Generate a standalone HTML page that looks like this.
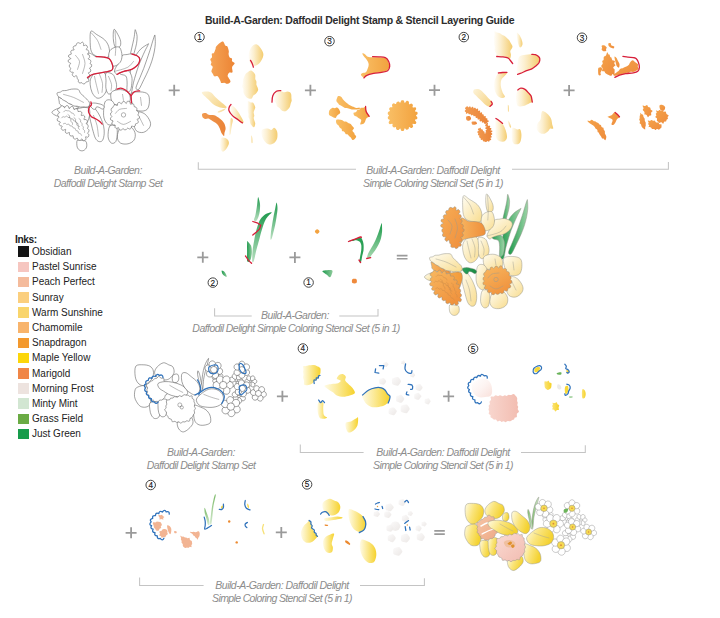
<!DOCTYPE html>
<html><head><meta charset="utf-8">
<style>
html,body{margin:0;padding:0;background:#fff;}
body{width:720px;height:618px;position:relative;overflow:hidden;font-family:"Liberation Sans",sans-serif;}
.t{position:absolute;white-space:nowrap;line-height:1;}
.ttl{font-weight:bold;color:#2d2d2d;font-size:10.5px;letter-spacing:-0.23px;}
.cap{font-style:italic;color:#8c8c8c;font-size:10.5px;letter-spacing:-0.5px;text-align:center;width:300px;}
.ink{font-size:10px;color:#222;}
.sw{position:absolute;width:10.5px;height:10.5px;left:18px;}
svg{position:absolute;left:0;top:0;}
</style></head><body>
<svg width="720" height="618" viewBox="0 0 720 618">
<defs>
<linearGradient id="gYl" x1="0" y1="0" x2="1" y2="0"><stop offset="0" stop-color="#fffdf8"/><stop offset="0.35" stop-color="#fcefcf"/><stop offset="1" stop-color="#f4cc6e"/></linearGradient>
<linearGradient id="gYlL" x1="0" y1="0" x2="1" y2="0.6"><stop offset="0" stop-color="#fdf3d8"/><stop offset="1" stop-color="#f6d68c"/></linearGradient>
<linearGradient id="gOr" x1="0" y1="0" x2="1" y2="0"><stop offset="0" stop-color="#f5a456"/><stop offset="1" stop-color="#ec8434"/></linearGradient>
<linearGradient id="gOr2" x1="0" y1="0" x2="1" y2="0"><stop offset="0" stop-color="#f19a50"/><stop offset="1" stop-color="#ea8338"/></linearGradient>
<linearGradient id="gPale" x1="0" y1="0" x2="1" y2="1"><stop offset="0" stop-color="#fffdf3"/><stop offset="1" stop-color="#f8dc8e"/></linearGradient>
<linearGradient id="gLeaf" x1="0" y1="0" x2="1" y2="0"><stop offset="0" stop-color="#1d9a4c"/><stop offset="1" stop-color="#9fd4a8"/></linearGradient>
<linearGradient id="gTube" x1="0" y1="0" x2="1" y2="0"><stop offset="0" stop-color="#f7b560"/><stop offset="1" stop-color="#ef8f3a"/></linearGradient>
<linearGradient id="gFront" x1="0" y1="0" x2="1" y2="1"><stop offset="0" stop-color="#f7ad55"/><stop offset="1" stop-color="#ef8e3c"/></linearGradient>
<linearGradient id="gTr3" x1="0" y1="0" x2="1" y2="0"><stop offset="0" stop-color="#f9bf66"/><stop offset="1" stop-color="#f2a23e"/></linearGradient>
<linearGradient id="gOr4" x1="0" y1="0" x2="1" y2="1"><stop offset="0" stop-color="#f4a24a"/><stop offset="1" stop-color="#ee8c3c"/></linearGradient>
<linearGradient id="gMY" x1="0" y1="0" x2="1" y2="0.35"><stop offset="0" stop-color="#fffbe4"/><stop offset="0.5" stop-color="#fae47a"/><stop offset="1" stop-color="#f4d230"/></linearGradient>
<linearGradient id="gLeaf2" x1="0" y1="0" x2="1" y2="0"><stop offset="0" stop-color="#7cbf6a"/><stop offset="1" stop-color="#d6ecd0"/></linearGradient>
<linearGradient id="gPeach" x1="0" y1="0" x2="1" y2="1"><stop offset="0" stop-color="#f6c6a8"/><stop offset="1" stop-color="#eeaa86"/></linearGradient>
<linearGradient id="gPink" x1="0" y1="0" x2="1" y2="1"><stop offset="0" stop-color="#fadbd4"/><stop offset="1" stop-color="#f2bcb0"/></linearGradient>
<linearGradient id="gLeafV" x1="0" y1="0" x2="0" y2="1"><stop offset="0" stop-color="#1f9a4e"/><stop offset="1" stop-color="#b9dfc0"/></linearGradient>
<linearGradient id="gLeafV2" x1="0" y1="0" x2="0" y2="1"><stop offset="0" stop-color="#1a9a4a"/><stop offset="1" stop-color="#a8d8b0"/></linearGradient>
<linearGradient id="gLeaf3" x1="0" y1="0" x2="0" y2="1"><stop offset="0" stop-color="#79b866"/><stop offset="1" stop-color="#d5ebcf"/></linearGradient>
<linearGradient id="gMY2" x1="0" y1="0" x2="1" y2="0"><stop offset="0" stop-color="#fffbe6"/><stop offset="1" stop-color="#f6d22c"/></linearGradient>
<linearGradient id="gMY3" x1="0" y1="0" x2="1" y2="0"><stop offset="0" stop-color="#fbe478"/><stop offset="1" stop-color="#f6d126"/></linearGradient>
<linearGradient id="gFrost" x1="0" y1="0" x2="1" y2="1"><stop offset="0" stop-color="#fbfafa"/><stop offset="1" stop-color="#ece8e6"/></linearGradient>
<linearGradient id="gPinkF" x1="0" y1="0" x2="1" y2="1"><stop offset="0" stop-color="#ffffff"/><stop offset="0.5" stop-color="#fdf3f1"/><stop offset="1" stop-color="#f9e0da"/></linearGradient>
<linearGradient id="gPink2" x1="0" y1="0" x2="1" y2="0"><stop offset="0" stop-color="#f8d6ce"/><stop offset="1" stop-color="#f2bcb0"/></linearGradient>
<linearGradient id="gTube2" x1="0" y1="0" x2="1" y2="0"><stop offset="0" stop-color="#f6a848"/><stop offset="1" stop-color="#f39a3a"/></linearGradient>
<linearGradient id="gStem" x1="0" y1="0" x2="1" y2="0"><stop offset="0" stop-color="#2aa05a"/><stop offset="1" stop-color="#1a8a44"/></linearGradient>
<linearGradient id="gLeafV3" x1="0" y1="0" x2="1" y2="0"><stop offset="0" stop-color="#1f9a4e"/><stop offset="1" stop-color="#8fcb9c"/></linearGradient>
<linearGradient id="gCen" x1="0" y1="0" x2="0.6" y2="1"><stop offset="0" stop-color="#f8b860"/><stop offset="1" stop-color="#f0933e"/></linearGradient>
</defs>
<path d="M135 30.4C134.8 31.4 134.6 34.2 134.3 36.3C134 38.4 133.4 40.8 132.9 43.1C132.4 45.3 131.8 47.6 131.3 50C130.7 52.3 130.2 55.2 129.8 57.1C129.5 58.9 129 60.4 129.3 61.2C129.6 61.9 131.1 62.2 131.7 61.6C132.2 61.1 132.3 59.5 132.8 57.7C133.3 55.9 134.1 53.2 134.7 50.8C135.4 48.5 136.1 46.1 136.5 43.7C136.9 41.3 137.2 38.7 137.1 36.5C137 34.2 135.9 31.4 135.6 30.4C135.2 29.4 135.2 29.4 135 30.4Z" fill="#fff" stroke="#555" stroke-width="0.55"/>
<path d="M147.8 44.2C146.6 44.9 143.2 46.8 141.2 48.6C139.3 50.4 137.6 52.5 136.2 54.9C134.7 57.4 133.3 60.3 132.3 63.3C131.3 66.2 130.7 69.6 130.1 72.7C129.5 75.8 129 78.6 128.6 82C128.3 85.4 127.5 91.2 127.9 93.2C128.3 95.1 130.2 95.3 131.1 93.6C132 91.9 132.6 86.1 133.4 82.8C134.2 79.6 135 77 135.9 74.1C136.8 71.2 137.7 68.2 138.7 65.5C139.7 62.8 140.8 60.3 141.8 57.9C142.9 55.5 143.7 53.4 144.8 51.2C145.8 49 147.7 45.8 148.2 44.6C148.7 43.4 148.9 43.5 147.8 44.2Z" fill="#fff" stroke="#555" stroke-width="0.55"/>
<path d="M154.4 35.9C153.9 37.1 152.9 40.6 152.1 43.1C151.4 45.6 150.7 48.1 149.8 50.8C148.9 53.6 147.8 56.6 146.8 59.6C145.8 62.5 144.8 65.5 143.7 68.5C142.5 71.4 141.3 74.3 140 77.5C138.7 80.7 136.2 85.8 136 87.7C135.9 89.7 137.6 90.5 139 89.1C140.3 87.6 142.4 82.4 144 79.3C145.6 76.2 147 73.4 148.3 70.3C149.6 67.3 150.8 64.3 151.8 61.2C152.8 58.2 153.6 54.9 154.2 52C154.8 49.1 155.1 46.3 155.3 43.7C155.4 41 155.1 37.2 155 35.9C154.9 34.6 154.9 34.7 154.4 35.9Z" fill="#fff" stroke="#555" stroke-width="0.55"/>
<path d="M119.2 71.6C119.8 70.9 122.9 69.9 124.5 69.8C126.1 69.7 127.8 70 129 71.2C130.2 72.4 131.3 74.9 131.8 76.9C132.3 79 132 81.3 131.8 83.5C131.6 85.7 131.3 88.7 130.5 90.1C129.7 91.5 127.7 93.2 127.1 91.9C126.5 90.6 127.3 84.8 127.1 82.1C126.9 79.4 126.9 77.3 125.8 76C124.7 74.7 121.7 74.9 120.6 74.2C119.5 73.5 118.5 72.3 119.2 71.6Z" fill="#fff" stroke="#555" stroke-width="0.55"/>
<path d="M114 29.4C114.8 28.7 116.8 32.6 117.9 34.6C119 36.6 120.3 39.2 120.6 41.2C120.9 43.2 120.8 45.5 119.9 46.5C119 47.5 116.4 48.5 115.3 47.2C114.2 45.9 113.5 41.6 113.3 38.6C113.1 35.6 113.2 30.1 114 29.4Z" fill="#fff" stroke="#555" stroke-width="0.55"/>
<path d="M90.9 31.3C92 30 94.5 33.2 96.8 34.6C99.1 36 102.7 37.9 104.7 39.9C106.7 41.9 107.9 44.1 108.7 46.5C109.5 48.9 109.8 52.5 109.3 54.4C108.9 56.3 108.1 57.4 106 57.7C103.9 58 99.2 57.4 96.8 56.4C94.4 55.4 92.6 54.1 91.5 51.8C90.4 49.5 90.3 46 90.2 42.6C90.1 39.2 89.8 32.6 90.9 31.3Z" fill="#fff" stroke="#555" stroke-width="0.55"/>
<path d="M122.3 55.5C123.5 54.4 125.5 54.8 127.1 54.5C128.7 54.2 130.2 53.7 131.8 53.9C133.4 54.1 135.3 54.9 136.5 55.5C137.7 56.1 138.7 56.7 139.2 57.6C139.7 58.5 140 59.6 139.7 60.8C139.4 62 138.6 63.8 137.6 65C136.6 66.2 135.3 67.2 133.9 68.1C132.5 69 130.9 69.7 129.2 70.2C127.5 70.7 125.5 70.9 123.9 71.3C122.3 71.8 120.8 72.4 119.7 72.9C118.6 73.4 118 74.7 117.1 74.4C116.2 74.1 114.6 72.7 114.5 71.3C114.4 69.9 115.7 67.7 116.6 66C117.5 64.3 119 62.8 120 61C121 59.2 121.1 56.6 122.3 55.5Z" fill="#fff" stroke="#555" stroke-width="0.55"/>
<path d="M95.5 72.9C97.4 71.8 100.4 71.2 102.1 71.6C103.9 72 105.1 73.5 106 75.5C106.9 77.5 107.4 80.8 107.4 83.5C107.4 86.2 106.9 89.2 106 91.4C105.1 93.6 103.6 95.6 102.1 96.7C100.6 97.8 98.5 98.7 96.8 98C95.2 97.3 93.3 94.9 92.2 92.7C91.1 90.5 90.4 87.2 90.2 84.8C90 82.4 90 80.2 90.9 78.2C91.8 76.2 93.6 74 95.5 72.9Z" fill="#fff" stroke="#555" stroke-width="0.55"/>
<path d="M106 72.9C107.1 71.8 111.1 73.1 112.6 74.2C114.2 75.3 114.6 77.5 115.3 79.5C116 81.5 116.7 84.1 116.6 86.1C116.5 88.1 115.9 90.1 114.6 91.4C113.3 92.7 110.1 94.5 108.7 94C107.3 93.6 106.5 90.9 106 88.7C105.5 86.5 106 83.4 106 80.8C106 78.2 104.9 74 106 72.9Z" fill="#fff" stroke="#555" stroke-width="0.55"/>
<path d="M110 50.5C111.1 48.9 113.7 47.7 115.3 47.2C117 46.8 118.8 46.4 119.9 47.8C121 49.2 122 53.3 122 55.7C122 58.1 121.4 60.6 120.2 62.3C119 64 116.6 65.6 115 66C113.4 66.4 111.7 66.2 110.7 64.7C109.6 63.2 108.8 59.5 108.7 57.1C108.6 54.7 108.9 52.1 110 50.5Z" fill="#fff" stroke="#555" stroke-width="0.55"/>
<path d="M88 54.4C89.4 50.9 93.4 56.1 96 56.6C98.6 57 101.7 56.7 103.9 57.1C106.1 57.4 107.9 57.7 109.2 58.7C110.5 59.7 111.2 61.5 111.8 62.9C112.4 64.3 112.9 65.9 112.9 67.1C112.9 68.3 113 69.4 111.8 70.2C110.7 71 108.4 71.3 106 71.8C103.6 72.3 100.1 72.9 97.6 73.4C95.2 73.9 93 74.3 91.3 75C89.6 75.7 88.2 81 87.6 77.6C87.1 74.2 86.6 57.9 88 54.4Z" fill="#fff" stroke="#555" stroke-width="0.55"/>
<path d="M75.9 45.7C76.4 45.3 76.2 44.1 76.6 43.6C77 43.1 77.7 42.8 78.4 42.7C79 42.7 79.8 43.6 80.4 43.5C81 43.4 81.6 42.1 82.1 42.1C82.7 42 83.4 42.7 83.6 43.4C83.9 44 83.2 45.5 83.6 45.7C84 46 85.5 44.8 86.1 45C86.8 45.3 87.5 46.6 87.5 47.3C87.5 48 86 48.9 86.1 49.4C86.2 49.9 87.7 49.7 88.1 50.2C88.6 50.7 88.9 51.7 88.8 52.3C88.6 53 87.3 53.6 87.4 54C87.5 54.5 88.9 54.7 89.3 55.2C89.6 55.8 89.8 56.6 89.6 57.2C89.4 57.8 88.1 58.5 88.2 58.9C88.3 59.4 89.7 59.4 90.2 59.9C90.6 60.3 90.9 61.1 90.9 61.7C90.9 62.3 89.8 63.2 90 63.7C90.1 64.1 91.4 64.1 91.6 64.6C91.8 65.2 91.6 66.4 91.2 67C90.9 67.6 89.6 67.6 89.5 68.1C89.5 68.6 90.6 69.3 90.8 70C90.9 70.6 90.7 71.4 90.3 71.9C89.9 72.4 88.4 72.4 88.3 72.9C88.2 73.4 89.5 74.1 89.7 74.8C89.8 75.4 89.6 76.2 89.2 76.7C88.8 77.2 87.1 77.2 87 77.7C87 78.2 88.5 78.9 88.7 79.5C88.9 80.2 88.8 81.1 88.4 81.5C87.9 81.9 86.7 81.6 86.2 81.9C85.7 82.3 85.6 83.1 85.1 83.4C84.6 83.8 83.7 84.1 83.2 84C82.7 83.9 82.5 82.9 81.9 82.7C81.4 82.5 80.5 83.1 79.9 83C79.3 82.9 78.5 82.4 78.3 81.9C78.1 81.4 78.7 80.4 78.5 79.9C78.3 79.3 77.5 79 77.2 78.6C77 78.2 77.2 77.9 77.1 77.4C76.9 76.9 76.7 75.6 76.2 75.5C75.7 75.4 74.7 77 74.1 76.8C73.4 76.7 72.5 75.4 72.3 74.7C72.2 74 73.5 72.8 73.3 72.4C73 72 71.5 72.4 70.9 72.1C70.3 71.8 69.9 71 69.9 70.4C69.8 69.8 70.8 69 70.7 68.4C70.6 67.8 69.8 67.6 69.5 67C69.3 66.5 69.2 65.6 69.4 65C69.5 64.5 70.8 64 70.7 63.4C70.5 62.9 68.7 62.5 68.3 61.9C68 61.3 68.1 60.5 68.5 59.9C68.9 59.4 70.8 59.1 70.8 58.6C70.9 58.1 69 57.6 68.7 57C68.4 56.4 68.4 55.5 68.9 55C69.3 54.5 71 54.6 71.3 54.1C71.6 53.6 70.6 52.5 70.7 51.9C70.8 51.2 71.2 50.6 71.8 50.2C72.4 49.9 73.8 50.3 74.1 49.9C74.3 49.5 73.1 48.4 73.1 47.8C73.1 47.1 73.5 46.4 74 46C74.5 45.7 75.5 46.1 75.9 45.7Z" fill="#fff" stroke="#555" stroke-width="0.55"/>
<path d="M111.2 92.6C112.5 90.3 117.5 89.6 120.3 89.6C123.1 89.6 126.3 91.1 128 92.6C129.7 94.1 130.3 96.9 130.3 98.7C130.3 100.5 129.7 102.3 128 103.3C126.3 104.3 122.9 104.8 120.3 104.8C117.8 104.8 114.2 105.3 112.7 103.3C111.2 101.3 109.9 94.9 111.2 92.6Z" fill="#fff" stroke="#555" stroke-width="0.55"/>
<path d="M131.1 94.2C132.1 91.5 137.4 91.9 140.2 91.9C143 91.9 146.4 92.6 147.9 94.2C149.4 95.9 149.5 99.3 149.4 101.8C149.3 104.3 148.6 107.9 147.1 109.4C145.6 110.9 142.4 111.3 140.2 111C138 110.8 135.6 110.7 134.1 107.9C132.6 105.1 130.1 96.9 131.1 94.2Z" fill="#fff" stroke="#555" stroke-width="0.55"/>
<path d="M137.2 112.5C139 111 142.6 112.5 144.8 114C147 115.5 149.4 119.4 150.2 121.7C151 124 150.5 126 149.4 127.8C148.2 129.6 145.5 131.9 143.3 132.4C141.1 132.9 137.9 132.3 136.4 130.8C134.9 129.3 134 126.3 134.1 123.2C134.2 120.2 135.4 114 137.2 112.5Z" fill="#fff" stroke="#555" stroke-width="0.55"/>
<path d="M120.4 127.8C122.4 126 127.1 125.4 129.5 126.2C131.9 127 134.1 130.1 134.9 132.4C135.7 134.7 135.3 138.1 134.1 140C133 141.9 130.3 143.3 128 143.8C125.7 144.3 122.2 144.2 120.4 143C118.6 141.9 117.3 139.4 117.3 136.9C117.3 134.4 118.4 129.6 120.4 127.8Z" fill="#fff" stroke="#555" stroke-width="0.55"/>
<path d="M109.7 126.2C111 124.4 114.5 125.2 115.8 126.2C117.1 127.2 117.3 129.8 117.3 132.4C117.3 135 116.8 139.7 115.8 141.5C114.8 143.3 112.5 143.8 111.2 143C109.9 142.2 108.4 139.7 108.1 136.9C107.9 134.1 108.4 128 109.7 126.2Z" fill="#fff" stroke="#555" stroke-width="0.55"/>
<path d="M105.1 101.8C106.4 99.3 109.5 99.5 111.2 100.3C112.8 101.1 114.5 103.6 115 106.4C115.5 109.2 114.9 114 114.3 117.1C113.7 120.1 112.5 123.7 111.2 124.7C109.9 125.7 107.9 124.7 106.6 123.2C105.3 121.7 103.9 119.1 103.6 115.5C103.4 111.9 103.8 104.3 105.1 101.8Z" fill="#fff" stroke="#555" stroke-width="0.55"/>
<path d="M112.9 107.5C113.2 107.1 113.2 106.1 113.6 105.7C114 105.2 114.7 104.9 115.3 104.8C115.9 104.8 116.9 105.8 117.3 105.5C117.7 105.3 117.4 103.8 117.7 103.2C118.1 102.7 118.8 102.3 119.4 102.4C120.1 102.5 120.9 103.9 121.4 103.8C122 103.7 122.2 102.2 122.7 101.8C123.2 101.5 124 101.4 124.6 101.7C125.2 101.9 125.7 103.5 126.2 103.5C126.7 103.4 126.8 101.5 127.4 101.3C128.1 101 129.4 101.5 129.9 102C130.4 102.5 130.1 104 130.4 104.2C130.8 104.5 131.7 103.7 132.3 103.8C132.9 103.9 133.7 104.2 134 104.6C134.3 105.1 133.8 106.2 134.2 106.6C134.5 107 135.5 106.8 136 107.2C136.5 107.6 136.9 108.3 137 108.9C137.1 109.5 136.4 110.3 136.6 110.7C136.8 111.2 137.8 111.2 138.2 111.7C138.5 112.2 138.7 113 138.6 113.5C138.6 114.1 137.7 114.8 137.8 115.2C137.9 115.7 139.2 115.7 139.4 116.3C139.6 116.9 139.4 118.1 139 118.6C138.6 119.1 137.2 118.9 137.1 119.4C137 119.9 138.2 120.8 138.3 121.5C138.4 122.1 138.1 122.8 137.6 123.2C137.1 123.6 135.9 123.5 135.5 123.9C135.1 124.3 135.6 125.3 135.3 125.7C134.9 126.2 134.1 126.5 133.6 126.6C133 126.6 132.1 125.8 131.7 126C131.3 126.3 131.5 127.7 131.1 128.2C130.8 128.7 130 129 129.4 129C128.8 129 128.1 128 127.6 128.1C127 128.2 126.8 129.3 126.3 129.5C125.7 129.8 124.9 129.9 124.4 129.7C123.8 129.6 123.3 128.5 122.8 128.6C122.3 128.7 122.1 129.9 121.5 130.1C120.9 130.3 119.7 130 119.2 129.6C118.7 129.2 119.1 127.9 118.6 127.7C118.2 127.5 117.2 128.4 116.6 128.3C116 128.3 115.2 127.9 115 127.4C114.7 126.8 115.6 125.6 115.2 125.1C114.9 124.7 113.3 125.1 112.7 124.7C112.2 124.4 111.9 123.7 111.9 123C112 122.4 113.2 121.4 113 120.9C112.8 120.4 111.2 120.4 110.8 120C110.4 119.5 110.4 118.6 110.5 118.1C110.7 117.5 111.8 116.9 111.9 116.4C111.9 116 110.9 115.7 110.7 115.1C110.5 114.6 110.5 113.6 110.7 113C111 112.5 112.1 112.3 112.1 111.9C112.2 111.4 111.2 110.8 111.1 110.2C111 109.6 111.2 108.8 111.5 108.3C111.8 107.9 112.5 107.9 112.9 107.5Z" fill="#fff" stroke="#555" stroke-width="0.55"/>
<circle cx="123.5" cy="114.9" r="2.2" fill="none" stroke="#666" stroke-width="0.5"/>
<path d="M51.9 112.4C51.9 111.3 54.7 109.8 56.3 109.1C58 108.4 60.7 107.4 61.8 108C62.9 108.6 63.1 111.5 62.9 112.9C62.7 114.3 61.8 115.7 60.7 116.2C59.6 116.7 57.8 116.3 56.3 115.7C54.8 115.1 51.9 113.5 51.9 112.4Z" fill="#fff" stroke="#555" stroke-width="0.55"/>
<path d="M77.2 140.4C77.9 139.3 80.1 140.2 81.6 140.4C83.1 140.6 85.2 140.4 86 141.5C86.8 142.6 87 145.6 86.6 147.1C86.2 148.6 84.9 149.8 83.8 150.4C82.7 151 81.1 151 80 150.4C78.9 149.8 77.7 148.8 77.2 147.1C76.7 145.4 76.5 141.5 77.2 140.4Z" fill="#fff" stroke="#555" stroke-width="0.55"/>
<path d="M88.8 105.8C89.6 105.1 92.1 106.2 93.7 107.4C95.2 108.6 96.8 110.9 98.1 112.9C99.4 114.9 100.5 117.3 101.4 119.5C102.3 121.7 103.1 123.7 103.6 126.1C104.1 128.5 104.4 131.4 104.2 133.8C104 136.2 103.4 139.1 102.5 140.4C101.6 141.7 99.9 141.9 98.7 141.5C97.5 141.1 96.3 139.9 95.4 138.2C94.5 136.6 93.8 133.8 93.2 131.6C92.5 129.4 92 127.2 91.5 125C91 122.8 90.3 120.6 89.9 118.4C89.4 116.2 89 113.9 88.8 111.8C88.6 109.7 88 106.5 88.8 105.8Z" fill="#fff" stroke="#555" stroke-width="0.55"/>
<path d="M58.7 97.2C59.1 97 60.8 98.3 61.7 98.7C62.5 99.1 63 98.9 63.7 99.3C64.4 99.7 65.3 100.8 65.9 101.2C66.6 101.6 67.1 101.3 67.6 101.7C68.2 102.2 68.7 103.2 69.4 103.7C70.1 104.1 71.3 104.1 71.9 104.3C72.4 104.5 72.3 104.8 72.9 105C73.5 105.3 74.9 105.6 75.5 105.9C76.1 106.1 75.8 106.3 76.3 106.5C76.8 106.8 78.7 107.1 78.6 107.5C78.5 107.9 76.6 108.7 75.9 109C75.3 109.3 75.3 109.2 74.7 109.2C74.1 109.1 72.9 108.6 72.3 108.6C71.6 108.5 71.4 108.9 70.8 108.8C70.2 108.7 69.4 108 68.7 108C68.1 107.9 67.4 108.4 66.8 108.3C66.2 108.1 66 107.5 65.3 107.2C64.6 106.9 63.2 106.8 62.4 106.5C61.7 106.1 61.4 105.7 60.9 105.2C60.4 104.7 59.6 104 59.4 103.5C59.1 102.9 59.4 102.6 59.3 102C59.2 101.3 58.9 100.3 58.8 99.5C58.7 98.7 58.2 97.3 58.7 97.2Z" fill="#fff" stroke="#555" stroke-width="0.55"/>
<path d="M76.1 109.1C76.7 108.5 79 108.3 80.5 108C82 107.7 83.5 107.3 84.9 107.4C86.3 107.5 88 107.6 88.8 108.5C89.6 109.4 89.9 111.3 89.9 112.9C89.9 114.5 89.3 116.8 88.8 118.4C88.3 120 87.7 121.5 87.1 122.8C86.6 124.1 86.2 126.3 85.5 126.1C84.8 125.9 83.7 123.4 82.7 121.7C81.7 120.1 80.4 117.9 79.4 116.2C78.4 114.6 77.2 113 76.7 111.8C76.1 110.6 75.5 109.7 76.1 109.1Z" fill="#fff" stroke="#555" stroke-width="0.55"/>
<path d="M59.7 108C60.2 107.6 60.4 106.4 61 106.1C61.5 105.7 62.3 105.6 62.9 105.9C63.5 106.2 64 107.7 64.6 107.7C65.2 107.6 65.7 105.9 66.3 105.7C66.9 105.4 67.7 105.6 68.2 106.1C68.7 106.5 68.7 108.5 69.2 108.6C69.7 108.7 70.5 106.8 71.2 106.5C71.8 106.3 72.6 106.4 73.1 106.9C73.6 107.4 73.5 109.2 74 109.5C74.4 109.8 75.3 108.7 75.9 108.7C76.5 108.7 77.4 109 77.7 109.4C78.1 109.9 77.6 111.2 78 111.5C78.5 111.8 80 111.1 80.6 111.4C81.3 111.6 81.8 112.2 81.9 112.9C82 113.6 80.9 115 81.2 115.4C81.5 115.8 83.1 115 83.7 115.3C84.3 115.5 84.8 116.4 84.8 117.1C84.8 117.8 83.6 119 83.9 119.4C84.1 119.8 85.7 119.3 86.3 119.7C86.9 120 87.4 121.1 87.4 121.7C87.3 122.4 86.1 123.1 86.1 123.6C86.2 124.1 87.3 124.2 87.7 124.7C88 125.2 88.3 126 88.2 126.6C88.2 127.2 87.4 127.8 87.5 128.4C87.6 128.9 88.7 129.2 88.9 129.8C89.1 130.3 89 131.2 88.8 131.7C88.5 132.3 87.4 132.6 87.4 133.1C87.4 133.6 88.8 134 88.9 134.7C89 135.4 88.5 136.9 87.9 137.2C87.4 137.6 86 136.5 85.6 136.8C85.3 137.2 86.3 138.7 85.9 139.4C85.5 140 84 140.8 83.3 140.7C82.7 140.6 82.4 138.9 81.9 138.8C81.4 138.8 81 140 80.4 140.2C79.8 140.5 78.9 140.6 78.4 140.2C77.9 139.9 77.9 138.4 77.3 138.2C76.8 138 75.9 139.1 75.2 139.1C74.6 139.1 73.8 138.7 73.4 138.2C73.1 137.6 73.5 136.2 73.1 135.8C72.7 135.5 71.6 136.2 71 136.1C70.4 135.9 69.7 135.4 69.5 134.8C69.2 134.2 69.8 132.8 69.4 132.5C69 132.3 67.5 133.4 66.8 133.4C66.2 133.3 65.5 132.8 65.3 132.1C65.1 131.5 66 129.7 65.6 129.4C65.2 129.1 63.6 130.5 62.9 130.3C62.2 130.2 61.3 129.2 61.2 128.5C61.1 127.8 62.4 126.6 62.2 126.2C62.1 125.7 60.6 126.1 60.1 125.7C59.6 125.4 59 124.6 59.1 124C59.1 123.4 60.5 122.5 60.3 122C60 121.4 58.1 121.4 57.6 120.9C57.1 120.4 57.1 119.6 57.3 118.9C57.5 118.3 59 117.7 59 117.2C59.1 116.6 58 116.2 57.8 115.7C57.6 115.1 57.7 114.2 58 113.7C58.4 113.1 59.8 112.9 59.7 112.4C59.7 111.9 58 111.3 57.7 110.7C57.4 110 57.6 109.1 58 108.7C58.3 108.2 59.2 108.4 59.7 108Z" fill="#fff" stroke="#555" stroke-width="0.55"/>
<path d="M63.6 111.9C63.9 111.6 64.8 110.6 65.4 110.4C66 110.2 66.6 110.8 67.3 110.8C68 110.9 69.1 110.6 69.7 111C70.4 111.3 70.5 112.3 71.1 112.8C71.8 113.2 72.8 113.1 73.4 113.5C73.9 114 74.3 115.1 74.5 115.4" fill="none" stroke="#666" stroke-width="0.45" stroke-linecap="round" stroke-linejoin="round"/>
<path d="M61.6 117.9C61.8 117.7 62.5 116.7 63.1 116.6C63.6 116.5 64.3 117.3 64.9 117.2C65.5 117.1 66.2 115.9 66.7 115.9C67.2 116 67.4 117.3 68 117.5C68.5 117.8 69.5 117.1 70 117.3C70.6 117.5 70.7 118.5 71.2 118.8C71.7 119.1 72.6 118.7 73.1 119C73.5 119.3 73.3 120.5 73.7 120.8C74.1 121.1 75.2 120.7 75.6 121C76 121.3 75.7 122.3 76.1 122.7C76.5 123.1 77.6 123 77.9 123.4C78.2 123.9 77.8 124.9 78.1 125.4C78.4 125.9 79.3 126.2 79.5 126.4" fill="none" stroke="#666" stroke-width="0.45" stroke-linecap="round" stroke-linejoin="round"/>
<path d="M63.4 123.9C63.7 123.8 64.7 123.1 65.3 123.2C65.8 123.4 66.2 124.4 66.7 124.6C67.3 124.7 68.2 123.8 68.8 124C69.3 124.2 69.4 125.5 69.9 125.8C70.5 126.2 71.6 125.7 72.1 126C72.6 126.3 72.6 127.4 73.1 127.8C73.7 128.2 74.7 127.9 75.2 128.4C75.6 128.8 75.4 130 75.8 130.4C76.3 130.9 77.4 130.6 77.9 131C78.3 131.5 78 132.6 78.5 133.1C78.9 133.5 80 133.3 80.5 133.7C81 134.1 81.3 135.1 81.5 135.4" fill="none" stroke="#666" stroke-width="0.45" stroke-linecap="round" stroke-linejoin="round"/>
<path d="M68 114.6C68.3 114.8 69.4 115.3 69.6 115.9C69.9 116.4 69.1 117.4 69.4 117.9C69.6 118.5 70.7 118.7 71 119.2C71.2 119.8 70.5 120.7 70.7 121.3C70.9 121.8 72 122 72.3 122.5C72.6 123.1 72.5 124.1 72.5 124.4" fill="none" stroke="#666" stroke-width="0.45" stroke-linecap="round" stroke-linejoin="round"/>
<path d="M74 117.6C74.3 117.8 75.4 118.6 75.6 119.2C75.9 119.9 75.1 120.9 75.4 121.6C75.6 122.2 76.7 122.6 76.9 123.2C77.2 123.8 76.6 124.6 76.8 125.1C77.1 125.6 78.2 125.7 78.4 126.2C78.7 126.7 78.1 127.6 78.3 128.1C78.5 128.7 79.3 129.2 79.5 129.4" fill="none" stroke="#666" stroke-width="0.45" stroke-linecap="round" stroke-linejoin="round"/>
<path d="M79 118.6C79.3 118.8 80.5 119.4 80.7 120C81 120.5 80.3 121.5 80.5 122.1C80.8 122.7 82 122.9 82.2 123.5C82.5 124 81.8 124.9 82 125.5C82.2 126.1 83.3 126.4 83.5 127C83.6 127.6 82.9 128.5 83 129C83.2 129.6 84.2 130 84.5 130.5C84.7 131.1 84.5 132.1 84.5 132.4" fill="none" stroke="#666" stroke-width="0.45" stroke-linecap="round" stroke-linejoin="round"/>
<path d="M57.1 93C57.4 92.3 59.4 92.5 60.4 92.1C61.3 91.7 61.6 91 62.6 90.7C63.6 90.5 65.2 90.7 66.3 90.5C67.5 90.3 68.1 89.8 69.4 89.6C70.6 89.3 72.4 88.9 73.9 89C75.4 89 77.3 88.9 78.4 89.6C79.5 90.3 79.5 92 80.4 93.2C81.3 94.3 83.1 95.5 84 96.4C84.9 97.3 85.1 97.8 85.9 98.6C86.6 99.3 87.8 99.8 88.5 100.9C89.1 101.9 90 103.6 89.8 104.6C89.6 105.7 88.3 106.7 87.3 107C86.3 107.4 84.8 106.8 83.7 106.8C82.6 106.8 81.7 107.2 80.6 107.1C79.6 107 78.3 106.4 77.1 106.2C76 106 74.9 106.3 73.9 106C72.9 105.7 72.1 104.8 71.2 104.3C70.3 103.8 69.1 103.7 68.2 103.2C67.3 102.6 66.8 101.8 65.8 101.3C64.9 100.7 63.4 100.3 62.6 99.7C61.8 99.2 61.7 98.6 60.9 98C60.2 97.5 58.8 97.2 58.1 96.4C57.5 95.5 56.7 93.7 57.1 93Z" fill="#fff" stroke="#555" stroke-width="0.55"/>
<path d="M89.9 104.1C90.3 103.5 92.3 103.1 93.7 103C95.1 102.9 96.7 103.3 98.1 103.6C99.5 103.9 101 104.2 102 104.7C103 105.3 104.1 106.2 104.2 106.9C104.3 107.6 103.3 109 102.5 109.1C101.7 109.2 100.2 107.8 99.2 107.4C98.2 107 97.1 106.6 96.5 106.9C95.9 107.2 95.9 108.7 95.4 109.1C94.8 109.5 93.9 109.5 93.2 109.1C92.5 108.7 91.5 107.7 91 106.9C90.5 106.1 89.4 104.7 89.9 104.1Z" fill="#fff" stroke="#555" stroke-width="0.55"/>
<path d="M91.3 32.9C92.3 34.2 95.9 37.7 97.5 40.4C99.1 43.2 100.4 47.9 101 49.4" fill="none" stroke="#666" stroke-width="0.45" stroke-linecap="round" stroke-linejoin="round"/>
<path d="M115 30.9C115.1 33.1 115.8 39.8 115.8 43.9C115.9 48 115.4 53.5 115.3 55.4" fill="none" stroke="#666" stroke-width="0.45" stroke-linecap="round" stroke-linejoin="round"/>
<path d="M114.5 71.4C116.7 70.7 124.3 69.1 127.5 67.4C130.7 65.7 132.5 62.4 133.5 61.4" fill="none" stroke="#666" stroke-width="0.45" stroke-linecap="round" stroke-linejoin="round"/>
<path d="M94.5 76.4C94.8 77.9 95.8 82.6 96.5 85.4C97.2 88.2 98.2 92.1 98.5 93.4" fill="none" stroke="#666" stroke-width="0.45" stroke-linecap="round" stroke-linejoin="round"/>
<path d="M99.5 74.4C100 75.9 102.1 80.4 102.5 83.4C102.9 86.4 102.1 90.9 102 92.4" fill="none" stroke="#666" stroke-width="0.45" stroke-linecap="round" stroke-linejoin="round"/>
<path d="M108.5 76.4C109 77.7 111.1 82.1 111.5 84.4C111.9 86.7 111.1 89.4 111 90.4" fill="none" stroke="#666" stroke-width="0.45" stroke-linecap="round" stroke-linejoin="round"/>
<path d="M75.5 55.4C76.2 56.4 79.2 59.1 79.5 61.4C79.8 63.7 77.8 68.1 77.5 69.4" fill="none" stroke="#666" stroke-width="0.45" stroke-linecap="round" stroke-linejoin="round"/>
<path d="M82.5 54.4C82.9 55.9 85 60.2 85 63.4C85 66.6 82.9 71.7 82.5 73.4" fill="none" stroke="#666" stroke-width="0.45" stroke-linecap="round" stroke-linejoin="round"/>
<path d="M63.5 94.4C65.2 94.9 70.2 96.1 73.5 97.4C76.8 98.7 81.8 101.6 83.5 102.4" fill="none" stroke="#666" stroke-width="0.45" stroke-linecap="round" stroke-linejoin="round"/>
<path d="M93.5 115.4C94.1 117.1 96.2 121.9 97 125.4C97.8 128.9 98.2 134.6 98.5 136.4" fill="none" stroke="#666" stroke-width="0.45" stroke-linecap="round" stroke-linejoin="round"/>
<path d="M115.5 113.4C116.2 112.7 117.7 110.2 119.5 109.4C121.3 108.6 125.3 108.6 126.5 108.4" fill="none" stroke="#666" stroke-width="0.45" stroke-linecap="round" stroke-linejoin="round"/>
<path d="M117.5 121.4C118.5 121.9 121.3 124.4 123.5 124.4C125.7 124.4 129.3 121.9 130.5 121.4" fill="none" stroke="#666" stroke-width="0.45" stroke-linecap="round" stroke-linejoin="round"/>
<path d="M122.5 94.4C122.7 95.4 123.3 99.4 123.5 100.4" fill="none" stroke="#666" stroke-width="0.45" stroke-linecap="round" stroke-linejoin="round"/>
<path d="M140.5 97.4C140.7 98.7 141.3 104.1 141.5 105.4" fill="none" stroke="#666" stroke-width="0.45" stroke-linecap="round" stroke-linejoin="round"/>
<path d="M139.5 117.4C140.2 118.7 142.8 124.1 143.5 125.4" fill="none" stroke="#666" stroke-width="0.45" stroke-linecap="round" stroke-linejoin="round"/>
<path d="M96 56.6C97.3 56.7 101.7 56.8 103.9 57.1C106.1 57.5 107.9 57.7 109.2 58.7C110.5 59.7 111.2 61.5 111.8 62.9C112.4 64.3 112.9 65.9 112.9 67.1C112.9 68.3 113 69.4 111.8 70.2C110.6 71 108.4 71.3 106 71.8C103.6 72.3 100 72.9 97.6 73.4C95.1 73.9 93 74.3 91.3 75C89.6 75.7 88.2 77.2 87.6 77.6" fill="none" stroke="#d81f3a" stroke-width="1.3" stroke-linecap="round" stroke-linejoin="round"/>
<path d="M131.8 53.9C132.6 54.2 135.3 54.9 136.5 55.5C137.7 56.1 138.7 56.7 139.2 57.6C139.7 58.5 140 59.6 139.7 60.8C139.4 62 138.6 63.8 137.6 65C136.6 66.2 135.3 67.2 133.9 68.1C132.5 69 130.9 69.7 129.2 70.2C127.5 70.7 125.5 70.8 123.9 71.3C122.3 71.8 120.8 72.4 119.7 72.9C118.6 73.4 117.5 74.2 117.1 74.4" fill="none" stroke="#d81f3a" stroke-width="1.3" stroke-linecap="round" stroke-linejoin="round"/>
<path d="M117.1 89.2C117.7 89 119.5 88 120.8 88.1C122.1 88.2 123.8 89 125 89.7C126.2 90.4 127.1 91.3 128.1 92.3C129.1 93.3 130.3 94.3 130.8 95.5C131.3 96.7 131.2 98.5 131.3 99.7C131.4 100.9 131.3 102.4 131.3 102.9" fill="none" stroke="#d81f3a" stroke-width="1.3" stroke-linecap="round" stroke-linejoin="round"/>
<path d="M131.3 95.5C131.8 94.9 133 92.6 134.4 91.8C135.8 91 138.8 91 139.7 90.8" fill="none" stroke="#d81f3a" stroke-width="1.3" stroke-linecap="round" stroke-linejoin="round"/>
<path d="M90.9 102C91 102.5 91.7 103.9 91.4 104.8C91.1 105.7 89.7 106.4 89.2 107.6C88.7 108.8 88.2 110.7 88.6 112.2C89 113.7 90.2 115.6 91.4 116.7C92.6 117.8 94.7 118.2 96 119C97.3 119.8 98.4 120.4 99.4 121.2C100.4 122 101.7 123.6 102.2 124.1" fill="none" stroke="#d81f3a" stroke-width="1.3" stroke-linecap="round" stroke-linejoin="round"/>
<path d="M507.5 195C507.3 196 507.1 198.8 506.8 200.9C506.5 203 505.9 205.4 505.4 207.7C504.9 209.9 504.3 212.2 503.8 214.6C503.2 216.9 502.7 219.8 502.3 221.7C502 223.5 501.5 225 501.8 225.8C502.1 226.5 503.6 226.8 504.2 226.2C504.7 225.7 504.8 224.1 505.3 222.3C505.8 220.5 506.6 217.8 507.2 215.4C507.9 213.1 508.6 210.7 509 208.3C509.4 205.9 509.7 203.3 509.6 201.1C509.5 198.8 508.4 196 508.1 195C507.7 194 507.7 194 507.5 195Z" fill="url(#gLeaf)" stroke="#8a8a80" stroke-width="0.45"/>
<path d="M520.3 208.8C519.1 209.5 515.7 211.4 513.7 213.2C511.8 215 510.1 217.1 508.7 219.5C507.2 222 505.8 224.9 504.8 227.9C503.8 230.8 503.2 234.2 502.6 237.3C502 240.4 501.5 243.2 501.1 246.6C500.8 250 500 255.8 500.4 257.8C500.8 259.7 502.7 259.9 503.6 258.2C504.5 256.5 505.1 250.7 505.9 247.4C506.7 244.2 507.5 241.6 508.4 238.7C509.3 235.8 510.2 232.8 511.2 230.1C512.2 227.4 513.3 224.9 514.3 222.5C515.4 220.1 516.2 218 517.3 215.8C518.3 213.6 520.2 210.4 520.7 209.2C521.2 208 521.4 208.1 520.3 208.8Z" fill="url(#gLeaf)" stroke="#8a8a80" stroke-width="0.45"/>
<path d="M526.9 200.5C526.4 201.7 525.4 205.2 524.6 207.7C523.9 210.2 523.2 212.7 522.3 215.4C521.4 218.2 520.3 221.2 519.3 224.2C518.3 227.1 517.3 230.1 516.2 233.1C515 236 513.8 238.9 512.5 242.1C511.2 245.3 508.7 250.4 508.5 252.3C508.4 254.3 510.1 255.1 511.5 253.7C512.8 252.2 514.9 247 516.5 243.9C518.1 240.8 519.5 238 520.8 234.9C522.1 231.9 523.3 228.9 524.3 225.8C525.3 222.8 526.1 219.5 526.7 216.6C527.3 213.7 527.6 210.9 527.8 208.3C527.9 205.6 527.6 201.8 527.5 200.5C527.4 199.2 527.4 199.3 526.9 200.5Z" fill="url(#gLeaf)" stroke="#8a8a80" stroke-width="0.45"/>
<path d="M491.7 236.2C492.3 235.5 495.4 234.5 497 234.4C498.6 234.3 500.3 234.6 501.5 235.8C502.7 237 503.8 239.4 504.3 241.5C504.8 243.6 504.5 245.9 504.3 248.1C504.1 250.3 503.8 253.3 503 254.7C502.2 256.1 500.2 257.8 499.6 256.5C499 255.2 499.8 249.3 499.6 246.7C499.4 244 499.4 241.9 498.3 240.6C497.2 239.3 494.2 239.5 493.1 238.8C492 238.1 491.1 236.9 491.7 236.2Z" fill="url(#gLeaf)" stroke="#8a8a80" stroke-width="0.45"/>
<path d="M486.5 194C487.3 193.3 489.3 197.2 490.4 199.2C491.5 201.2 492.8 203.8 493.1 205.8C493.4 207.8 493.3 210.1 492.4 211.1C491.5 212.1 488.9 213.1 487.8 211.8C486.7 210.5 486 206.2 485.8 203.2C485.6 200.2 485.7 194.7 486.5 194Z" fill="url(#gPale)" stroke="#8a8a80" stroke-width="0.45"/>
<path d="M463.4 195.9C464.5 194.6 467 197.8 469.3 199.2C471.6 200.6 475.2 202.5 477.2 204.5C479.2 206.5 480.4 208.7 481.2 211.1C482 213.5 482.2 217.1 481.8 219C481.4 220.9 480.6 222 478.5 222.3C476.4 222.6 471.7 222 469.3 221C466.9 220 465.1 218.7 464 216.4C462.9 214.1 462.8 210.6 462.7 207.2C462.6 203.8 462.3 197.2 463.4 195.9Z" fill="url(#gPale)" stroke="#8a8a80" stroke-width="0.45"/>
<path d="M494.8 220.1C496 219 498 219.4 499.6 219.1C501.2 218.8 502.7 218.3 504.3 218.5C505.9 218.7 507.8 219.5 509 220.1C510.2 220.7 511.2 221.3 511.7 222.2C512.2 223.1 512.5 224.2 512.2 225.4C511.9 226.6 511.1 228.4 510.1 229.6C509.1 230.8 507.8 231.8 506.4 232.7C505 233.6 503.4 234.3 501.7 234.8C500 235.3 498 235.5 496.4 235.9C494.8 236.3 493.3 237 492.2 237.5C491.1 238 490.5 239.3 489.6 239C488.7 238.7 487.1 237.3 487 235.9C486.9 234.5 488.2 232.3 489.1 230.6C490 228.9 491.6 227.3 492.5 225.6C493.4 223.8 493.6 221.2 494.8 220.1Z" fill="url(#gPale)" stroke="#8a8a80" stroke-width="0.45"/>
<path d="M468 237.5C469.9 236.4 472.9 235.8 474.6 236.2C476.4 236.6 477.6 238.1 478.5 240.1C479.4 242.1 479.9 245.4 479.9 248.1C479.9 250.8 479.4 253.8 478.5 256C477.6 258.2 476.1 260.2 474.6 261.3C473.1 262.4 471 263.3 469.3 262.6C467.6 261.9 465.8 259.5 464.7 257.3C463.6 255.1 462.9 251.8 462.7 249.4C462.5 247 462.5 244.8 463.4 242.8C464.3 240.8 466.1 238.6 468 237.5Z" fill="url(#gPale)" stroke="#8a8a80" stroke-width="0.45"/>
<path d="M478.5 237.5C479.6 236.4 483.6 237.7 485.1 238.8C486.7 239.9 487.1 242.1 487.8 244.1C488.5 246.1 489.2 248.7 489.1 250.7C489 252.7 488.4 254.7 487.1 256C485.8 257.3 482.6 259.1 481.2 258.6C479.8 258.2 478.9 255.5 478.5 253.3C478.1 251.1 478.5 248 478.5 245.4C478.5 242.8 477.4 238.6 478.5 237.5Z" fill="url(#gPale)" stroke="#8a8a80" stroke-width="0.45"/>
<path d="M482.5 215.1C483.6 213.4 486.2 212.2 487.8 211.8C489.4 211.4 491.3 211 492.4 212.4C493.5 213.8 494.4 217.9 494.5 220.3C494.6 222.7 493.9 225.2 492.7 226.9C491.5 228.6 489.1 230.2 487.5 230.6C485.9 231 484.2 230.8 483.2 229.3C482.1 227.8 481.3 224.1 481.2 221.7C481.1 219.3 481.4 216.8 482.5 215.1Z" fill="url(#gPale)" stroke="#8a8a80" stroke-width="0.45"/>
<path d="M460.5 219C461.9 215.5 465.9 220.8 468.5 221.2C471.1 221.6 474.2 221.3 476.4 221.7C478.6 222 480.4 222.3 481.7 223.3C483 224.3 483.7 226.1 484.3 227.5C484.9 228.9 485.4 230.5 485.4 231.7C485.4 232.9 485.4 234 484.3 234.8C483.2 235.6 480.9 235.9 478.5 236.4C476.1 236.9 472.6 237.5 470.1 238C467.7 238.5 465.5 238.9 463.8 239.6C462.1 240.3 460.7 245.6 460.1 242.2C459.6 238.8 459.1 222.5 460.5 219Z" fill="url(#gTube)" stroke="#8a8a80" stroke-width="0.45"/>
<path d="M448.4 210.3C448.9 209.9 448.7 208.7 449.1 208.2C449.5 207.7 450.2 207.4 450.9 207.3C451.5 207.3 452.3 208.2 452.9 208.1C453.5 208 454.1 206.7 454.6 206.7C455.2 206.6 455.9 207.3 456.1 208C456.4 208.6 455.7 210.1 456.1 210.3C456.5 210.6 458 209.4 458.6 209.6C459.3 209.9 460 211.2 460 211.9C460 212.6 458.5 213.5 458.6 214C458.7 214.5 460.2 214.3 460.6 214.8C461.1 215.3 461.4 216.3 461.3 216.9C461.1 217.6 459.8 218.2 459.9 218.6C460 219.1 461.4 219.3 461.8 219.8C462.1 220.4 462.3 221.2 462.1 221.8C461.9 222.4 460.6 223.1 460.7 223.5C460.8 224 462.2 224 462.7 224.5C463.1 224.9 463.4 225.7 463.4 226.3C463.4 226.9 462.3 227.8 462.5 228.3C462.6 228.7 463.9 228.7 464.1 229.2C464.3 229.8 464.1 231 463.7 231.6C463.4 232.2 462.1 232.2 462 232.7C462 233.2 463.1 233.9 463.3 234.6C463.4 235.2 463.2 236 462.8 236.5C462.4 237 460.9 237 460.8 237.5C460.7 238 462 238.7 462.2 239.4C462.3 240 462.1 240.8 461.7 241.3C461.3 241.8 459.6 241.8 459.5 242.3C459.5 242.8 461 243.5 461.2 244.1C461.4 244.8 461.3 245.7 460.9 246.1C460.4 246.5 459.2 246.2 458.7 246.5C458.2 246.9 458.1 247.7 457.6 248C457.1 248.4 456.2 248.7 455.7 248.6C455.2 248.5 455 247.5 454.4 247.3C453.9 247.1 453 247.7 452.4 247.6C451.8 247.5 451 247 450.8 246.5C450.6 246 451.2 245 451 244.5C450.8 243.9 450 243.6 449.7 243.2C449.5 242.8 449.7 242.5 449.6 242C449.4 241.5 449.2 240.2 448.7 240.1C448.2 240 447.2 241.6 446.6 241.4C445.9 241.3 445 240 444.8 239.3C444.7 238.6 446 237.4 445.8 237C445.5 236.6 444 237 443.4 236.7C442.8 236.4 442.4 235.6 442.4 235C442.3 234.4 443.3 233.6 443.2 233C443.1 232.4 442.3 232.2 442 231.6C441.8 231.1 441.7 230.2 441.9 229.6C442 229.1 443.3 228.6 443.2 228C443 227.5 441.2 227.1 440.8 226.5C440.5 225.9 440.6 225.1 441 224.5C441.4 224 443.3 223.7 443.3 223.2C443.4 222.7 441.5 222.2 441.2 221.6C440.9 221 440.9 220.1 441.4 219.6C441.8 219.1 443.5 219.2 443.8 218.7C444.1 218.2 443.1 217.1 443.2 216.5C443.3 215.8 443.7 215.2 444.3 214.8C444.9 214.5 446.3 214.9 446.6 214.5C446.8 214.1 445.6 213 445.6 212.4C445.6 211.7 446 211 446.5 210.6C447 210.3 448 210.7 448.4 210.3Z" fill="url(#gFront)" stroke="#8a8a80" stroke-width="0.45"/>
<path d="M483.7 257.2C485 254.9 490 254.2 492.8 254.2C495.6 254.2 498.8 255.7 500.5 257.2C502.2 258.7 502.8 261.5 502.8 263.3C502.8 265.1 502.2 266.9 500.5 267.9C498.8 268.9 495.4 269.4 492.8 269.4C490.2 269.4 486.7 269.9 485.2 267.9C483.7 265.9 482.4 259.5 483.7 257.2Z" fill="url(#gPale)" stroke="#8a8a80" stroke-width="0.45"/>
<path d="M503.6 258.8C504.6 256.1 509.9 256.5 512.7 256.5C515.5 256.5 518.9 257.2 520.4 258.8C521.9 260.4 522 263.9 521.9 266.4C521.8 268.9 521.1 272.5 519.6 274C518.1 275.5 514.9 275.9 512.7 275.6C510.5 275.4 508.1 275.3 506.6 272.5C505.1 269.7 502.6 261.5 503.6 258.8Z" fill="url(#gPale)" stroke="#8a8a80" stroke-width="0.45"/>
<path d="M509.7 277.1C511.5 275.6 515.1 277.1 517.3 278.6C519.5 280.1 521.9 284 522.7 286.3C523.5 288.6 523 290.6 521.9 292.4C520.8 294.2 518 296.5 515.8 297C513.6 297.5 510.4 296.9 508.9 295.4C507.4 293.9 506.5 290.9 506.6 287.8C506.7 284.8 507.9 278.6 509.7 277.1Z" fill="url(#gPale)" stroke="#8a8a80" stroke-width="0.45"/>
<path d="M492.9 292.4C494.9 290.6 499.6 290 502 290.8C504.4 291.6 506.6 294.7 507.4 297C508.2 299.3 507.8 302.7 506.6 304.6C505.5 306.5 502.8 307.9 500.5 308.4C498.2 308.9 494.7 308.8 492.9 307.6C491.1 306.5 489.8 304 489.8 301.5C489.8 299 490.9 294.2 492.9 292.4Z" fill="url(#gPale)" stroke="#8a8a80" stroke-width="0.45"/>
<path d="M482.2 290.8C483.5 289 487 289.8 488.3 290.8C489.6 291.8 489.8 294.4 489.8 297C489.8 299.6 489.3 304.3 488.3 306.1C487.3 307.9 485 308.4 483.7 307.6C482.4 306.8 480.9 304.3 480.6 301.5C480.4 298.7 480.9 292.6 482.2 290.8Z" fill="url(#gPale)" stroke="#8a8a80" stroke-width="0.45"/>
<path d="M477.6 266.4C478.9 263.9 482.1 264.1 483.7 264.9C485.3 265.7 487 268.2 487.5 271C488 273.8 487.4 278.6 486.8 281.7C486.2 284.8 485 288.3 483.7 289.3C482.4 290.3 480.4 289.3 479.1 287.8C477.8 286.3 476.4 283.7 476.1 280.1C475.9 276.5 476.3 268.9 477.6 266.4Z" fill="url(#gPale)" stroke="#8a8a80" stroke-width="0.45"/>
<path d="M485.4 272.1C485.7 271.7 485.7 270.7 486.1 270.3C486.5 269.8 487.2 269.5 487.8 269.4C488.4 269.4 489.4 270.4 489.8 270.1C490.2 269.9 489.9 268.4 490.2 267.8C490.6 267.3 491.3 266.9 491.9 267C492.6 267.1 493.4 268.5 493.9 268.4C494.5 268.3 494.7 266.8 495.2 266.4C495.7 266.1 496.5 266 497.1 266.3C497.7 266.5 498.2 268.1 498.7 268.1C499.2 268 499.3 266.1 499.9 265.9C500.6 265.6 501.9 266.1 502.4 266.6C502.9 267.1 502.6 268.6 502.9 268.8C503.3 269.1 504.2 268.3 504.8 268.4C505.4 268.5 506.2 268.8 506.5 269.2C506.8 269.7 506.3 270.8 506.7 271.2C507 271.6 508 271.4 508.5 271.8C509 272.2 509.4 272.9 509.5 273.5C509.6 274.1 508.9 274.9 509.1 275.3C509.3 275.8 510.3 275.8 510.7 276.3C511 276.8 511.2 277.6 511.1 278.1C511.1 278.7 510.2 279.4 510.3 279.8C510.4 280.3 511.7 280.3 511.9 280.9C512.1 281.5 511.9 282.7 511.5 283.2C511.1 283.7 509.7 283.5 509.6 284C509.5 284.5 510.7 285.4 510.8 286.1C510.9 286.7 510.6 287.4 510.1 287.8C509.6 288.2 508.4 288.1 508 288.5C507.6 288.9 508.1 289.9 507.8 290.3C507.4 290.8 506.6 291.1 506.1 291.2C505.5 291.2 504.6 290.4 504.2 290.6C503.8 290.9 504 292.3 503.6 292.8C503.3 293.3 502.5 293.6 501.9 293.6C501.3 293.6 500.6 292.6 500.1 292.7C499.5 292.8 499.3 293.9 498.8 294.1C498.2 294.4 497.4 294.5 496.9 294.3C496.3 294.2 495.8 293.1 495.3 293.2C494.8 293.3 494.6 294.5 494 294.7C493.4 294.9 492.2 294.6 491.7 294.2C491.2 293.8 491.6 292.5 491.1 292.3C490.7 292.1 489.7 293 489.1 292.9C488.5 292.9 487.7 292.5 487.5 292C487.2 291.4 488.1 290.2 487.7 289.7C487.4 289.3 485.8 289.7 485.2 289.3C484.7 289 484.4 288.3 484.4 287.6C484.5 287 485.7 286 485.5 285.5C485.3 285 483.7 285 483.3 284.6C482.9 284.1 482.9 283.2 483 282.7C483.2 282.1 484.3 281.5 484.4 281C484.4 280.6 483.4 280.3 483.2 279.7C483 279.2 483 278.2 483.2 277.6C483.5 277.1 484.6 276.9 484.6 276.5C484.7 276 483.7 275.4 483.6 274.8C483.5 274.2 483.7 273.4 484 272.9C484.3 272.5 485 272.5 485.4 272.1Z" fill="url(#gCen)" stroke="#8a8a80" stroke-width="0.45"/>
<circle cx="496" cy="279.5" r="2.2" fill="none" stroke="#9a9a90" stroke-width="0.5"/>
<path d="M424.4 277C424.4 275.9 427.1 274.4 428.8 273.7C430.5 273 433.2 272 434.3 272.6C435.4 273.2 435.6 276.1 435.4 277.5C435.2 278.9 434.3 280.3 433.2 280.8C432.1 281.3 430.3 280.9 428.8 280.3C427.3 279.7 424.4 278.1 424.4 277Z" fill="url(#gPale)" stroke="#8a8a80" stroke-width="0.45"/>
<path d="M449.7 305C450.4 303.9 452.6 304.8 454.1 305C455.6 305.2 457.7 305 458.5 306.1C459.3 307.2 459.5 310.2 459.1 311.7C458.7 313.2 457.4 314.4 456.3 315C455.2 315.6 453.6 315.6 452.5 315C451.4 314.4 450.2 313.4 449.7 311.7C449.2 310 449 306.1 449.7 305Z" fill="url(#gPale)" stroke="#8a8a80" stroke-width="0.45"/>
<path d="M461.3 270.4C462.1 269.7 464.6 270.8 466.2 272C467.8 273.2 469.3 275.5 470.6 277.5C471.9 279.5 473 281.9 473.9 284.1C474.8 286.3 475.6 288.3 476.1 290.7C476.6 293.1 476.9 296 476.7 298.4C476.5 300.8 475.9 303.7 475 305C474.1 306.3 472.4 306.5 471.2 306.1C470 305.7 468.8 304.5 467.9 302.8C467 301.1 466.3 298.4 465.7 296.2C465.1 294 464.6 291.8 464 289.6C463.4 287.4 462.8 285.2 462.4 283C461.9 280.8 461.5 278.5 461.3 276.4C461.1 274.3 460.5 271.1 461.3 270.4Z" fill="url(#gPale)" stroke="#8a8a80" stroke-width="0.45"/>
<path d="M431.2 261.8C431.6 261.6 433.3 262.9 434.2 263.3C435 263.7 435.5 263.5 436.2 263.9C436.9 264.3 437.8 265.4 438.4 265.8C439.1 266.2 439.6 265.9 440.1 266.3C440.7 266.8 441.2 267.8 441.9 268.3C442.6 268.7 443.8 268.7 444.4 268.9C444.9 269.1 444.8 269.4 445.4 269.6C446 269.9 447.4 270.2 448 270.5C448.6 270.7 448.3 270.9 448.8 271.1C449.3 271.4 451.2 271.7 451.1 272.1C451 272.5 449.1 273.3 448.4 273.6C447.8 273.9 447.8 273.8 447.2 273.8C446.6 273.7 445.4 273.2 444.8 273.2C444.1 273.1 443.9 273.5 443.3 273.4C442.7 273.3 441.9 272.6 441.2 272.6C440.6 272.5 439.9 273 439.3 272.9C438.7 272.7 438.5 272.1 437.8 271.8C437.1 271.5 435.7 271.4 434.9 271.1C434.2 270.7 433.9 270.3 433.4 269.8C432.9 269.3 432.1 268.6 431.9 268.1C431.6 267.5 431.9 267.2 431.8 266.6C431.7 265.9 431.4 264.9 431.3 264.1C431.2 263.3 430.7 261.9 431.2 261.8Z" fill="url(#gTube)" stroke="#8a8a80" stroke-width="0.45"/>
<path d="M448.6 273.7C449.2 273.1 451.5 272.9 453 272.6C454.5 272.3 456 271.9 457.4 272C458.8 272.1 460.5 272.2 461.3 273.1C462.1 274 462.4 275.9 462.4 277.5C462.4 279.1 461.8 281.4 461.3 283C460.8 284.6 460.2 286.1 459.6 287.4C459.1 288.7 458.7 290.9 458 290.7C457.3 290.5 456.2 287.9 455.2 286.3C454.2 284.7 452.9 282.5 451.9 280.8C450.9 279.1 449.8 277.6 449.2 276.4C448.6 275.2 448 274.3 448.6 273.7Z" fill="url(#gTube2)" stroke="#8a8a80" stroke-width="0.45"/>
<path d="M432.2 272.6C432.7 272.2 432.9 271 433.5 270.7C434 270.3 434.8 270.2 435.4 270.5C436 270.8 436.5 272.3 437.1 272.3C437.7 272.2 438.2 270.5 438.8 270.3C439.4 270 440.2 270.2 440.7 270.7C441.2 271.1 441.2 273.1 441.7 273.2C442.2 273.3 443 271.4 443.7 271.1C444.3 270.9 445.1 271 445.6 271.5C446.1 272 446 273.8 446.5 274.1C446.9 274.4 447.8 273.3 448.4 273.3C449 273.3 449.9 273.6 450.2 274C450.6 274.5 450.1 275.8 450.5 276.1C451 276.4 452.5 275.7 453.1 276C453.8 276.2 454.3 276.8 454.4 277.5C454.5 278.2 453.4 279.6 453.7 280C454 280.4 455.6 279.6 456.2 279.9C456.8 280.1 457.3 281 457.3 281.7C457.3 282.4 456.1 283.6 456.4 284C456.6 284.4 458.2 283.9 458.8 284.3C459.4 284.6 459.9 285.7 459.9 286.3C459.8 287 458.6 287.7 458.6 288.2C458.7 288.7 459.8 288.8 460.2 289.3C460.5 289.8 460.8 290.6 460.7 291.2C460.7 291.8 459.9 292.4 460 293C460.1 293.5 461.2 293.8 461.4 294.4C461.6 294.9 461.5 295.8 461.3 296.3C461 296.9 459.9 297.2 459.9 297.7C459.9 298.2 461.3 298.6 461.4 299.3C461.5 300 461 301.5 460.4 301.8C459.9 302.2 458.5 301.1 458.1 301.4C457.8 301.8 458.8 303.3 458.4 304C458 304.6 456.5 305.4 455.8 305.3C455.2 305.2 454.9 303.5 454.4 303.4C453.9 303.4 453.5 304.6 452.9 304.8C452.3 305.1 451.4 305.2 450.9 304.8C450.4 304.5 450.4 303 449.8 302.8C449.3 302.6 448.4 303.7 447.7 303.7C447.1 303.7 446.3 303.3 445.9 302.8C445.6 302.2 446 300.8 445.6 300.4C445.2 300.1 444.1 300.8 443.5 300.7C442.9 300.5 442.2 300 442 299.4C441.7 298.8 442.3 297.4 441.9 297.1C441.5 296.9 440 298 439.3 298C438.7 297.9 438 297.4 437.8 296.7C437.6 296.1 438.5 294.3 438.1 294C437.7 293.7 436.1 295.1 435.4 294.9C434.7 294.8 433.8 293.8 433.7 293.1C433.6 292.4 434.9 291.2 434.7 290.8C434.6 290.3 433.1 290.7 432.6 290.3C432.1 290 431.5 289.2 431.6 288.6C431.6 288 433 287.1 432.8 286.6C432.5 286 430.6 286 430.1 285.5C429.6 285 429.6 284.2 429.8 283.5C430 282.9 431.5 282.3 431.5 281.8C431.6 281.2 430.5 280.8 430.3 280.3C430.1 279.7 430.2 278.8 430.5 278.3C430.9 277.7 432.3 277.5 432.2 277C432.2 276.5 430.5 275.9 430.2 275.3C429.9 274.6 430.1 273.7 430.5 273.3C430.8 272.8 431.7 273 432.2 272.6Z" fill="url(#gCen)" stroke="#8a8a80" stroke-width="0.45"/>
<path d="M436.1 276.5C436.4 276.2 437.3 275.2 437.9 275C438.5 274.8 439.1 275.4 439.8 275.4C440.5 275.5 441.6 275.2 442.2 275.6C442.9 275.9 443 276.9 443.6 277.4C444.3 277.8 445.3 277.7 445.9 278.1C446.4 278.6 446.8 279.7 447 280" fill="none" stroke="#c98a4a" stroke-width="0.45" stroke-linecap="round" stroke-linejoin="round"/>
<path d="M434.1 282.5C434.3 282.3 435 281.3 435.6 281.2C436.1 281.1 436.8 281.9 437.4 281.8C438 281.7 438.7 280.5 439.2 280.5C439.7 280.6 439.9 281.9 440.5 282.1C441 282.4 442 281.7 442.5 281.9C443.1 282.1 443.2 283.1 443.7 283.4C444.2 283.7 445.1 283.3 445.6 283.6C446 283.9 445.8 285.1 446.2 285.4C446.6 285.7 447.7 285.3 448.1 285.6C448.5 285.9 448.2 286.9 448.6 287.3C449 287.7 450.1 287.6 450.4 288C450.7 288.5 450.3 289.5 450.6 290C450.9 290.5 451.8 290.8 452 291" fill="none" stroke="#c98a4a" stroke-width="0.45" stroke-linecap="round" stroke-linejoin="round"/>
<path d="M435.9 288.5C436.2 288.4 437.2 287.7 437.8 287.8C438.3 288 438.7 289 439.2 289.2C439.8 289.3 440.7 288.4 441.3 288.6C441.8 288.8 441.9 290.1 442.4 290.4C443 290.8 444.1 290.3 444.6 290.6C445.1 290.9 445.1 292 445.6 292.4C446.2 292.8 447.2 292.5 447.7 293C448.1 293.4 447.9 294.6 448.3 295C448.8 295.5 449.9 295.2 450.4 295.6C450.8 296.1 450.5 297.2 451 297.7C451.4 298.1 452.5 297.9 453 298.3C453.5 298.7 453.8 299.7 454 300" fill="none" stroke="#c98a4a" stroke-width="0.45" stroke-linecap="round" stroke-linejoin="round"/>
<path d="M440.5 279.2C440.8 279.4 441.9 279.9 442.1 280.5C442.4 281 441.6 282 441.9 282.5C442.1 283.1 443.2 283.3 443.5 283.8C443.7 284.4 443 285.3 443.2 285.9C443.4 286.4 444.5 286.6 444.8 287.1C445.1 287.7 445 288.7 445 289" fill="none" stroke="#c98a4a" stroke-width="0.45" stroke-linecap="round" stroke-linejoin="round"/>
<path d="M446.5 282.2C446.8 282.4 447.9 283.2 448.1 283.8C448.4 284.5 447.6 285.5 447.9 286.2C448.1 286.8 449.2 287.2 449.4 287.8C449.7 288.4 449.1 289.2 449.3 289.7C449.6 290.2 450.7 290.3 450.9 290.8C451.2 291.3 450.6 292.2 450.8 292.7C451 293.3 451.8 293.8 452 294" fill="none" stroke="#c98a4a" stroke-width="0.45" stroke-linecap="round" stroke-linejoin="round"/>
<path d="M451.5 283.2C451.8 283.4 453 284 453.2 284.6C453.5 285.1 452.8 286.1 453 286.7C453.3 287.3 454.5 287.5 454.7 288.1C455 288.6 454.3 289.5 454.5 290.1C454.7 290.7 455.8 291 456 291.6C456.1 292.2 455.4 293.1 455.5 293.6C455.7 294.2 456.7 294.6 457 295.1C457.2 295.7 457 296.7 457 297" fill="none" stroke="#c98a4a" stroke-width="0.45" stroke-linecap="round" stroke-linejoin="round"/>
<path d="M429.6 257.6C429.9 256.9 431.9 257.1 432.9 256.7C433.8 256.3 434.1 255.6 435.1 255.3C436.1 255.1 437.7 255.3 438.8 255.1C440 254.9 440.6 254.4 441.9 254.2C443.1 253.9 444.9 253.5 446.4 253.6C447.9 253.6 449.8 253.5 450.9 254.2C452 254.9 452 256.6 452.9 257.8C453.8 258.9 455.6 260.1 456.5 261C457.4 261.9 457.6 262.4 458.4 263.2C459.1 263.9 460.3 264.4 461 265.5C461.6 266.5 462.5 268.2 462.3 269.2C462.1 270.3 460.8 271.3 459.8 271.6C458.8 272 457.3 271.4 456.2 271.4C455.1 271.4 454.2 271.8 453.1 271.7C452.1 271.6 450.8 271 449.6 270.8C448.5 270.6 447.4 270.9 446.4 270.6C445.4 270.3 444.6 269.4 443.7 268.9C442.8 268.4 441.6 268.3 440.7 267.8C439.8 267.2 439.3 266.4 438.3 265.9C437.4 265.3 435.9 264.9 435.1 264.3C434.3 263.8 434.2 263.2 433.4 262.6C432.7 262.1 431.3 261.8 430.6 261C430 260.1 429.2 258.3 429.6 257.6Z" fill="url(#gPale)" stroke="#8a8a80" stroke-width="0.45"/>
<path d="M462.4 268.7C462.8 268.1 464.8 267.7 466.2 267.6C467.6 267.5 469.2 267.9 470.6 268.2C472 268.5 473.5 268.8 474.5 269.3C475.5 269.9 476.6 270.8 476.7 271.5C476.8 272.2 475.8 273.6 475 273.7C474.2 273.8 472.7 272.4 471.7 272C470.7 271.6 469.6 271.2 469 271.5C468.4 271.8 468.4 273.3 467.9 273.7C467.3 274.1 466.4 274.1 465.7 273.7C465 273.3 464.1 272.3 463.5 271.5C462.9 270.7 461.9 269.3 462.4 268.7Z" fill="url(#gStem)" stroke="#8a8a80" stroke-width="0.45"/>
<path d="M463.8 197.5C464.8 198.8 468.4 202.2 470 205C471.6 207.8 472.9 212.5 473.5 214" fill="none" stroke="#9a9a90" stroke-width="0.45" stroke-linecap="round" stroke-linejoin="round"/>
<path d="M487.5 195.5C487.6 197.7 488.2 204.4 488.3 208.5C488.4 212.6 487.9 218.1 487.8 220" fill="none" stroke="#9a9a90" stroke-width="0.45" stroke-linecap="round" stroke-linejoin="round"/>
<path d="M487 236C489.2 235.3 496.8 233.7 500 232C503.2 230.3 505 227 506 226" fill="none" stroke="#9a9a90" stroke-width="0.45" stroke-linecap="round" stroke-linejoin="round"/>
<path d="M467 241C467.3 242.5 468.3 247.2 469 250C469.7 252.8 470.7 256.7 471 258" fill="none" stroke="#9a9a90" stroke-width="0.45" stroke-linecap="round" stroke-linejoin="round"/>
<path d="M472 239C472.5 240.5 474.6 245 475 248C475.4 251 474.6 255.5 474.5 257" fill="none" stroke="#9a9a90" stroke-width="0.45" stroke-linecap="round" stroke-linejoin="round"/>
<path d="M481 241C481.5 242.3 483.6 246.7 484 249C484.4 251.3 483.6 254 483.5 255" fill="none" stroke="#9a9a90" stroke-width="0.45" stroke-linecap="round" stroke-linejoin="round"/>
<path d="M448 220C448.7 221 451.7 223.7 452 226C452.3 228.3 450.3 232.7 450 234" fill="none" stroke="#9a9a90" stroke-width="0.45" stroke-linecap="round" stroke-linejoin="round"/>
<path d="M455 219C455.4 220.5 457.5 224.8 457.5 228C457.5 231.2 455.4 236.3 455 238" fill="none" stroke="#9a9a90" stroke-width="0.45" stroke-linecap="round" stroke-linejoin="round"/>
<path d="M436 259C437.7 259.5 442.7 260.7 446 262C449.3 263.3 454.3 266.2 456 267" fill="none" stroke="#9a9a90" stroke-width="0.45" stroke-linecap="round" stroke-linejoin="round"/>
<path d="M466 280C466.6 281.7 468.7 286.5 469.5 290C470.3 293.5 470.8 299.2 471 301" fill="none" stroke="#9a9a90" stroke-width="0.45" stroke-linecap="round" stroke-linejoin="round"/>
<path d="M488 278C488.7 277.3 490.2 274.8 492 274C493.8 273.2 497.8 273.2 499 273" fill="none" stroke="#9a9a90" stroke-width="0.45" stroke-linecap="round" stroke-linejoin="round"/>
<path d="M490 286C491 286.5 493.8 289 496 289C498.2 289 501.8 286.5 503 286" fill="none" stroke="#9a9a90" stroke-width="0.45" stroke-linecap="round" stroke-linejoin="round"/>
<path d="M495 259C495.2 260 495.8 264 496 265" fill="none" stroke="#9a9a90" stroke-width="0.45" stroke-linecap="round" stroke-linejoin="round"/>
<path d="M513 262C513.2 263.3 513.8 268.7 514 270" fill="none" stroke="#9a9a90" stroke-width="0.45" stroke-linecap="round" stroke-linejoin="round"/>
<path d="M512 282C512.7 283.3 515.3 288.7 516 290" fill="none" stroke="#9a9a90" stroke-width="0.45" stroke-linecap="round" stroke-linejoin="round"/>
<path d="M208.6 358.4C208.9 358.6 207.8 362.2 207.3 364.4C206.8 366.6 205.9 368.9 205.3 371.4C204.7 373.9 204 376.6 203.6 379.4C203.2 382.2 203.2 386.9 202.8 388.4C202.4 389.9 201.5 389.9 201.4 388.4C201.3 386.9 201.7 382.4 202 379.4C202.3 376.4 202.8 373.1 203.4 370.4C204 367.7 204.7 365.4 205.6 363.4C206.5 361.4 208.3 358.2 208.6 358.4Z" fill="#fff" stroke="#555" stroke-width="0.55"/>
<path d="M197.9 370.8C198.2 370.8 199.1 372.8 199.6 374.4C200.1 376 200.3 377.7 200.8 380.2C201.3 382.7 202.6 388 202.6 389.6C202.6 391.2 201.4 391 200.8 389.6C200.2 388.2 199.5 383.9 199 381.4C198.5 378.9 197.8 376.2 197.6 374.4C197.4 372.6 197.6 370.8 197.9 370.8Z" fill="#fff" stroke="#555" stroke-width="0.55"/>
<path d="M237.3 380.6C237.2 381.1 237.8 381.9 238.2 382.4C238.6 382.9 239.3 383.4 239.9 383.6C240.4 383.8 241.2 383.7 241.7 383.5C242.2 383.3 242.7 382.7 242.9 382.4C243.2 382.1 243.1 381.9 243.2 381.6C243.2 381.3 243.3 381.1 243.2 380.8C243.1 380.4 242.9 379.7 242.5 379.4C242 379 241.3 378.7 240.7 378.6C240.1 378.6 239.4 378.8 238.8 379.1C238.2 379.5 237.4 380 237.3 380.6Z" fill="#fff" stroke="#555" stroke-width="0.55"/>
<path d="M236.7 381.4C236.1 381.6 235.7 382.5 235.5 383.1C235.3 383.7 235.2 384.5 235.3 385.1C235.5 385.7 235.9 386.3 236.3 386.6C236.8 387 237.5 387.1 237.9 387.1C238.2 387.2 238.4 387.1 238.7 387C239 386.9 239.2 386.9 239.4 386.6C239.7 386.3 240.2 385.7 240.3 385.2C240.4 384.7 240.3 383.9 240.1 383.4C239.8 382.8 239.2 382.3 238.6 381.9C238.1 381.6 237.2 381.2 236.7 381.4Z" fill="#fff" stroke="#555" stroke-width="0.55"/>
<path d="M235.6 381.2C235.2 380.8 234.2 380.9 233.6 381C232.9 381.2 232.2 381.5 231.8 381.9C231.3 382.3 231 383 230.9 383.6C230.8 384.1 231.1 384.7 231.2 385.1C231.4 385.5 231.6 385.6 231.8 385.8C232 385.9 232.1 386.1 232.5 386.2C232.9 386.3 233.6 386.4 234.1 386.3C234.6 386.1 235.3 385.6 235.6 385.1C236 384.6 236.1 383.9 236.1 383.2C236.1 382.5 236.1 381.6 235.6 381.2Z" fill="#fff" stroke="#555" stroke-width="0.55"/>
<path d="M235.3 380.2C235.4 379.7 234.8 378.9 234.4 378.4C234 377.9 233.3 377.4 232.7 377.2C232.2 377 231.4 377.1 230.9 377.3C230.4 377.5 229.9 378.1 229.7 378.4C229.4 378.7 229.5 378.9 229.4 379.2C229.4 379.5 229.3 379.7 229.4 380C229.5 380.4 229.7 381.1 230.1 381.4C230.6 381.8 231.3 382.1 231.9 382.2C232.5 382.2 233.2 382 233.8 381.7C234.4 381.3 235.2 380.8 235.3 380.2Z" fill="#fff" stroke="#555" stroke-width="0.55"/>
<path d="M235.9 379.4C236.5 379.2 236.9 378.3 237.1 377.7C237.3 377.1 237.4 376.3 237.3 375.7C237.1 375.1 236.7 374.5 236.3 374.2C235.8 373.8 235.1 373.7 234.7 373.7C234.4 373.6 234.2 373.7 233.9 373.8C233.6 373.9 233.4 373.9 233.2 374.2C232.9 374.5 232.4 375.1 232.3 375.6C232.2 376.1 232.3 376.9 232.5 377.4C232.8 378 233.4 378.5 234 378.9C234.5 379.2 235.4 379.6 235.9 379.4Z" fill="#fff" stroke="#555" stroke-width="0.55"/>
<path d="M237 379.6C237.4 380 238.4 379.9 239 379.8C239.7 379.6 240.4 379.3 240.8 378.9C241.3 378.5 241.6 377.8 241.7 377.2C241.8 376.7 241.5 376.1 241.4 375.7C241.2 375.3 241 375.2 240.8 375C240.6 374.9 240.5 374.7 240.1 374.6C239.7 374.5 239 374.4 238.5 374.5C238 374.7 237.3 375.2 237 375.7C236.6 376.2 236.5 376.9 236.5 377.6C236.5 378.3 236.5 379.2 237 379.6Z" fill="#fff" stroke="#555" stroke-width="0.55"/>
<path d="M239.8 396.8C239.5 397.4 239.8 398.3 240.1 398.9C240.4 399.5 240.9 400.1 241.4 400.4C241.9 400.7 242.7 400.8 243.2 400.8C243.8 400.7 244.3 400.3 244.7 400.1C245 399.8 245 399.6 245.1 399.4C245.3 399.1 245.4 398.9 245.4 398.5C245.4 398.1 245.3 397.4 245 397C244.7 396.5 244.1 396 243.5 395.8C243 395.6 242.2 395.7 241.5 395.8C240.9 396 240 396.3 239.8 396.8Z" fill="#fff" stroke="#555" stroke-width="0.55"/>
<path d="M238.9 397.4C238.3 397.5 237.7 398.2 237.3 398.8C236.9 399.3 236.7 400.1 236.6 400.7C236.6 401.3 236.9 402 237.2 402.4C237.5 402.9 238.2 403.2 238.6 403.3C238.9 403.5 239.1 403.4 239.4 403.4C239.7 403.3 239.9 403.4 240.2 403.2C240.6 402.9 241.2 402.6 241.4 402.1C241.6 401.6 241.8 400.8 241.7 400.2C241.5 399.6 241.1 398.9 240.7 398.5C240.2 398 239.4 397.4 238.9 397.4Z" fill="#fff" stroke="#555" stroke-width="0.55"/>
<path d="M237.9 397C237.6 396.5 236.7 396.4 236 396.3C235.3 396.3 234.6 396.4 234 396.7C233.5 397 233 397.6 232.8 398.1C232.6 398.5 232.7 399.3 232.7 399.6C232.7 400 232.9 400.2 233.1 400.4C233.2 400.6 233.3 400.8 233.7 401C234 401.2 234.6 401.5 235.2 401.5C235.7 401.5 236.5 401.2 236.9 400.8C237.4 400.4 237.8 399.7 237.9 399.1C238.1 398.4 238.3 397.5 237.9 397Z" fill="#fff" stroke="#555" stroke-width="0.55"/>
<path d="M237.8 396C238.1 395.4 237.8 394.5 237.5 393.9C237.2 393.3 236.7 392.7 236.2 392.4C235.7 392.1 234.9 392 234.4 392C233.8 392.1 233.3 392.5 232.9 392.7C232.6 393 232.6 393.2 232.5 393.4C232.3 393.7 232.2 393.9 232.2 394.3C232.2 394.7 232.3 395.4 232.6 395.8C232.9 396.3 233.5 396.8 234.1 397C234.6 397.2 235.4 397.1 236.1 397C236.7 396.8 237.6 396.5 237.8 396Z" fill="#fff" stroke="#555" stroke-width="0.55"/>
<path d="M238.7 395.4C239.3 395.3 239.9 394.6 240.3 394C240.7 393.5 240.9 392.7 241 392.1C241 391.5 240.7 390.8 240.4 390.4C240.1 389.9 239.4 389.6 239 389.5C238.7 389.3 238.5 389.4 238.2 389.4C237.9 389.5 237.7 389.4 237.4 389.6C237 389.9 236.4 390.2 236.2 390.7C236 391.2 235.8 392 235.9 392.6C236.1 393.2 236.5 393.9 236.9 394.3C237.4 394.8 238.2 395.4 238.7 395.4Z" fill="#fff" stroke="#555" stroke-width="0.55"/>
<path d="M239.7 395.8C240 396.3 240.9 396.4 241.6 396.5C242.3 396.5 243 396.4 243.6 396.1C244.1 395.8 244.6 395.2 244.8 394.7C245 394.3 244.9 393.5 244.9 393.2C244.9 392.8 244.7 392.6 244.5 392.4C244.4 392.2 244.3 392 243.9 391.8C243.6 391.6 243 391.3 242.4 391.3C241.9 391.3 241.1 391.6 240.7 392C240.2 392.4 239.8 393.1 239.7 393.7C239.5 394.4 239.3 395.3 239.7 395.8Z" fill="#fff" stroke="#555" stroke-width="0.55"/>
<path d="M251.7 381.4C251.7 381.9 252.3 382.5 252.7 382.8C253.2 383.2 253.8 383.5 254.3 383.6C254.8 383.6 255.4 383.4 255.8 383.2C256.2 383 256.5 382.4 256.7 382.1C256.8 381.8 256.8 381.6 256.8 381.4C256.8 381.2 256.8 381 256.7 380.7C256.5 380.4 256.2 379.8 255.8 379.6C255.4 379.4 254.8 379.2 254.3 379.2C253.8 379.3 253.2 379.6 252.7 380C252.3 380.3 251.7 380.9 251.7 381.4Z" fill="#fff" stroke="#555" stroke-width="0.55"/>
<path d="M251.2 382.2C250.8 382.4 250.6 383.2 250.5 383.8C250.4 384.3 250.5 385 250.7 385.5C250.9 386 251.4 386.4 251.8 386.7C252.2 386.9 252.8 386.9 253.1 386.9C253.5 386.8 253.6 386.7 253.8 386.6C254 386.5 254.2 386.4 254.4 386.1C254.5 385.8 254.9 385.3 254.9 384.9C254.9 384.4 254.7 383.8 254.4 383.3C254.1 382.9 253.5 382.5 253 382.3C252.5 382.2 251.7 381.9 251.2 382.2Z" fill="#fff" stroke="#555" stroke-width="0.55"/>
<path d="M250.4 382.2C249.9 381.9 249.1 382.2 248.6 382.3C248.1 382.5 247.5 382.9 247.2 383.3C246.9 383.8 246.7 384.4 246.7 384.9C246.7 385.3 247.1 385.8 247.2 386.1C247.4 386.4 247.6 386.5 247.8 386.6C248 386.7 248.1 386.8 248.5 386.9C248.8 386.9 249.4 386.9 249.8 386.7C250.2 386.4 250.7 386 250.9 385.5C251.1 385 251.2 384.3 251.1 383.8C251 383.2 250.8 382.4 250.4 382.2Z" fill="#fff" stroke="#555" stroke-width="0.55"/>
<path d="M249.9 381.4C249.9 380.9 249.3 380.3 248.9 380C248.5 379.6 247.8 379.3 247.3 379.2C246.8 379.2 246.2 379.4 245.8 379.6C245.4 379.8 245.1 380.4 244.9 380.7C244.8 381 244.8 381.2 244.8 381.4C244.8 381.6 244.8 381.8 244.9 382.1C245.1 382.4 245.4 383 245.8 383.2C246.2 383.4 246.8 383.6 247.3 383.6C247.8 383.5 248.5 383.2 248.9 382.8C249.3 382.5 249.9 381.9 249.9 381.4Z" fill="#fff" stroke="#555" stroke-width="0.55"/>
<path d="M250.4 380.6C250.8 380.4 251 379.6 251.1 379C251.2 378.5 251.1 377.8 250.9 377.3C250.7 376.8 250.2 376.4 249.8 376.1C249.4 375.9 248.8 375.9 248.5 375.9C248.1 376 248 376.1 247.8 376.2C247.6 376.3 247.4 376.4 247.2 376.7C247.1 377 246.7 377.5 246.7 377.9C246.7 378.4 246.9 379 247.2 379.5C247.5 379.9 248.1 380.3 248.6 380.5C249.1 380.6 249.9 380.9 250.4 380.6Z" fill="#fff" stroke="#555" stroke-width="0.55"/>
<path d="M251.2 380.6C251.7 380.9 252.5 380.6 253 380.5C253.5 380.3 254.1 379.9 254.4 379.5C254.7 379 254.9 378.4 254.9 377.9C254.9 377.5 254.5 377 254.4 376.7C254.2 376.4 254 376.3 253.8 376.2C253.6 376.1 253.5 376 253.1 375.9C252.8 375.9 252.2 375.9 251.8 376.1C251.4 376.4 250.9 376.8 250.7 377.3C250.5 377.8 250.4 378.5 250.5 379C250.6 379.6 250.8 380.4 251.2 380.6Z" fill="#fff" stroke="#555" stroke-width="0.55"/>
<path d="M218.6 378.7C218.5 379.2 218.8 379.9 219.1 380.4C219.4 380.9 219.9 381.4 220.3 381.6C220.8 381.9 221.5 381.9 221.9 381.8C222.4 381.7 222.8 381.3 223.1 381.1C223.3 380.9 223.4 380.7 223.4 380.5C223.5 380.2 223.6 380.1 223.6 379.7C223.5 379.4 223.4 378.8 223.2 378.4C222.9 378.1 222.3 377.7 221.8 377.6C221.3 377.4 220.6 377.5 220.1 377.7C219.6 377.9 218.8 378.3 218.6 378.7Z" fill="#fff" stroke="#555" stroke-width="0.55"/>
<path d="M218 379.3C217.5 379.4 217 380.1 216.7 380.5C216.4 381 216.2 381.7 216.3 382.2C216.3 382.7 216.6 383.3 216.9 383.7C217.2 384 217.8 384.2 218.1 384.3C218.4 384.4 218.6 384.4 218.8 384.3C219.1 384.3 219.3 384.3 219.5 384.1C219.8 383.9 220.3 383.5 220.4 383.1C220.6 382.6 220.7 382 220.5 381.5C220.4 381 220 380.4 219.6 380C219.1 379.7 218.4 379.2 218 379.3Z" fill="#fff" stroke="#555" stroke-width="0.55"/>
<path d="M217.1 379C216.8 378.6 216 378.5 215.4 378.5C214.8 378.5 214.2 378.7 213.7 379C213.3 379.3 212.9 379.8 212.8 380.3C212.6 380.7 212.8 381.3 212.8 381.6C212.9 382 213 382.1 213.2 382.3C213.4 382.4 213.4 382.6 213.8 382.7C214.1 382.9 214.6 383.1 215.1 383C215.6 382.9 216.2 382.7 216.5 382.3C216.9 381.9 217.2 381.3 217.3 380.7C217.4 380.2 217.4 379.3 217.1 379Z" fill="#fff" stroke="#555" stroke-width="0.55"/>
<path d="M217 378.1C217.1 377.6 216.8 376.9 216.5 376.4C216.2 375.9 215.7 375.4 215.3 375.2C214.8 374.9 214.1 374.9 213.7 375C213.2 375.1 212.8 375.5 212.5 375.7C212.3 375.9 212.2 376.1 212.2 376.3C212.1 376.6 212 376.7 212 377.1C212.1 377.4 212.2 378 212.4 378.4C212.7 378.7 213.3 379.1 213.8 379.2C214.3 379.4 215 379.3 215.5 379.1C216 378.9 216.8 378.5 217 378.1Z" fill="#fff" stroke="#555" stroke-width="0.55"/>
<path d="M217.6 377.5C218.1 377.4 218.6 376.7 218.9 376.3C219.2 375.8 219.4 375.1 219.3 374.6C219.3 374.1 219 373.5 218.7 373.1C218.4 372.8 217.8 372.6 217.5 372.5C217.2 372.4 217 372.4 216.8 372.5C216.5 372.5 216.3 372.5 216.1 372.7C215.8 372.9 215.3 373.3 215.2 373.7C215 374.2 214.9 374.8 215.1 375.3C215.2 375.8 215.6 376.4 216 376.8C216.5 377.1 217.2 377.6 217.6 377.5Z" fill="#fff" stroke="#555" stroke-width="0.55"/>
<path d="M218.5 377.8C218.8 378.2 219.6 378.3 220.2 378.3C220.8 378.3 221.4 378.1 221.9 377.8C222.3 377.5 222.7 377 222.8 376.5C223 376.1 222.8 375.5 222.8 375.2C222.7 374.8 222.6 374.7 222.4 374.5C222.2 374.4 222.2 374.2 221.8 374.1C221.5 373.9 221 373.7 220.5 373.8C220 373.9 219.4 374.1 219.1 374.5C218.7 374.9 218.4 375.5 218.3 376.1C218.2 376.6 218.2 377.5 218.5 377.8Z" fill="#fff" stroke="#555" stroke-width="0.55"/>
<path d="M215.1 370C214.9 370.7 215.5 371.8 216 372.5C216.5 373.2 217.3 373.9 218 374.2C218.7 374.5 219.7 374.5 220.4 374.3C221.1 374.1 221.7 373.4 222 373C222.4 372.7 222.4 372.4 222.5 372C222.6 371.7 222.7 371.4 222.6 370.9C222.5 370.4 222.3 369.6 221.8 369C221.3 368.5 220.5 368 219.7 367.9C218.9 367.8 217.9 368 217.1 368.4C216.4 368.7 215.3 369.4 215.1 370Z" fill="#fff" stroke="#555" stroke-width="0.55"/>
<path d="M214.1 371C213.5 371.2 212.8 372.3 212.5 373C212.1 373.8 211.9 374.8 212 375.6C212.1 376.4 212.6 377.2 213.1 377.7C213.7 378.2 214.5 378.4 215 378.5C215.5 378.6 215.8 378.5 216.1 378.4C216.5 378.3 216.8 378.3 217.1 377.9C217.5 377.6 218.2 377 218.4 376.3C218.6 375.6 218.6 374.6 218.3 373.9C218 373.2 217.3 372.4 216.6 371.9C215.9 371.4 214.8 370.8 214.1 371Z" fill="#fff" stroke="#555" stroke-width="0.55"/>
<path d="M212.8 370.7C212.3 370.1 211.1 370.1 210.2 370.2C209.4 370.3 208.4 370.6 207.8 371.1C207.2 371.6 206.7 372.5 206.5 373.1C206.4 373.8 206.7 374.7 206.8 375.2C206.9 375.7 207.2 375.8 207.4 376.1C207.7 376.3 207.8 376.6 208.3 376.7C208.8 376.8 209.7 377.1 210.4 377C211 376.8 211.9 376.3 212.4 375.7C212.9 375.1 213.2 374.1 213.3 373.3C213.4 372.4 213.4 371.2 212.8 370.7Z" fill="#fff" stroke="#555" stroke-width="0.55"/>
<path d="M212.5 369.4C212.7 368.7 212.1 367.6 211.6 366.9C211.1 366.2 210.3 365.5 209.6 365.2C208.9 364.9 207.9 364.9 207.2 365.1C206.5 365.3 205.9 366 205.6 366.4C205.2 366.7 205.2 367 205.1 367.4C205 367.7 204.9 368 205 368.5C205.1 369 205.3 369.8 205.8 370.4C206.3 370.9 207.1 371.4 207.9 371.5C208.7 371.6 209.7 371.4 210.5 371C211.2 370.7 212.3 370 212.5 369.4Z" fill="#fff" stroke="#555" stroke-width="0.55"/>
<path d="M213.5 368.4C214.1 368.2 214.8 367.1 215.1 366.4C215.5 365.6 215.7 364.6 215.6 363.8C215.5 363 215 362.2 214.5 361.7C213.9 361.2 213.1 361 212.6 360.9C212.1 360.8 211.8 360.9 211.5 361C211.1 361.1 210.8 361.1 210.5 361.5C210.1 361.8 209.4 362.4 209.2 363.1C209 363.8 209 364.8 209.3 365.5C209.6 366.2 210.3 367 211 367.5C211.7 368 212.8 368.6 213.5 368.4Z" fill="#fff" stroke="#555" stroke-width="0.55"/>
<path d="M214.8 368.7C215.3 369.3 216.5 369.3 217.4 369.2C218.2 369.1 219.2 368.8 219.8 368.3C220.4 367.8 220.9 366.9 221.1 366.3C221.2 365.6 220.9 364.7 220.8 364.2C220.7 363.7 220.4 363.6 220.2 363.3C219.9 363.1 219.8 362.8 219.3 362.7C218.8 362.6 217.9 362.3 217.2 362.4C216.6 362.6 215.7 363.1 215.2 363.7C214.7 364.3 214.4 365.3 214.3 366.1C214.2 367 214.2 368.2 214.8 368.7Z" fill="#fff" stroke="#555" stroke-width="0.55"/>
<circle cx="213.8" cy="369.7" r="3.3" fill="#fff" stroke="#555" stroke-width="0.55"/>
<path d="M242.9 370.3C242.6 370.9 242.9 372.1 243.1 372.8C243.4 373.6 243.9 374.4 244.5 374.8C245.1 375.3 246 375.5 246.7 375.5C247.4 375.5 248.1 375 248.5 374.7C248.9 374.5 249 374.2 249.2 374C249.3 373.7 249.5 373.5 249.5 373C249.5 372.5 249.6 371.6 249.3 371.1C248.9 370.5 248.3 369.8 247.6 369.5C246.9 369.2 246 369.2 245.2 369.3C244.4 369.4 243.2 369.7 242.9 370.3Z" fill="#fff" stroke="#555" stroke-width="0.55"/>
<path d="M241.8 371C241.1 371 240.3 371.8 239.8 372.4C239.3 373 238.8 373.9 238.7 374.6C238.7 375.4 238.9 376.3 239.2 376.8C239.6 377.4 240.4 377.8 240.8 378C241.2 378.3 241.5 378.2 241.8 378.2C242.1 378.2 242.4 378.3 242.8 378C243.2 377.8 244 377.4 244.4 376.8C244.7 376.3 244.9 375.4 244.9 374.6C244.8 373.9 244.3 373 243.8 372.4C243.3 371.8 242.5 371 241.8 371Z" fill="#fff" stroke="#555" stroke-width="0.55"/>
<path d="M240.7 370.3C240.4 369.7 239.2 369.4 238.4 369.3C237.6 369.2 236.7 369.2 236 369.5C235.3 369.8 234.7 370.5 234.3 371.1C234 371.6 234.1 372.5 234.1 373C234.1 373.5 234.3 373.7 234.4 374C234.6 374.2 234.7 374.5 235.1 374.7C235.5 375 236.2 375.5 236.9 375.5C237.6 375.5 238.5 375.3 239.1 374.8C239.7 374.4 240.2 373.6 240.5 372.8C240.7 372.1 241 370.9 240.7 370.3Z" fill="#fff" stroke="#555" stroke-width="0.55"/>
<path d="M240.7 369.1C241 368.5 240.7 367.3 240.5 366.6C240.2 365.8 239.7 365 239.1 364.6C238.5 364.1 237.6 363.9 236.9 363.9C236.2 363.9 235.5 364.4 235.1 364.7C234.7 364.9 234.6 365.2 234.4 365.5C234.3 365.7 234.1 365.9 234.1 366.4C234.1 366.9 234 367.8 234.3 368.3C234.7 368.9 235.3 369.6 236 369.9C236.7 370.2 237.6 370.2 238.4 370.1C239.2 370 240.4 369.7 240.7 369.1Z" fill="#fff" stroke="#555" stroke-width="0.55"/>
<path d="M241.8 368.4C242.5 368.4 243.3 367.6 243.8 367C244.3 366.4 244.8 365.5 244.9 364.8C244.9 364 244.7 363.1 244.4 362.6C244 362 243.2 361.6 242.8 361.4C242.4 361.1 242.1 361.2 241.8 361.2C241.5 361.2 241.2 361.1 240.8 361.4C240.4 361.6 239.6 362 239.2 362.6C238.9 363.1 238.7 364 238.7 364.8C238.8 365.5 239.3 366.4 239.8 367C240.3 367.6 241.1 368.4 241.8 368.4Z" fill="#fff" stroke="#555" stroke-width="0.55"/>
<path d="M242.9 369.1C243.2 369.7 244.4 370 245.2 370.1C246 370.2 246.9 370.2 247.6 369.9C248.3 369.6 248.9 368.9 249.3 368.3C249.6 367.8 249.5 366.9 249.5 366.4C249.5 365.9 249.3 365.7 249.2 365.5C249 365.2 248.9 364.9 248.5 364.7C248.1 364.4 247.4 363.9 246.7 363.9C246 363.9 245.1 364.1 244.5 364.6C243.9 365 243.4 365.8 243.1 366.6C242.9 367.3 242.6 368.5 242.9 369.1Z" fill="#fff" stroke="#555" stroke-width="0.55"/>
<circle cx="241.8" cy="369.7" r="3.1" fill="#fff" stroke="#555" stroke-width="0.55"/>
<path d="M224.7 385.1C224.7 385.9 225.7 386.9 226.4 387.5C227.1 388.1 228.1 388.6 229 388.7C229.9 388.8 230.9 388.5 231.6 388.1C232.3 387.7 232.7 386.8 233 386.3C233.3 385.8 233.2 385.5 233.2 385.1C233.2 384.7 233.3 384.4 233 383.9C232.7 383.4 232.3 382.5 231.6 382.1C230.9 381.7 229.9 381.4 229 381.5C228.1 381.6 227.1 382.1 226.4 382.7C225.7 383.3 224.7 384.3 224.7 385.1Z" fill="#fff" stroke="#555" stroke-width="0.55"/>
<path d="M223.9 386.4C223.3 386.8 222.9 388.2 222.7 389.1C222.6 390 222.6 391.1 223 391.9C223.3 392.7 224.1 393.5 224.8 393.9C225.5 394.3 226.5 394.2 227.1 394.2C227.6 394.2 227.9 394 228.2 393.8C228.5 393.6 228.8 393.5 229.1 393C229.4 392.5 230 391.7 230 390.9C230 390.1 229.7 389 229.2 388.3C228.7 387.6 227.8 387 226.9 386.7C226 386.4 224.6 386 223.9 386.4Z" fill="#fff" stroke="#555" stroke-width="0.55"/>
<path d="M222.4 386.4C221.8 386 220.4 386.4 219.5 386.7C218.6 387 217.7 387.6 217.2 388.3C216.7 389 216.4 390.1 216.4 390.9C216.4 391.7 217 392.5 217.3 393C217.6 393.5 217.9 393.6 218.2 393.8C218.5 394 218.8 394.2 219.3 394.2C219.9 394.2 220.9 394.3 221.6 393.9C222.3 393.5 223.1 392.7 223.4 391.9C223.8 391.1 223.8 390 223.7 389.1C223.5 388.2 223.1 386.8 222.4 386.4Z" fill="#fff" stroke="#555" stroke-width="0.55"/>
<path d="M221.7 385.1C221.7 384.3 220.7 383.3 220 382.7C219.3 382.1 218.3 381.6 217.4 381.5C216.5 381.4 215.5 381.7 214.8 382.1C214.1 382.5 213.7 383.4 213.4 383.9C213.1 384.4 213.2 384.7 213.2 385.1C213.2 385.5 213.1 385.8 213.4 386.3C213.7 386.8 214.1 387.7 214.8 388.1C215.5 388.5 216.5 388.8 217.4 388.7C218.3 388.6 219.3 388.1 220 387.5C220.7 386.9 221.7 385.9 221.7 385.1Z" fill="#fff" stroke="#555" stroke-width="0.55"/>
<path d="M222.4 383.8C223.1 383.4 223.5 382 223.7 381.1C223.8 380.2 223.8 379.1 223.4 378.3C223.1 377.5 222.3 376.7 221.6 376.3C220.9 375.9 219.9 376 219.3 376C218.8 376 218.5 376.2 218.2 376.4C217.9 376.6 217.6 376.7 217.3 377.2C217 377.7 216.4 378.5 216.4 379.3C216.4 380.1 216.7 381.2 217.2 381.9C217.7 382.6 218.6 383.2 219.5 383.5C220.4 383.8 221.8 384.2 222.4 383.8Z" fill="#fff" stroke="#555" stroke-width="0.55"/>
<path d="M223.9 383.8C224.6 384.2 226 383.8 226.9 383.5C227.8 383.2 228.7 382.6 229.2 381.9C229.7 381.2 230 380.1 230 379.3C230 378.5 229.4 377.7 229.1 377.2C228.8 376.7 228.5 376.6 228.2 376.4C227.9 376.2 227.6 376 227.1 376C226.5 376 225.5 375.9 224.8 376.3C224.1 376.7 223.3 377.5 223 378.3C222.6 379.1 222.6 380.2 222.7 381.1C222.9 382 223.3 383.4 223.9 383.8Z" fill="#fff" stroke="#555" stroke-width="0.55"/>
<circle cx="223.2" cy="385.1" r="3.7" fill="#fff" stroke="#555" stroke-width="0.55"/>
<path d="M243.6 388.8C243.4 389.5 243.9 390.6 244.3 391.2C244.7 391.9 245.3 392.6 246 393C246.6 393.3 247.6 393.4 248.2 393.2C248.9 393.1 249.5 392.5 249.9 392.2C250.2 391.9 250.3 391.6 250.4 391.3C250.5 391 250.6 390.8 250.6 390.3C250.5 389.8 250.4 389 250 388.4C249.6 387.9 248.8 387.4 248.1 387.2C247.4 387 246.4 387.1 245.7 387.4C244.9 387.7 243.8 388.2 243.6 388.8Z" fill="#fff" stroke="#555" stroke-width="0.55"/>
<path d="M242.6 389.7C242 389.8 241.3 390.7 240.9 391.4C240.5 392.1 240.2 393 240.2 393.8C240.3 394.5 240.7 395.4 241.1 395.9C241.6 396.4 242.4 396.6 242.8 396.8C243.3 396.9 243.5 396.8 243.9 396.8C244.2 396.7 244.5 396.7 244.9 396.4C245.2 396.1 245.9 395.6 246.2 395C246.4 394.4 246.5 393.4 246.3 392.7C246.1 392 245.5 391.2 244.9 390.7C244.3 390.2 243.3 389.5 242.6 389.7Z" fill="#fff" stroke="#555" stroke-width="0.55"/>
<path d="M241.4 389.2C241 388.7 239.8 388.6 239 388.6C238.2 388.6 237.3 388.8 236.7 389.2C236 389.6 235.5 390.4 235.3 391C235.1 391.7 235.3 392.5 235.4 393C235.5 393.4 235.7 393.6 235.9 393.9C236.1 394.1 236.2 394.4 236.7 394.5C237.1 394.7 237.9 395 238.6 394.9C239.2 394.8 240.1 394.5 240.6 393.9C241.1 393.4 241.5 392.5 241.6 391.7C241.8 390.9 241.9 389.7 241.4 389.2Z" fill="#fff" stroke="#555" stroke-width="0.55"/>
<path d="M241.2 388C241.4 387.3 240.9 386.2 240.5 385.6C240.1 384.9 239.5 384.2 238.8 383.8C238.2 383.5 237.2 383.4 236.6 383.6C235.9 383.7 235.3 384.3 234.9 384.6C234.6 384.9 234.5 385.2 234.4 385.5C234.3 385.8 234.2 386 234.2 386.5C234.3 387 234.4 387.8 234.8 388.4C235.2 388.9 236 389.4 236.7 389.6C237.4 389.8 238.4 389.7 239.1 389.4C239.9 389.1 241 388.6 241.2 388Z" fill="#fff" stroke="#555" stroke-width="0.55"/>
<path d="M242.2 387.1C242.8 387 243.5 386.1 243.9 385.4C244.3 384.7 244.6 383.8 244.6 383C244.5 382.3 244.1 381.4 243.7 380.9C243.2 380.4 242.4 380.2 242 380C241.5 379.9 241.3 380 240.9 380C240.6 380.1 240.3 380.1 239.9 380.4C239.6 380.7 238.9 381.2 238.6 381.8C238.4 382.4 238.3 383.4 238.5 384.1C238.7 384.8 239.3 385.6 239.9 386.1C240.5 386.6 241.5 387.3 242.2 387.1Z" fill="#fff" stroke="#555" stroke-width="0.55"/>
<path d="M243.4 387.6C243.8 388.1 245 388.2 245.8 388.2C246.6 388.2 247.5 388 248.1 387.6C248.8 387.2 249.3 386.4 249.5 385.8C249.7 385.1 249.5 384.3 249.4 383.8C249.3 383.4 249.1 383.2 248.9 382.9C248.7 382.7 248.6 382.4 248.1 382.3C247.7 382.1 246.9 381.8 246.2 381.9C245.6 382 244.7 382.3 244.2 382.9C243.7 383.4 243.3 384.3 243.2 385.1C243 385.9 242.9 387.1 243.4 387.6Z" fill="#fff" stroke="#555" stroke-width="0.55"/>
<circle cx="242.4" cy="388.4" r="3.1" fill="#fff" stroke="#555" stroke-width="0.55"/>
<path d="M259.6 393.6C259.5 394.2 260.1 395.2 260.6 395.7C261.1 396.3 261.8 396.8 262.5 397C263.1 397.2 264 397.2 264.6 396.9C265.2 396.7 265.7 396.1 266 395.7C266.2 395.3 266.2 395.1 266.3 394.8C266.3 394.5 266.4 394.2 266.3 393.8C266.1 393.4 265.9 392.6 265.4 392.2C265 391.8 264.2 391.4 263.5 391.4C262.8 391.3 261.9 391.6 261.3 392C260.6 392.3 259.7 393 259.6 393.6Z" fill="#fff" stroke="#555" stroke-width="0.55"/>
<path d="M258.8 394.5C258.2 394.7 257.7 395.8 257.5 396.5C257.2 397.2 257.1 398.1 257.3 398.7C257.4 399.4 258 400.1 258.4 400.5C258.9 400.9 259.7 401 260.2 401.1C260.6 401.2 260.8 401 261.1 400.9C261.4 400.8 261.7 400.8 262 400.4C262.3 400.1 262.8 399.5 263 398.9C263.1 398.3 263 397.4 262.7 396.8C262.4 396.2 261.7 395.5 261.1 395.1C260.4 394.8 259.4 394.3 258.8 394.5Z" fill="#fff" stroke="#555" stroke-width="0.55"/>
<path d="M257.6 394.3C257.1 393.9 256 394 255.3 394.1C254.5 394.3 253.7 394.6 253.2 395.1C252.7 395.6 252.3 396.4 252.2 397C252.1 397.6 252.5 398.4 252.6 398.8C252.8 399.2 253 399.3 253.3 399.5C253.5 399.7 253.7 399.9 254.1 400C254.5 400.1 255.3 400.3 255.9 400.1C256.5 399.9 257.2 399.4 257.6 398.8C258 398.2 258.2 397.3 258.2 396.6C258.2 395.8 258.1 394.7 257.6 394.3Z" fill="#fff" stroke="#555" stroke-width="0.55"/>
<path d="M257.2 393.2C257.3 392.6 256.7 391.6 256.2 391.1C255.7 390.5 255 390 254.3 389.8C253.7 389.6 252.8 389.6 252.2 389.9C251.6 390.1 251.1 390.7 250.8 391.1C250.6 391.5 250.6 391.7 250.5 392C250.5 392.3 250.4 392.6 250.5 393C250.7 393.4 250.9 394.2 251.4 394.6C251.8 395 252.6 395.4 253.3 395.4C254 395.5 254.9 395.2 255.5 394.8C256.2 394.5 257.1 393.8 257.2 393.2Z" fill="#fff" stroke="#555" stroke-width="0.55"/>
<path d="M258 392.3C258.6 392.1 259.1 391 259.3 390.3C259.6 389.6 259.7 388.7 259.5 388.1C259.4 387.4 258.8 386.7 258.4 386.3C257.9 385.9 257.1 385.8 256.6 385.7C256.2 385.6 256 385.8 255.7 385.9C255.4 386 255.1 386 254.8 386.4C254.5 386.7 254 387.3 253.8 387.9C253.7 388.5 253.8 389.4 254.1 390C254.4 390.6 255.1 391.3 255.7 391.7C256.4 392 257.4 392.5 258 392.3Z" fill="#fff" stroke="#555" stroke-width="0.55"/>
<path d="M259.2 392.5C259.7 392.9 260.8 392.8 261.5 392.7C262.3 392.5 263.1 392.2 263.6 391.7C264.1 391.2 264.5 390.4 264.6 389.8C264.7 389.2 264.3 388.4 264.2 388C264 387.6 263.8 387.5 263.5 387.3C263.3 387.1 263.1 386.9 262.7 386.8C262.3 386.7 261.5 386.5 260.9 386.7C260.3 386.9 259.6 387.4 259.2 388C258.8 388.6 258.6 389.5 258.6 390.2C258.6 391 258.7 392.1 259.2 392.5Z" fill="#fff" stroke="#555" stroke-width="0.55"/>
<circle cx="258.4" cy="393.4" r="3" fill="#fff" stroke="#555" stroke-width="0.55"/>
<path d="M232.2 407.2C231.8 408 232.3 409.3 232.7 410.1C233.1 411 233.8 411.9 234.5 412.3C235.3 412.8 236.4 412.9 237.1 412.9C237.9 412.8 238.7 412.2 239.2 411.8C239.6 411.5 239.7 411.2 239.9 410.8C240 410.5 240.2 410.2 240.2 409.7C240.2 409.1 240.1 408.1 239.7 407.4C239.2 406.8 238.4 406.1 237.6 405.8C236.8 405.5 235.6 405.5 234.7 405.8C233.8 406 232.5 406.5 232.2 407.2Z" fill="#fff" stroke="#555" stroke-width="0.55"/>
<path d="M230.9 408.1C230.1 408.2 229.2 409.2 228.7 410C228.2 410.8 227.7 411.8 227.7 412.7C227.7 413.6 228.1 414.6 228.5 415.2C229 415.9 229.9 416.2 230.5 416.5C231 416.7 231.3 416.6 231.7 416.6C232.1 416.5 232.4 416.6 232.8 416.3C233.3 415.9 234.2 415.4 234.5 414.7C234.9 414 235.1 412.9 234.9 412.1C234.7 411.2 234.1 410.2 233.5 409.6C232.8 408.9 231.7 408 230.9 408.1Z" fill="#fff" stroke="#555" stroke-width="0.55"/>
<path d="M229.6 407.5C229.1 406.8 227.7 406.5 226.8 406.5C225.9 406.4 224.8 406.6 224 407C223.2 407.4 222.5 408.3 222.2 409C221.9 409.7 222 410.7 222.1 411.2C222.2 411.8 222.4 412 222.6 412.3C222.8 412.7 223 412.9 223.5 413.2C224 413.5 224.9 413.9 225.6 413.9C226.4 413.8 227.5 413.5 228.1 412.9C228.8 412.3 229.3 411.3 229.6 410.4C229.8 409.5 230 408.1 229.6 407.5Z" fill="#fff" stroke="#555" stroke-width="0.55"/>
<path d="M229.4 406C229.8 405.2 229.3 403.9 228.9 403.1C228.5 402.2 227.8 401.3 227.1 400.9C226.3 400.4 225.2 400.3 224.5 400.3C223.7 400.4 222.9 401 222.4 401.4C222 401.7 221.9 402 221.7 402.4C221.6 402.7 221.4 403 221.4 403.5C221.4 404.1 221.5 405.1 221.9 405.8C222.4 406.4 223.2 407.1 224 407.4C224.8 407.7 226 407.7 226.9 407.4C227.8 407.2 229.1 406.7 229.4 406Z" fill="#fff" stroke="#555" stroke-width="0.55"/>
<path d="M230.7 405.1C231.5 405 232.4 404 232.9 403.2C233.4 402.4 233.9 401.4 233.9 400.5C233.9 399.6 233.5 398.6 233.1 398C232.6 397.3 231.7 397 231.1 396.7C230.6 396.5 230.3 396.6 229.9 396.6C229.5 396.7 229.2 396.6 228.8 396.9C228.3 397.3 227.4 397.8 227.1 398.5C226.7 399.2 226.5 400.3 226.7 401.1C226.9 402 227.5 403 228.1 403.6C228.8 404.3 229.9 405.2 230.7 405.1Z" fill="#fff" stroke="#555" stroke-width="0.55"/>
<path d="M232 405.7C232.5 406.4 233.9 406.7 234.8 406.7C235.7 406.8 236.8 406.6 237.6 406.2C238.4 405.8 239.1 404.9 239.4 404.2C239.7 403.5 239.6 402.5 239.5 402C239.4 401.4 239.2 401.2 239 400.9C238.8 400.5 238.6 400.3 238.1 400C237.6 399.7 236.7 399.3 236 399.3C235.2 399.4 234.1 399.7 233.5 400.3C232.8 400.9 232.3 401.9 232 402.8C231.8 403.7 231.6 405.1 232 405.7Z" fill="#fff" stroke="#555" stroke-width="0.55"/>
<circle cx="230.8" cy="406.6" r="3.7" fill="#fff" stroke="#555" stroke-width="0.55"/>
<path d="M135.8 366.2C137.1 364.3 140.8 364.8 143.2 364.8C145.5 364.8 148.2 365.2 149.9 366.2C151.6 367.2 152.9 368.9 153.3 370.8C153.8 372.7 153.4 375.7 152.6 377.6C151.8 379.5 150.2 381 148.6 382.3C147 383.6 145 385.5 143.2 385.6C141.4 385.7 139.2 384.5 137.9 382.9C136.6 381.3 135.5 379 135.2 376.2C134.8 373.4 134.5 368.1 135.8 366.2Z" fill="#fff" stroke="#555" stroke-width="0.55"/>
<path d="M157.3 366.8C158.8 365.2 161.5 363.1 163.4 362.8C165.3 362.5 167.1 364.1 168.7 364.8C170.3 365.5 171.9 365.6 172.8 366.8C173.7 368 174.3 370.5 174.1 372.2C173.9 373.9 172.5 375.7 171.4 376.9C170.3 378.1 169 379.2 167.4 379.6C165.8 380.1 163.8 380.1 162 379.6C160.2 379.2 157.8 378.1 156.6 376.9C155.4 375.7 154.5 373.9 154.6 372.2C154.7 370.5 155.8 368.4 157.3 366.8Z" fill="#fff" stroke="#555" stroke-width="0.55"/>
<path d="M172.8 375.5C173.6 374.3 176.5 373.6 177.5 374.2C178.5 374.8 178.9 377.5 178.8 378.9C178.7 380.2 177.8 381.8 176.8 382.3C175.8 382.7 173.5 382.7 172.8 381.6C172.1 380.5 172 376.7 172.8 375.5Z" fill="#fff" stroke="#555" stroke-width="0.55"/>
<path d="M137.9 387C139.5 386.3 142.8 385.2 144.6 385.6C146.4 386 147.6 387.6 148.6 389.6C149.6 391.6 150.4 395.2 150.6 397.7C150.8 400.2 150.7 402.8 149.9 404.4C149.1 406 147.5 406.8 145.9 407.1C144.3 407.4 142.1 407.3 140.5 406.4C138.9 405.5 137.5 403.4 136.5 401.7C135.5 400 134.7 398.4 134.5 396.4C134.3 394.4 134.6 391.2 135.2 389.6C135.8 388 136.3 387.7 137.9 387Z" fill="#fff" stroke="#555" stroke-width="0.55"/>
<path d="M149.9 403.1C150.8 401.8 153.7 401.5 155.3 401.7C156.9 401.9 158.4 402.8 159.3 404.4C160.2 406 160.8 409 160.7 411.1C160.6 413.2 159.7 416 158.7 417.2C157.7 418.4 155.8 418.8 154.6 418.5C153.4 418.2 152.1 416.6 151.3 415.1C150.5 413.7 150.1 411.8 149.9 409.8C149.7 407.8 149 404.5 149.9 403.1Z" fill="#fff" stroke="#555" stroke-width="0.55"/>
<path d="M158.7 400.4C159.8 399.3 163.1 398.8 164.7 399C166.3 399.2 167.7 399.9 168.1 401.7C168.6 403.5 167.9 407.4 167.4 409.8C167 412.1 166.4 414.7 165.4 415.8C164.4 416.9 162.4 417.1 161.3 416.5C160.2 415.9 159.2 414.3 158.7 412.5C158.1 410.7 158 407.7 158 405.7C158 403.7 157.6 401.5 158.7 400.4Z" fill="#fff" stroke="#555" stroke-width="0.55"/>
<path d="M146.8 384.1C147.3 383.6 148.6 383.6 149.2 383.1C149.9 382.6 150 381.7 150.6 381.3C151.2 380.9 152.1 381 152.8 380.5C153.4 380.1 153.9 379.1 154.5 378.7C155.2 378.4 156 378.7 156.7 378.3C157.4 377.9 158.1 376.3 158.8 376.2C159.5 376.2 160.1 377.8 161 378.2C161.8 378.5 163.2 377.8 163.7 378.3C164.3 378.8 163.7 380.3 164 381C164.3 381.6 165.2 381.6 165.5 382.2C165.8 382.7 165.5 383.8 165.7 384.5C165.9 385.1 166.6 385.4 166.6 386C166.7 386.6 165.9 387.4 166 388.1C166.1 388.8 167.1 389.4 167.1 390C167.2 390.6 166.3 391.1 166.3 391.7C166.3 392.4 167.5 393.4 167.3 394C167.2 394.6 165.7 394.7 165.3 395.2C164.9 395.8 165 396.9 164.7 397.5C164.4 398.1 163.7 398.4 163.3 398.8C162.8 399.2 162.5 399.9 161.9 400.1C161.3 400.3 160.5 399.8 159.9 400C159.3 400.2 158.9 401.2 158.3 401.4C157.8 401.6 157.2 401.4 156.6 401.4C156 401.4 155.3 401.7 154.7 401.5C154.2 401.2 153.8 400.2 153.2 400C152.6 399.8 151.4 400.6 151 400.3C150.5 399.9 150.8 398.5 150.5 397.9C150.2 397.4 149.3 397.4 149 397C148.6 396.5 148.9 395.5 148.5 395C148.2 394.5 146.9 394.4 146.8 393.9C146.6 393.3 147.6 392.4 147.6 391.7C147.6 391.1 146.7 390.6 146.7 390C146.7 389.4 147.6 388.8 147.6 388.1C147.6 387.4 146.7 386.6 146.5 386C146.4 385.3 146.4 384.6 146.8 384.1Z" fill="#fff" stroke="#555" stroke-width="0.55"/>
<path d="M158 383.6C158.9 382.5 162.2 381.8 164.7 381.6C167.2 381.4 170.1 381.7 172.8 382.3C175.5 382.8 178.6 383.8 180.8 384.9C183 386 185.1 387.5 186.2 389C187.3 390.5 188 392.5 187.5 393.7C187.1 394.9 185.5 395.9 183.5 396.4C181.5 396.8 177.9 396.8 175.4 396.4C172.9 396 170.7 395.2 168.7 394.3C166.7 393.4 165 392 163.4 391C161.8 390 160.2 389.5 159.3 388.3C158.4 387.1 157.1 384.7 158 383.6Z" fill="#fff" stroke="#555" stroke-width="0.55"/>
<path d="M182.1 373.5C182.9 372.5 184.6 372.3 186.2 372.9C187.8 373.5 189.7 375.4 191.5 376.9C193.3 378.3 195.6 379.9 196.9 381.6C198.3 383.3 199.3 385.2 199.6 387C199.9 388.8 199.6 391 198.9 392.3C198.2 393.6 196.8 394.8 195.6 395C194.4 395.2 193.1 394.6 191.5 393.7C189.9 392.8 187.7 391.2 186.2 389.6C184.7 388 183.6 386.1 182.8 384.3C182 382.5 181.6 380.7 181.5 378.9C181.4 377.1 181.3 374.5 182.1 373.5Z" fill="#fff" stroke="#555" stroke-width="0.55"/>
<path d="M196.5 399C197.2 396.9 201 394 203.2 392.3C205.4 390.6 207.7 389.4 209.9 389C212.1 388.6 214.6 388.8 216.6 389.6C218.6 390.4 220.9 392.1 222 393.7C223.1 395.3 223.6 397.2 223.4 399C223.2 400.8 222.3 403 220.7 404.4C219.1 405.8 216.5 406.7 214 407.1C211.5 407.6 208.4 407.4 205.9 407.1C203.4 406.8 200.8 406.5 199.2 405.1C197.6 403.8 195.8 401.1 196.5 399Z" fill="#fff" stroke="#555" stroke-width="0.55"/>
<path d="M193.8 405.7C194.9 404.1 198.5 406.4 200.5 407.1C202.5 407.8 204.3 408.5 205.9 409.8C207.5 411.1 209.1 413.1 209.9 415.1C210.7 417.1 211 420.3 210.6 421.9C210.1 423.5 208.9 423.9 207.2 424.5C205.5 425.1 202.4 425.5 200.5 425.2C198.6 424.9 196.9 423.9 195.8 422.5C194.7 421.1 194.1 419.3 193.8 416.5C193.5 413.7 192.7 407.3 193.8 405.7Z" fill="#fff" stroke="#555" stroke-width="0.55"/>
<path d="M178.1 421.9C179.6 421 184 421.2 186.2 420.5C188.4 419.8 190.4 417.3 191.5 417.8C192.6 418.2 193.3 421.4 192.9 423.2C192.5 425 190.5 427.2 188.9 428.6C187.3 430.1 185.1 431.7 183.5 431.9C181.9 432.1 180.5 430.9 179.5 429.9C178.5 428.9 177.7 427.2 177.5 425.9C177.3 424.6 176.7 422.8 178.1 421.9Z" fill="#fff" stroke="#555" stroke-width="0.55"/>
<path d="M166.8 400.1C167.4 399.7 169 400.1 169.6 399.8C170.2 399.5 170 398.5 170.6 398.2C171.2 397.9 172.4 398.3 173.1 398C173.7 397.7 173.9 396.7 174.6 396.6C175.3 396.4 176.6 397.3 177.4 397.2C178.2 397 178.7 395.8 179.4 395.7C180.1 395.6 180.9 396.5 181.7 396.4C182.5 396.2 183.4 394.9 184.1 394.7C184.9 394.5 185.4 395.1 186.1 395.2C186.8 395.3 187.6 394.9 188.2 395.1C188.7 395.3 188.8 396.2 189.4 396.3C190.1 396.5 191.5 395.5 192 395.9C192.4 396.2 191.9 397.7 192.2 398.4C192.5 399 193.6 399 193.9 399.5C194.2 400.1 193.8 401.1 194 401.8C194.1 402.5 194.9 403.1 194.9 403.8C195 404.5 194.3 405.4 194.3 406.2C194.4 407 195.4 407.7 195.4 408.4C195.4 409.1 194.3 409.8 194.2 410.6C194.1 411.4 194.8 412.4 194.6 413.1C194.4 413.8 193.6 414.2 193.3 414.9C192.9 415.6 192.9 416.6 192.4 417.2C191.9 417.8 190.7 417.7 190.2 418.4C189.7 419.1 189.9 420.8 189.3 421.2C188.8 421.6 187.5 420.7 186.8 420.8C186.1 420.9 185.6 421.8 185 422C184.3 422.1 183.5 421.6 182.8 421.8C182.1 422 181.4 423.2 180.8 423.2C180.1 423.2 179.5 422 178.9 421.8C178.2 421.7 177.3 422.5 176.6 422.4C176 422.3 175.6 421.4 174.9 421.3C174.2 421.2 173 422.1 172.4 421.8C171.8 421.5 171.9 419.9 171.3 419.3C170.7 418.7 169.3 418.9 168.8 418.4C168.2 417.9 168.2 416.9 167.8 416.3C167.4 415.6 166.5 415.2 166.3 414.5C166.1 413.7 166.7 412.7 166.4 411.9C166.1 411.2 164.6 410.6 164.6 409.9C164.5 409.2 165.9 408.6 166.1 407.9C166.3 407.3 165.7 406.6 165.8 406C165.9 405.4 166.7 404.9 166.8 404.2C166.9 403.6 166.4 402.7 166.4 402C166.4 401.3 166.3 400.5 166.8 400.1Z" fill="#fff" stroke="#555" stroke-width="0.55"/>
<circle cx="179.8" cy="404.9" r="2" fill="none" stroke="#666" stroke-width="0.5"/>
<circle cx="181.8" cy="407.4" r="1.6" fill="none" stroke="#666" stroke-width="0.5"/>
<path d="M169.8 385.4C171 386.1 174.6 388.2 176.8 389.4C179 390.6 181.8 391.9 182.8 392.4" fill="none" stroke="#666" stroke-width="0.45" stroke-linecap="round" stroke-linejoin="round"/>
<path d="M203.8 394.4C205.1 394.9 209.3 396.6 211.8 397.4C214.3 398.2 217.6 399.1 218.8 399.4" fill="none" stroke="#666" stroke-width="0.45" stroke-linecap="round" stroke-linejoin="round"/>
<path d="M163 377.5Q162.7 374 159.4 375.4Q156.8 373.1 155.4 376.5Q152.2 375.2 151.8 378.5Q148.9 376.5 148.2 380.3Q144.7 380.6 146.1 383.9Q142.8 384.8 145.5 387.9Q143.4 390.6 146.8 391.8Q145.2 395 148.7 395.5Q147.9 398.9 151.4 398.7Q150.8 402.3 154.3 401.8Q156.4 405 158.2 402" fill="none" stroke="#2f72bb" stroke-width="1.3" stroke-linecap="round" stroke-linejoin="round"/>
<path d="M195 394.9C195.8 394.5 198.1 393.4 200 392.4C201.9 391.3 204.1 389.4 206.2 388.6C208.3 387.8 210.3 387.3 212.4 387.4C214.5 387.5 217 388.5 218.7 389.3C220.4 390.1 221.5 391.3 222.4 392.4C223.3 393.5 224.1 394.9 224.3 396.1C224.5 397.3 224.1 398.6 223.7 399.8C223.3 401.1 222.1 403 221.8 403.6" fill="none" stroke="#2f72bb" stroke-width="1.2" stroke-linecap="round" stroke-linejoin="round"/>
<path d="M197.5 379.9C197.9 380.7 199.5 383.2 200 384.9C200.5 386.6 200.8 388.2 200.6 389.9C200.4 391.6 199 394.1 198.7 394.9" fill="none" stroke="#2f72bb" stroke-width="1.2" stroke-linecap="round" stroke-linejoin="round"/>
<path d="M209.3 366.8C210.1 366.2 212.3 365.2 213.7 365C215 364.8 216.7 364.8 217.4 365.6C218.1 366.4 218.2 368.8 218 370C217.8 371.2 217.1 372.5 216.2 373.1C215.3 373.7 213.6 373.9 212.4 373.7C211.2 373.5 209.9 372.6 209.3 371.8C208.7 371 208.7 369.5 208.7 368.7C208.7 367.9 208.5 367.4 209.3 366.8Z" fill="none" stroke="#2f72bb" stroke-width="1.2"/>
<path d="M239.8 363.7C240.4 363.2 242.2 364.2 243 365C243.8 365.8 244.3 367.5 244.8 368.7C245.3 369.9 246.2 371.6 246.1 372.4C246 373.2 245 373.8 244.2 373.7C243.4 373.6 241.9 372.7 241.1 371.8C240.3 370.9 239.4 369.5 239.2 368.1C239 366.8 239.2 364.2 239.8 363.7Z" fill="none" stroke="#2f72bb" stroke-width="1.2"/>
<path d="M239.2 386.8C239.7 386 241.8 385 243 384.9C244.2 384.8 245.5 385.3 246.1 386.1C246.7 386.9 247 388.8 246.7 389.9C246.4 390.9 245.1 391.6 244.2 392.4C243.3 393.2 241.9 394.9 241.1 394.9C240.3 394.9 239.4 393.2 239.2 392.4C239 391.6 239.8 390.8 239.8 389.9C239.8 389 238.7 387.6 239.2 386.8Z" fill="none" stroke="#2f72bb" stroke-width="1.2"/>
<path d="M538.8 497C539.1 497.2 538 500.8 537.5 503C537 505.2 536.1 507.5 535.5 510C534.9 512.5 534.2 515.2 533.8 518C533.4 520.8 533.4 525.5 533 527C532.6 528.5 531.7 528.5 531.6 527C531.5 525.5 531.9 521 532.2 518C532.5 515 533 511.7 533.6 509C534.2 506.3 534.9 504 535.8 502C536.7 500 538.5 496.8 538.8 497Z" fill="url(#gLeaf2)" stroke="#8f8f86" stroke-width="0.45"/>
<path d="M528.1 509.4C528.4 509.4 529.3 511.4 529.8 513C530.3 514.6 530.5 516.3 531 518.8C531.5 521.3 532.8 526.6 532.8 528.2C532.8 529.8 531.6 529.6 531 528.2C530.4 526.8 529.7 522.5 529.2 520C528.7 517.5 528 514.8 527.8 513C527.6 511.2 527.8 509.4 528.1 509.4Z" fill="url(#gLeaf2)" stroke="#8f8f86" stroke-width="0.45"/>
<path d="M567.5 519.2C567.4 519.7 568 520.5 568.4 521C568.8 521.5 569.5 522 570.1 522.2C570.6 522.4 571.4 522.3 571.9 522.1C572.4 521.9 572.9 521.3 573.1 521C573.4 520.7 573.3 520.5 573.4 520.2C573.4 519.9 573.5 519.7 573.4 519.4C573.3 519 573.1 518.3 572.7 518C572.2 517.6 571.5 517.3 570.9 517.2C570.3 517.2 569.6 517.4 569 517.7C568.4 518.1 567.6 518.6 567.5 519.2Z" fill="#fff" stroke="#8a8a8a" stroke-width="0.45"/>
<path d="M566.9 520C566.3 520.2 565.9 521.1 565.7 521.7C565.5 522.3 565.4 523.1 565.5 523.7C565.7 524.3 566.1 524.9 566.5 525.2C567 525.6 567.7 525.7 568.1 525.7C568.4 525.8 568.6 525.7 568.9 525.6C569.2 525.5 569.4 525.5 569.6 525.2C569.9 524.9 570.4 524.3 570.5 523.8C570.6 523.3 570.5 522.5 570.3 522C570 521.4 569.4 520.9 568.8 520.5C568.3 520.2 567.4 519.8 566.9 520Z" fill="#fff" stroke="#8a8a8a" stroke-width="0.45"/>
<path d="M565.8 519.8C565.4 519.4 564.4 519.5 563.8 519.6C563.1 519.8 562.4 520.1 562 520.5C561.5 520.9 561.2 521.6 561.1 522.2C561 522.7 561.3 523.3 561.4 523.7C561.6 524.1 561.8 524.2 562 524.4C562.2 524.5 562.3 524.7 562.7 524.8C563.1 524.9 563.8 525 564.3 524.9C564.8 524.7 565.5 524.2 565.8 523.7C566.2 523.2 566.3 522.5 566.3 521.8C566.3 521.1 566.3 520.2 565.8 519.8Z" fill="#fff" stroke="#8a8a8a" stroke-width="0.45"/>
<path d="M565.5 518.8C565.6 518.3 565 517.5 564.6 517C564.2 516.5 563.5 516 562.9 515.8C562.4 515.6 561.6 515.7 561.1 515.9C560.6 516.1 560.1 516.7 559.9 517C559.6 517.3 559.7 517.5 559.6 517.8C559.6 518.1 559.5 518.3 559.6 518.6C559.7 519 559.9 519.7 560.3 520C560.8 520.4 561.5 520.7 562.1 520.8C562.7 520.8 563.4 520.6 564 520.3C564.6 519.9 565.4 519.4 565.5 518.8Z" fill="#fff" stroke="#8a8a8a" stroke-width="0.45"/>
<path d="M566.1 518C566.7 517.8 567.1 516.9 567.3 516.3C567.5 515.7 567.6 514.9 567.5 514.3C567.3 513.7 566.9 513.1 566.5 512.8C566 512.4 565.3 512.3 564.9 512.3C564.6 512.2 564.4 512.3 564.1 512.4C563.8 512.5 563.6 512.5 563.4 512.8C563.1 513.1 562.6 513.7 562.5 514.2C562.4 514.7 562.5 515.5 562.7 516C563 516.6 563.6 517.1 564.2 517.5C564.7 517.8 565.6 518.2 566.1 518Z" fill="#fff" stroke="#8a8a8a" stroke-width="0.45"/>
<path d="M567.2 518.2C567.6 518.6 568.6 518.5 569.2 518.4C569.9 518.2 570.6 517.9 571 517.5C571.5 517.1 571.8 516.4 571.9 515.8C572 515.3 571.7 514.7 571.6 514.3C571.4 513.9 571.2 513.8 571 513.6C570.8 513.5 570.7 513.3 570.3 513.2C569.9 513.1 569.2 513 568.7 513.1C568.2 513.3 567.5 513.8 567.2 514.3C566.8 514.8 566.7 515.5 566.7 516.2C566.7 516.9 566.7 517.8 567.2 518.2Z" fill="#fff" stroke="#8a8a8a" stroke-width="0.45"/>
<path d="M570 535.4C569.7 536 570 536.9 570.3 537.5C570.6 538.1 571.1 538.7 571.6 539C572.1 539.3 572.9 539.4 573.4 539.4C574 539.3 574.5 538.9 574.9 538.7C575.2 538.4 575.2 538.2 575.3 538C575.5 537.7 575.6 537.5 575.6 537.1C575.6 536.7 575.5 536 575.2 535.6C574.9 535.1 574.3 534.6 573.7 534.4C573.2 534.2 572.4 534.3 571.7 534.4C571.1 534.6 570.2 534.9 570 535.4Z" fill="#fff" stroke="#8a8a8a" stroke-width="0.45"/>
<path d="M569.1 536C568.5 536.1 567.9 536.8 567.5 537.4C567.1 537.9 566.9 538.7 566.8 539.3C566.8 539.9 567.1 540.6 567.4 541C567.7 541.5 568.4 541.8 568.8 541.9C569.1 542.1 569.3 542 569.6 542C569.9 541.9 570.1 542 570.4 541.8C570.8 541.5 571.4 541.2 571.6 540.7C571.8 540.2 572 539.4 571.9 538.8C571.7 538.2 571.3 537.5 570.9 537.1C570.4 536.6 569.6 536 569.1 536Z" fill="#fff" stroke="#8a8a8a" stroke-width="0.45"/>
<path d="M568.1 535.6C567.8 535.1 566.9 535 566.2 534.9C565.5 534.9 564.8 535 564.2 535.3C563.7 535.6 563.2 536.2 563 536.7C562.8 537.1 562.9 537.9 562.9 538.2C562.9 538.6 563.1 538.8 563.3 539C563.4 539.2 563.5 539.4 563.9 539.6C564.2 539.8 564.8 540.1 565.4 540.1C565.9 540.1 566.7 539.8 567.1 539.4C567.6 539 568 538.3 568.1 537.7C568.3 537 568.5 536.1 568.1 535.6Z" fill="#fff" stroke="#8a8a8a" stroke-width="0.45"/>
<path d="M568 534.6C568.3 534 568 533.1 567.7 532.5C567.4 531.9 566.9 531.3 566.4 531C565.9 530.7 565.1 530.6 564.6 530.6C564 530.7 563.5 531.1 563.1 531.3C562.8 531.6 562.8 531.8 562.7 532C562.5 532.3 562.4 532.5 562.4 532.9C562.4 533.3 562.5 534 562.8 534.4C563.1 534.9 563.7 535.4 564.3 535.6C564.8 535.8 565.6 535.7 566.3 535.6C566.9 535.4 567.8 535.1 568 534.6Z" fill="#fff" stroke="#8a8a8a" stroke-width="0.45"/>
<path d="M568.9 534C569.5 533.9 570.1 533.2 570.5 532.6C570.9 532.1 571.1 531.3 571.2 530.7C571.2 530.1 570.9 529.4 570.6 529C570.3 528.5 569.6 528.2 569.2 528.1C568.9 527.9 568.7 528 568.4 528C568.1 528.1 567.9 528 567.6 528.2C567.2 528.5 566.6 528.8 566.4 529.3C566.2 529.8 566 530.6 566.1 531.2C566.3 531.8 566.7 532.5 567.1 532.9C567.6 533.4 568.4 534 568.9 534Z" fill="#fff" stroke="#8a8a8a" stroke-width="0.45"/>
<path d="M569.9 534.4C570.2 534.9 571.1 535 571.8 535.1C572.5 535.1 573.2 535 573.8 534.7C574.3 534.4 574.8 533.8 575 533.3C575.2 532.9 575.1 532.1 575.1 531.8C575.1 531.4 574.9 531.2 574.7 531C574.6 530.8 574.5 530.6 574.1 530.4C573.8 530.2 573.2 529.9 572.6 529.9C572.1 529.9 571.3 530.2 570.9 530.6C570.4 531 570 531.7 569.9 532.3C569.7 533 569.5 533.9 569.9 534.4Z" fill="#fff" stroke="#8a8a8a" stroke-width="0.45"/>
<path d="M581.9 520C581.9 520.5 582.5 521.1 582.9 521.4C583.3 521.8 584 522.1 584.5 522.2C585 522.2 585.6 522 586 521.8C586.4 521.6 586.7 521 586.9 520.7C587 520.4 587 520.2 587 520C587 519.8 587 519.6 586.9 519.3C586.7 519 586.4 518.4 586 518.2C585.6 518 585 517.8 584.5 517.8C584 517.9 583.3 518.2 582.9 518.6C582.5 518.9 581.9 519.5 581.9 520Z" fill="#fff" stroke="#8a8a8a" stroke-width="0.45"/>
<path d="M581.5 520.8C581 521 580.8 521.8 580.7 522.4C580.6 522.9 580.7 523.6 580.9 524.1C581.1 524.6 581.6 525 582 525.3C582.4 525.5 583 525.5 583.3 525.5C583.7 525.4 583.8 525.3 584 525.2C584.2 525.1 584.4 525 584.6 524.7C584.7 524.4 585.1 523.9 585.1 523.5C585.1 523 584.9 522.4 584.6 521.9C584.3 521.5 583.7 521.1 583.2 520.9C582.7 520.8 581.9 520.5 581.5 520.8Z" fill="#fff" stroke="#8a8a8a" stroke-width="0.45"/>
<path d="M580.5 520.8C580.1 520.5 579.3 520.8 578.8 520.9C578.3 521.1 577.7 521.5 577.4 521.9C577.1 522.4 576.9 523 576.9 523.5C576.9 523.9 577.3 524.4 577.4 524.7C577.6 525 577.8 525.1 578 525.2C578.2 525.3 578.3 525.4 578.7 525.5C579 525.5 579.6 525.5 580 525.3C580.4 525 580.9 524.6 581.1 524.1C581.3 523.6 581.4 522.9 581.3 522.4C581.2 521.8 581 521 580.5 520.8Z" fill="#fff" stroke="#8a8a8a" stroke-width="0.45"/>
<path d="M580.1 520C580.1 519.5 579.5 518.9 579.1 518.6C578.7 518.2 578 517.9 577.5 517.8C577 517.8 576.4 518 576 518.2C575.6 518.4 575.3 519 575.1 519.3C575 519.6 575 519.8 575 520C575 520.2 575 520.4 575.1 520.7C575.3 521 575.6 521.6 576 521.8C576.4 522 577 522.2 577.5 522.2C578 522.1 578.7 521.8 579.1 521.4C579.5 521.1 580.1 520.5 580.1 520Z" fill="#fff" stroke="#8a8a8a" stroke-width="0.45"/>
<path d="M580.5 519.2C581 519 581.2 518.2 581.3 517.6C581.4 517.1 581.3 516.4 581.1 515.9C580.9 515.4 580.4 515 580 514.7C579.6 514.5 579 514.5 578.7 514.5C578.3 514.6 578.2 514.7 578 514.8C577.8 514.9 577.6 515 577.4 515.3C577.3 515.6 576.9 516.1 576.9 516.5C576.9 517 577.1 517.6 577.4 518.1C577.7 518.5 578.3 518.9 578.8 519.1C579.3 519.2 580.1 519.5 580.5 519.2Z" fill="#fff" stroke="#8a8a8a" stroke-width="0.45"/>
<path d="M581.5 519.2C581.9 519.5 582.7 519.2 583.2 519.1C583.7 518.9 584.3 518.5 584.6 518.1C584.9 517.6 585.1 517 585.1 516.5C585.1 516.1 584.7 515.6 584.6 515.3C584.4 515 584.2 514.9 584 514.8C583.8 514.7 583.7 514.6 583.3 514.5C583 514.5 582.4 514.5 582 514.7C581.6 515 581.1 515.4 580.9 515.9C580.7 516.4 580.6 517.1 580.7 517.6C580.8 518.2 581 519 581.5 519.2Z" fill="#fff" stroke="#8a8a8a" stroke-width="0.45"/>
<path d="M548.8 517.3C548.7 517.8 549 518.5 549.3 519C549.6 519.5 550.1 520 550.5 520.2C551 520.5 551.7 520.5 552.1 520.4C552.6 520.3 553 519.9 553.3 519.7C553.5 519.5 553.6 519.3 553.6 519.1C553.7 518.8 553.8 518.7 553.8 518.3C553.7 518 553.6 517.4 553.4 517C553.1 516.7 552.5 516.3 552 516.2C551.5 516 550.8 516.1 550.3 516.3C549.8 516.5 549 516.9 548.8 517.3Z" fill="#fff" stroke="#8a8a8a" stroke-width="0.45"/>
<path d="M548.2 517.9C547.7 518 547.2 518.7 546.9 519.1C546.6 519.6 546.4 520.3 546.5 520.8C546.5 521.3 546.8 521.9 547.1 522.3C547.4 522.6 548 522.8 548.3 522.9C548.6 523 548.8 523 549 522.9C549.3 522.9 549.5 522.9 549.7 522.7C550 522.5 550.5 522.1 550.6 521.7C550.8 521.2 550.9 520.6 550.7 520.1C550.6 519.6 550.2 519 549.8 518.6C549.3 518.3 548.6 517.8 548.2 517.9Z" fill="#fff" stroke="#8a8a8a" stroke-width="0.45"/>
<path d="M547.3 517.6C547 517.2 546.2 517.1 545.6 517.1C545 517.1 544.4 517.3 543.9 517.6C543.5 517.9 543.1 518.4 543 518.9C542.8 519.3 543 519.9 543 520.2C543.1 520.6 543.2 520.7 543.4 520.9C543.6 521 543.6 521.2 544 521.3C544.3 521.5 544.8 521.7 545.3 521.6C545.8 521.5 546.4 521.3 546.7 520.9C547.1 520.5 547.4 519.9 547.5 519.3C547.6 518.8 547.6 517.9 547.3 517.6Z" fill="#fff" stroke="#8a8a8a" stroke-width="0.45"/>
<path d="M547.2 516.7C547.3 516.2 547 515.5 546.7 515C546.4 514.5 545.9 514 545.5 513.8C545 513.5 544.3 513.5 543.9 513.6C543.4 513.7 543 514.1 542.7 514.3C542.5 514.5 542.4 514.7 542.4 514.9C542.3 515.2 542.2 515.3 542.2 515.7C542.3 516 542.4 516.6 542.6 517C542.9 517.3 543.5 517.7 544 517.8C544.5 518 545.2 517.9 545.7 517.7C546.2 517.5 547 517.1 547.2 516.7Z" fill="#fff" stroke="#8a8a8a" stroke-width="0.45"/>
<path d="M547.8 516.1C548.3 516 548.8 515.3 549.1 514.9C549.4 514.4 549.6 513.7 549.5 513.2C549.5 512.7 549.2 512.1 548.9 511.7C548.6 511.4 548 511.2 547.7 511.1C547.4 511 547.2 511 547 511.1C546.7 511.1 546.5 511.1 546.3 511.3C546 511.5 545.5 511.9 545.4 512.3C545.2 512.8 545.1 513.4 545.3 513.9C545.4 514.4 545.8 515 546.2 515.4C546.7 515.7 547.4 516.2 547.8 516.1Z" fill="#fff" stroke="#8a8a8a" stroke-width="0.45"/>
<path d="M548.7 516.4C549 516.8 549.8 516.9 550.4 516.9C551 516.9 551.6 516.7 552.1 516.4C552.5 516.1 552.9 515.6 553 515.1C553.2 514.7 553 514.1 553 513.8C552.9 513.4 552.8 513.3 552.6 513.1C552.4 513 552.4 512.8 552 512.7C551.7 512.5 551.2 512.3 550.7 512.4C550.2 512.5 549.6 512.7 549.3 513.1C548.9 513.5 548.6 514.1 548.5 514.7C548.4 515.2 548.4 516.1 548.7 516.4Z" fill="#fff" stroke="#8a8a8a" stroke-width="0.45"/>
<path d="M545.3 508.6C545.1 509.3 545.7 510.4 546.2 511.1C546.7 511.8 547.5 512.5 548.2 512.8C548.9 513.1 549.9 513.1 550.6 512.9C551.3 512.7 551.9 512 552.2 511.6C552.6 511.3 552.6 511 552.7 510.6C552.8 510.3 552.9 510 552.8 509.5C552.7 509 552.5 508.2 552 507.6C551.5 507.1 550.7 506.6 549.9 506.5C549.1 506.4 548.1 506.6 547.3 507C546.6 507.3 545.5 508 545.3 508.6Z" fill="#fff" stroke="#8a8a8a" stroke-width="0.45"/>
<path d="M544.3 509.6C543.7 509.8 543 510.9 542.7 511.6C542.3 512.4 542.1 513.4 542.2 514.2C542.3 515 542.8 515.8 543.3 516.3C543.9 516.8 544.7 517 545.2 517.1C545.7 517.2 546 517.1 546.3 517C546.7 516.9 547 516.9 547.3 516.5C547.7 516.2 548.4 515.6 548.6 514.9C548.8 514.2 548.8 513.2 548.5 512.5C548.2 511.8 547.5 511 546.8 510.5C546.1 510 545 509.4 544.3 509.6Z" fill="#fff" stroke="#8a8a8a" stroke-width="0.45"/>
<path d="M543 509.3C542.5 508.7 541.3 508.7 540.4 508.8C539.6 508.9 538.6 509.2 538 509.7C537.4 510.2 536.9 511.1 536.7 511.7C536.6 512.4 536.9 513.3 537 513.8C537.1 514.3 537.4 514.4 537.6 514.7C537.9 514.9 538 515.2 538.5 515.3C539 515.4 539.9 515.7 540.6 515.6C541.2 515.4 542.1 514.9 542.6 514.3C543.1 513.7 543.4 512.7 543.5 511.9C543.6 511 543.6 509.8 543 509.3Z" fill="#fff" stroke="#8a8a8a" stroke-width="0.45"/>
<path d="M542.7 508C542.9 507.3 542.3 506.2 541.8 505.5C541.3 504.8 540.5 504.1 539.8 503.8C539.1 503.5 538.1 503.5 537.4 503.7C536.7 503.9 536.1 504.6 535.8 505C535.4 505.3 535.4 505.6 535.3 506C535.2 506.3 535.1 506.6 535.2 507.1C535.3 507.6 535.5 508.4 536 509C536.5 509.5 537.3 510 538.1 510.1C538.9 510.2 539.9 510 540.7 509.6C541.4 509.3 542.5 508.6 542.7 508Z" fill="#fff" stroke="#8a8a8a" stroke-width="0.45"/>
<path d="M543.7 507C544.3 506.8 545 505.7 545.3 505C545.7 504.2 545.9 503.2 545.8 502.4C545.7 501.6 545.2 500.8 544.7 500.3C544.1 499.8 543.3 499.6 542.8 499.5C542.3 499.4 542 499.5 541.7 499.6C541.3 499.7 541 499.7 540.7 500.1C540.3 500.4 539.6 501 539.4 501.7C539.2 502.4 539.2 503.4 539.5 504.1C539.8 504.8 540.5 505.6 541.2 506.1C541.9 506.6 543 507.2 543.7 507Z" fill="#fff" stroke="#8a8a8a" stroke-width="0.45"/>
<path d="M545 507.3C545.5 507.9 546.7 507.9 547.6 507.8C548.4 507.7 549.4 507.4 550 506.9C550.6 506.4 551.1 505.5 551.3 504.9C551.4 504.2 551.1 503.3 551 502.8C550.9 502.3 550.6 502.2 550.4 501.9C550.1 501.7 550 501.4 549.5 501.3C549 501.2 548.1 500.9 547.4 501C546.8 501.2 545.9 501.7 545.4 502.3C544.9 502.9 544.6 503.9 544.5 504.7C544.4 505.6 544.4 506.8 545 507.3Z" fill="#fff" stroke="#8a8a8a" stroke-width="0.45"/>
<circle cx="544" cy="508.3" r="3.3" fill="#f6da52" stroke="#8a8a8a" stroke-width="0.45"/>
<circle cx="544" cy="508.3" r="0.8" fill="#d98a3a"/>
<path d="M573.1 508.9C572.8 509.5 573.1 510.7 573.3 511.4C573.6 512.2 574.1 513 574.7 513.4C575.3 513.9 576.2 514.1 576.9 514.1C577.6 514.1 578.3 513.6 578.7 513.3C579.1 513.1 579.2 512.8 579.4 512.5C579.5 512.3 579.7 512.1 579.7 511.6C579.7 511.1 579.8 510.2 579.5 509.7C579.1 509.1 578.5 508.4 577.8 508.1C577.1 507.8 576.2 507.8 575.4 507.9C574.6 508 573.4 508.3 573.1 508.9Z" fill="#fff" stroke="#8a8a8a" stroke-width="0.45"/>
<path d="M572 509.6C571.3 509.6 570.5 510.4 570 511C569.5 511.6 569 512.5 568.9 513.2C568.9 514 569.1 514.9 569.5 515.4C569.8 516 570.6 516.4 571 516.6C571.4 516.9 571.7 516.8 572 516.8C572.3 516.8 572.6 516.9 573 516.6C573.4 516.4 574.2 516 574.5 515.4C574.9 514.9 575.1 514 575.1 513.2C575 512.5 574.5 511.6 574 511C573.5 510.4 572.7 509.6 572 509.6Z" fill="#fff" stroke="#8a8a8a" stroke-width="0.45"/>
<path d="M570.9 508.9C570.6 508.3 569.4 508 568.6 507.9C567.8 507.8 566.9 507.8 566.2 508.1C565.5 508.4 564.9 509.1 564.5 509.7C564.2 510.2 564.3 511.1 564.3 511.6C564.3 512.1 564.5 512.3 564.6 512.5C564.8 512.8 564.9 513.1 565.3 513.3C565.7 513.6 566.4 514.1 567.1 514.1C567.8 514.1 568.7 513.9 569.3 513.4C569.9 513 570.4 512.2 570.7 511.4C570.9 510.7 571.2 509.5 570.9 508.9Z" fill="#fff" stroke="#8a8a8a" stroke-width="0.45"/>
<path d="M570.9 507.7C571.2 507.1 570.9 505.9 570.7 505.2C570.4 504.4 569.9 503.6 569.3 503.2C568.7 502.7 567.8 502.5 567.1 502.5C566.4 502.5 565.7 503 565.3 503.3C564.9 503.5 564.8 503.8 564.6 504.1C564.5 504.3 564.3 504.5 564.3 505C564.3 505.5 564.2 506.4 564.5 506.9C564.9 507.5 565.5 508.2 566.2 508.5C566.9 508.8 567.8 508.8 568.6 508.7C569.4 508.6 570.6 508.3 570.9 507.7Z" fill="#fff" stroke="#8a8a8a" stroke-width="0.45"/>
<path d="M572 507C572.7 507 573.5 506.2 574 505.6C574.5 505 575 504.1 575.1 503.4C575.1 502.6 574.9 501.7 574.5 501.2C574.2 500.6 573.4 500.2 573 500C572.6 499.7 572.3 499.8 572 499.8C571.7 499.8 571.4 499.7 571 500C570.6 500.2 569.8 500.6 569.5 501.2C569.1 501.7 568.9 502.6 568.9 503.4C569 504.1 569.5 505 570 505.6C570.5 506.2 571.3 507 572 507Z" fill="#fff" stroke="#8a8a8a" stroke-width="0.45"/>
<path d="M573.1 507.7C573.4 508.3 574.6 508.6 575.4 508.7C576.2 508.8 577.1 508.8 577.8 508.5C578.5 508.2 579.1 507.5 579.5 506.9C579.8 506.4 579.7 505.5 579.7 505C579.7 504.5 579.5 504.3 579.4 504.1C579.2 503.8 579.1 503.5 578.7 503.3C578.3 503 577.6 502.5 576.9 502.5C576.2 502.5 575.3 502.7 574.7 503.2C574.1 503.6 573.6 504.4 573.3 505.2C573.1 505.9 572.8 507.1 573.1 507.7Z" fill="#fff" stroke="#8a8a8a" stroke-width="0.45"/>
<circle cx="572" cy="508.3" r="3.1" fill="#f6da52" stroke="#8a8a8a" stroke-width="0.45"/>
<circle cx="572" cy="508.3" r="0.8" fill="#d98a3a"/>
<path d="M554.9 523.7C554.9 524.5 555.9 525.5 556.6 526.1C557.3 526.7 558.3 527.2 559.2 527.3C560.1 527.4 561.1 527.1 561.8 526.7C562.5 526.3 562.9 525.4 563.2 524.9C563.5 524.4 563.4 524.1 563.4 523.7C563.4 523.3 563.5 523 563.2 522.5C562.9 522 562.5 521.1 561.8 520.7C561.1 520.3 560.1 520 559.2 520.1C558.3 520.2 557.3 520.7 556.6 521.3C555.9 521.9 554.9 522.9 554.9 523.7Z" fill="#fff" stroke="#8a8a8a" stroke-width="0.45"/>
<path d="M554.1 525C553.5 525.4 553.1 526.8 552.9 527.7C552.8 528.6 552.8 529.7 553.2 530.5C553.5 531.3 554.3 532.1 555 532.5C555.7 532.9 556.7 532.8 557.3 532.8C557.8 532.8 558.1 532.6 558.4 532.4C558.7 532.2 559 532.1 559.3 531.6C559.6 531.1 560.2 530.3 560.2 529.5C560.2 528.7 559.9 527.6 559.4 526.9C558.9 526.2 558 525.6 557.1 525.3C556.2 525 554.8 524.6 554.1 525Z" fill="#fff" stroke="#8a8a8a" stroke-width="0.45"/>
<path d="M552.6 525C552 524.6 550.6 525 549.7 525.3C548.8 525.6 547.9 526.2 547.4 526.9C546.9 527.6 546.6 528.7 546.6 529.5C546.6 530.3 547.2 531.1 547.5 531.6C547.8 532.1 548.1 532.2 548.4 532.4C548.7 532.6 549 532.8 549.5 532.8C550.1 532.8 551.1 532.9 551.8 532.5C552.5 532.1 553.3 531.3 553.6 530.5C554 529.7 554 528.6 553.9 527.7C553.7 526.8 553.3 525.4 552.6 525Z" fill="#fff" stroke="#8a8a8a" stroke-width="0.45"/>
<path d="M551.9 523.7C551.9 522.9 550.9 521.9 550.2 521.3C549.5 520.7 548.5 520.2 547.6 520.1C546.7 520 545.7 520.3 545 520.7C544.3 521.1 543.9 522 543.6 522.5C543.3 523 543.4 523.3 543.4 523.7C543.4 524.1 543.3 524.4 543.6 524.9C543.9 525.4 544.3 526.3 545 526.7C545.7 527.1 546.7 527.4 547.6 527.3C548.5 527.2 549.5 526.7 550.2 526.1C550.9 525.5 551.9 524.5 551.9 523.7Z" fill="#fff" stroke="#8a8a8a" stroke-width="0.45"/>
<path d="M552.6 522.4C553.3 522 553.7 520.6 553.9 519.7C554 518.8 554 517.7 553.6 516.9C553.3 516.1 552.5 515.3 551.8 514.9C551.1 514.5 550.1 514.6 549.5 514.6C549 514.6 548.7 514.8 548.4 515C548.1 515.2 547.8 515.3 547.5 515.8C547.2 516.3 546.6 517.1 546.6 517.9C546.6 518.7 546.9 519.8 547.4 520.5C547.9 521.2 548.8 521.8 549.7 522.1C550.6 522.4 552 522.8 552.6 522.4Z" fill="#fff" stroke="#8a8a8a" stroke-width="0.45"/>
<path d="M554.1 522.4C554.8 522.8 556.2 522.4 557.1 522.1C558 521.8 558.9 521.2 559.4 520.5C559.9 519.8 560.2 518.7 560.2 517.9C560.2 517.1 559.6 516.3 559.3 515.8C559 515.3 558.7 515.2 558.4 515C558.1 514.8 557.8 514.6 557.3 514.6C556.7 514.6 555.7 514.5 555 514.9C554.3 515.3 553.5 516.1 553.2 516.9C552.8 517.7 552.8 518.8 552.9 519.7C553.1 520.6 553.5 522 554.1 522.4Z" fill="#fff" stroke="#8a8a8a" stroke-width="0.45"/>
<circle cx="553.4" cy="523.7" r="3.7" fill="#f6da52" stroke="#8a8a8a" stroke-width="0.45"/>
<circle cx="553.4" cy="523.7" r="0.9" fill="#d98a3a"/>
<path d="M573.8 527.4C573.6 528.1 574.1 529.2 574.5 529.8C574.9 530.5 575.5 531.2 576.2 531.6C576.8 531.9 577.8 532 578.4 531.8C579.1 531.7 579.7 531.1 580.1 530.8C580.4 530.5 580.5 530.2 580.6 529.9C580.7 529.6 580.8 529.4 580.8 528.9C580.7 528.4 580.6 527.6 580.2 527C579.8 526.5 579 526 578.3 525.8C577.6 525.6 576.6 525.7 575.9 526C575.1 526.3 574 526.8 573.8 527.4Z" fill="#fff" stroke="#8a8a8a" stroke-width="0.45"/>
<path d="M572.8 528.3C572.2 528.4 571.5 529.3 571.1 530C570.7 530.7 570.4 531.6 570.4 532.4C570.5 533.1 570.9 534 571.3 534.5C571.8 535 572.6 535.2 573 535.4C573.5 535.5 573.7 535.4 574.1 535.4C574.4 535.3 574.7 535.3 575.1 535C575.4 534.7 576.1 534.2 576.4 533.6C576.6 533 576.7 532 576.5 531.3C576.3 530.6 575.7 529.8 575.1 529.3C574.5 528.8 573.5 528.1 572.8 528.3Z" fill="#fff" stroke="#8a8a8a" stroke-width="0.45"/>
<path d="M571.6 527.8C571.2 527.3 570 527.2 569.2 527.2C568.4 527.2 567.5 527.4 566.9 527.8C566.2 528.2 565.7 529 565.5 529.6C565.3 530.3 565.5 531.1 565.6 531.6C565.7 532 565.9 532.2 566.1 532.5C566.3 532.7 566.4 533 566.9 533.1C567.3 533.3 568.1 533.6 568.8 533.5C569.4 533.4 570.3 533.1 570.8 532.5C571.3 532 571.7 531.1 571.8 530.3C572 529.5 572.1 528.3 571.6 527.8Z" fill="#fff" stroke="#8a8a8a" stroke-width="0.45"/>
<path d="M571.4 526.6C571.6 525.9 571.1 524.8 570.7 524.2C570.3 523.5 569.7 522.8 569 522.4C568.4 522.1 567.4 522 566.8 522.2C566.1 522.3 565.5 522.9 565.1 523.2C564.8 523.5 564.7 523.8 564.6 524.1C564.5 524.4 564.4 524.6 564.4 525.1C564.5 525.6 564.6 526.4 565 527C565.4 527.5 566.2 528 566.9 528.2C567.6 528.4 568.6 528.3 569.3 528C570.1 527.7 571.2 527.2 571.4 526.6Z" fill="#fff" stroke="#8a8a8a" stroke-width="0.45"/>
<path d="M572.4 525.7C573 525.6 573.7 524.7 574.1 524C574.5 523.3 574.8 522.4 574.8 521.6C574.7 520.9 574.3 520 573.9 519.5C573.4 519 572.6 518.8 572.2 518.6C571.7 518.5 571.5 518.6 571.1 518.6C570.8 518.7 570.5 518.7 570.1 519C569.8 519.3 569.1 519.8 568.8 520.4C568.6 521 568.5 522 568.7 522.7C568.9 523.4 569.5 524.2 570.1 524.7C570.7 525.2 571.7 525.9 572.4 525.7Z" fill="#fff" stroke="#8a8a8a" stroke-width="0.45"/>
<path d="M573.6 526.2C574 526.7 575.2 526.8 576 526.8C576.8 526.8 577.7 526.6 578.3 526.2C579 525.8 579.5 525 579.7 524.4C579.9 523.7 579.7 522.9 579.6 522.4C579.5 522 579.3 521.8 579.1 521.5C578.9 521.3 578.8 521 578.3 520.9C577.9 520.7 577.1 520.4 576.4 520.5C575.8 520.6 574.9 520.9 574.4 521.5C573.9 522 573.5 522.9 573.4 523.7C573.2 524.5 573.1 525.7 573.6 526.2Z" fill="#fff" stroke="#8a8a8a" stroke-width="0.45"/>
<circle cx="572.6" cy="527" r="3.1" fill="#f6da52" stroke="#8a8a8a" stroke-width="0.45"/>
<circle cx="572.6" cy="527" r="0.8" fill="#d98a3a"/>
<path d="M589.8 532.2C589.7 532.8 590.3 533.8 590.8 534.3C591.3 534.9 592 535.4 592.7 535.6C593.3 535.8 594.2 535.8 594.8 535.5C595.4 535.3 595.9 534.7 596.2 534.3C596.4 533.9 596.4 533.7 596.5 533.4C596.5 533.1 596.6 532.8 596.5 532.4C596.3 532 596.1 531.2 595.6 530.8C595.2 530.4 594.4 530 593.7 530C593 529.9 592.1 530.2 591.5 530.6C590.8 530.9 589.9 531.6 589.8 532.2Z" fill="#fff" stroke="#8a8a8a" stroke-width="0.45"/>
<path d="M589 533.1C588.4 533.3 587.9 534.4 587.7 535.1C587.4 535.8 587.3 536.7 587.5 537.3C587.6 538 588.2 538.7 588.6 539.1C589.1 539.5 589.9 539.6 590.4 539.7C590.8 539.8 591 539.6 591.3 539.5C591.6 539.4 591.9 539.4 592.2 539C592.5 538.7 593 538.1 593.2 537.5C593.3 536.9 593.2 536 592.9 535.4C592.6 534.8 591.9 534.1 591.3 533.7C590.6 533.4 589.6 532.9 589 533.1Z" fill="#fff" stroke="#8a8a8a" stroke-width="0.45"/>
<path d="M587.8 532.9C587.3 532.5 586.2 532.6 585.5 532.7C584.7 532.9 583.9 533.2 583.4 533.7C582.9 534.2 582.5 535 582.4 535.6C582.3 536.2 582.7 537 582.8 537.4C583 537.8 583.2 537.9 583.5 538.1C583.7 538.3 583.9 538.5 584.3 538.6C584.7 538.7 585.5 538.9 586.1 538.7C586.7 538.5 587.4 538 587.8 537.4C588.2 536.8 588.4 535.9 588.4 535.2C588.4 534.4 588.3 533.3 587.8 532.9Z" fill="#fff" stroke="#8a8a8a" stroke-width="0.45"/>
<path d="M587.4 531.8C587.5 531.2 586.9 530.2 586.4 529.7C585.9 529.1 585.2 528.6 584.5 528.4C583.9 528.2 583 528.2 582.4 528.5C581.8 528.7 581.3 529.3 581 529.7C580.8 530.1 580.8 530.3 580.7 530.6C580.7 530.9 580.6 531.2 580.7 531.6C580.9 532 581.1 532.8 581.6 533.2C582 533.6 582.8 534 583.5 534C584.2 534.1 585.1 533.8 585.7 533.4C586.4 533.1 587.3 532.4 587.4 531.8Z" fill="#fff" stroke="#8a8a8a" stroke-width="0.45"/>
<path d="M588.2 530.9C588.8 530.7 589.3 529.6 589.5 528.9C589.8 528.2 589.9 527.3 589.7 526.7C589.6 526 589 525.3 588.6 524.9C588.1 524.5 587.3 524.4 586.8 524.3C586.4 524.2 586.2 524.4 585.9 524.5C585.6 524.6 585.3 524.6 585 525C584.7 525.3 584.2 525.9 584 526.5C583.9 527.1 584 528 584.3 528.6C584.6 529.2 585.3 529.9 585.9 530.3C586.6 530.6 587.6 531.1 588.2 530.9Z" fill="#fff" stroke="#8a8a8a" stroke-width="0.45"/>
<path d="M589.4 531.1C589.9 531.5 591 531.4 591.7 531.3C592.5 531.1 593.3 530.8 593.8 530.3C594.3 529.8 594.7 529 594.8 528.4C594.9 527.8 594.5 527 594.4 526.6C594.2 526.2 594 526.1 593.7 525.9C593.5 525.7 593.3 525.5 592.9 525.4C592.5 525.3 591.7 525.1 591.1 525.3C590.5 525.5 589.8 526 589.4 526.6C589 527.2 588.8 528.1 588.8 528.8C588.8 529.6 588.9 530.7 589.4 531.1Z" fill="#fff" stroke="#8a8a8a" stroke-width="0.45"/>
<circle cx="588.6" cy="532" r="3" fill="#f6da52" stroke="#8a8a8a" stroke-width="0.45"/>
<circle cx="588.6" cy="532" r="0.7" fill="#d98a3a"/>
<path d="M562.4 545.8C562 546.6 562.5 547.9 562.9 548.7C563.3 549.6 564 550.5 564.7 550.9C565.5 551.4 566.6 551.5 567.3 551.5C568.1 551.4 568.9 550.8 569.4 550.4C569.8 550.1 569.9 549.8 570.1 549.4C570.2 549.1 570.4 548.8 570.4 548.3C570.4 547.7 570.3 546.7 569.9 546C569.4 545.4 568.6 544.7 567.8 544.4C567 544.1 565.8 544.1 564.9 544.4C564 544.6 562.7 545.1 562.4 545.8Z" fill="#fff" stroke="#8a8a8a" stroke-width="0.45"/>
<path d="M561.1 546.7C560.3 546.8 559.4 547.8 558.9 548.6C558.4 549.4 557.9 550.4 557.9 551.3C557.9 552.2 558.3 553.2 558.7 553.8C559.2 554.5 560.1 554.8 560.7 555.1C561.2 555.3 561.5 555.2 561.9 555.2C562.3 555.1 562.6 555.2 563 554.9C563.5 554.5 564.4 554 564.7 553.3C565.1 552.6 565.3 551.5 565.1 550.7C564.9 549.8 564.3 548.8 563.7 548.2C563 547.5 561.9 546.6 561.1 546.7Z" fill="#fff" stroke="#8a8a8a" stroke-width="0.45"/>
<path d="M559.8 546.1C559.3 545.4 557.9 545.1 557 545.1C556.1 545 555 545.2 554.2 545.6C553.4 546 552.7 546.9 552.4 547.6C552.1 548.3 552.2 549.3 552.3 549.8C552.4 550.4 552.6 550.6 552.8 550.9C553 551.3 553.2 551.5 553.7 551.8C554.2 552.1 555.1 552.5 555.8 552.5C556.6 552.4 557.7 552.1 558.3 551.5C559 550.9 559.5 549.9 559.8 549C560 548.1 560.2 546.7 559.8 546.1Z" fill="#fff" stroke="#8a8a8a" stroke-width="0.45"/>
<path d="M559.6 544.6C560 543.8 559.5 542.5 559.1 541.7C558.7 540.8 558 539.9 557.3 539.5C556.5 539 555.4 538.9 554.7 538.9C553.9 539 553.1 539.6 552.6 540C552.2 540.3 552.1 540.6 551.9 541C551.8 541.3 551.6 541.6 551.6 542.1C551.6 542.7 551.7 543.7 552.1 544.4C552.6 545 553.4 545.7 554.2 546C555 546.3 556.2 546.3 557.1 546C558 545.8 559.3 545.3 559.6 544.6Z" fill="#fff" stroke="#8a8a8a" stroke-width="0.45"/>
<path d="M560.9 543.7C561.7 543.6 562.6 542.6 563.1 541.8C563.6 541 564.1 540 564.1 539.1C564.1 538.2 563.7 537.2 563.3 536.6C562.8 535.9 561.9 535.6 561.3 535.3C560.8 535.1 560.5 535.2 560.1 535.2C559.7 535.3 559.4 535.2 559 535.5C558.5 535.9 557.6 536.4 557.3 537.1C556.9 537.8 556.7 538.9 556.9 539.7C557.1 540.6 557.7 541.6 558.3 542.2C559 542.9 560.1 543.8 560.9 543.7Z" fill="#fff" stroke="#8a8a8a" stroke-width="0.45"/>
<path d="M562.2 544.3C562.7 545 564.1 545.3 565 545.3C565.9 545.4 567 545.2 567.8 544.8C568.6 544.4 569.3 543.5 569.6 542.8C569.9 542.1 569.8 541.1 569.7 540.6C569.6 540 569.4 539.8 569.2 539.5C569 539.1 568.8 538.9 568.3 538.6C567.8 538.3 566.9 537.9 566.2 537.9C565.4 538 564.3 538.3 563.7 538.9C563 539.5 562.5 540.5 562.2 541.4C562 542.3 561.8 543.7 562.2 544.3Z" fill="#fff" stroke="#8a8a8a" stroke-width="0.45"/>
<circle cx="561" cy="545.2" r="3.7" fill="#f6da52" stroke="#8a8a8a" stroke-width="0.45"/>
<circle cx="561" cy="545.2" r="0.9" fill="#d98a3a"/>
<path d="M564 509.5C564.6 508.9 567.5 508.4 568 508.8C568.5 509.2 567.6 511.6 567 512.2C566.4 512.8 564.7 513.1 564.2 512.6C563.7 512.1 563.4 510.1 564 509.5Z" fill="#6cb45a"/>
<path d="M466 504.8C467.3 502.9 471 503.4 473.4 503.4C475.8 503.4 478.4 503.8 480.1 504.8C481.8 505.8 483.1 507.5 483.5 509.4C483.9 511.3 483.6 514.3 482.8 516.2C482 518.1 480.4 519.6 478.8 520.9C477.2 522.2 475.2 524.1 473.4 524.2C471.6 524.3 469.4 523.1 468.1 521.5C466.8 519.9 465.8 517.6 465.4 514.8C465 512 464.7 506.7 466 504.8Z" fill="url(#gMY)" stroke="#8f8f86" stroke-width="0.45"/>
<path d="M487.5 505.4C489 503.8 491.7 501.7 493.6 501.4C495.5 501.1 497.3 502.7 498.9 503.4C500.5 504.1 502.1 504.2 503 505.4C503.9 506.6 504.5 509.1 504.3 510.8C504.1 512.5 502.7 514.3 501.6 515.5C500.5 516.7 499.2 517.8 497.6 518.2C496 518.7 494 518.7 492.2 518.2C490.4 517.8 488 516.7 486.8 515.5C485.6 514.3 484.7 512.5 484.8 510.8C484.9 509.1 486 507 487.5 505.4Z" fill="url(#gMY)" stroke="#8f8f86" stroke-width="0.45"/>
<path d="M503 514.1C503.8 512.9 506.7 512.2 507.7 512.8C508.7 513.4 509.1 516.1 509 517.5C508.9 518.9 508 520.4 507 520.9C506 521.4 503.7 521.3 503 520.2C502.3 519.1 502.2 515.3 503 514.1Z" fill="url(#gMY)" stroke="#8f8f86" stroke-width="0.45"/>
<path d="M468.1 525.6C469.7 524.9 473 523.8 474.8 524.2C476.6 524.6 477.8 526.2 478.8 528.2C479.8 530.2 480.6 533.8 480.8 536.3C481 538.8 480.9 541.4 480.1 543C479.3 544.6 477.7 545.4 476.1 545.7C474.5 546 472.3 545.9 470.7 545C469.1 544.1 467.7 542 466.7 540.3C465.7 538.6 464.9 537 464.7 535C464.5 533 464.8 529.8 465.4 528.2C466 526.6 466.5 526.3 468.1 525.6Z" fill="url(#gMY)" stroke="#8f8f86" stroke-width="0.45"/>
<path d="M480.1 541.7C481 540.4 483.9 540.1 485.5 540.3C487.1 540.5 488.6 541.4 489.5 543C490.4 544.6 491 547.6 490.9 549.7C490.8 551.8 489.9 554.6 488.9 555.8C487.9 557 486 557.5 484.8 557.1C483.6 556.8 482.3 555.2 481.5 553.7C480.7 552.2 480.3 550.4 480.1 548.4C479.9 546.4 479.2 543.1 480.1 541.7Z" fill="url(#gMY)" stroke="#8f8f86" stroke-width="0.45"/>
<path d="M488.9 539C490 537.9 493.3 537.4 494.9 537.6C496.5 537.8 497.9 538.5 498.3 540.3C498.8 542.1 498.1 546 497.6 548.4C497.2 550.8 496.6 553.3 495.6 554.4C494.6 555.5 492.6 555.6 491.5 555.1C490.4 554.6 489.4 552.9 488.9 551.1C488.3 549.3 488.2 546.3 488.2 544.3C488.2 542.3 487.8 540.1 488.9 539Z" fill="url(#gMY)" stroke="#8f8f86" stroke-width="0.45"/>
<path d="M477 522.7C477.5 522.2 478.8 522.2 479.4 521.7C480.1 521.2 480.2 520.3 480.8 519.9C481.4 519.5 482.3 519.6 483 519.1C483.6 518.7 484.1 517.7 484.7 517.3C485.4 517 486.2 517.3 486.9 516.9C487.6 516.5 488.3 514.9 489 514.8C489.7 514.8 490.3 516.4 491.2 516.8C492 517.1 493.4 516.4 493.9 516.9C494.5 517.4 493.9 518.9 494.2 519.6C494.5 520.2 495.4 520.2 495.7 520.8C496 521.3 495.7 522.4 495.9 523.1C496.1 523.7 496.8 524 496.8 524.6C496.9 525.2 496.1 526 496.2 526.7C496.3 527.4 497.3 528 497.3 528.6C497.4 529.2 496.5 529.7 496.5 530.3C496.5 531 497.7 532 497.5 532.6C497.4 533.2 495.9 533.3 495.5 533.8C495.1 534.4 495.2 535.5 494.9 536.1C494.6 536.7 493.9 537 493.5 537.4C493 537.8 492.7 538.5 492.1 538.7C491.5 538.9 490.7 538.4 490.1 538.6C489.5 538.8 489.1 539.8 488.5 540C488 540.2 487.4 540 486.8 540C486.2 540 485.5 540.3 484.9 540.1C484.4 539.8 484 538.8 483.4 538.6C482.8 538.4 481.6 539.2 481.2 538.9C480.7 538.5 481 537.1 480.7 536.5C480.4 536 479.5 536 479.2 535.6C478.8 535.1 479.1 534.1 478.7 533.6C478.4 533.1 477.1 533 477 532.5C476.8 531.9 477.8 531 477.8 530.3C477.8 529.7 476.9 529.2 476.9 528.6C476.9 528 477.8 527.4 477.8 526.7C477.8 526 476.9 525.2 476.7 524.6C476.6 523.9 476.6 523.2 477 522.7Z" fill="url(#gPeach)" stroke="#8f8f86" stroke-width="0.45"/>
<path d="M481 526C482 525.5 485.2 523.3 487 523C488.8 522.7 491.2 523.8 492 524" fill="none" stroke="#fff" stroke-width="1.6" stroke-linecap="round" stroke-linejoin="round"/>
<path d="M482 534C483 533.5 486 531.8 488 531C490 530.2 493 529.3 494 529" fill="none" stroke="#fff" stroke-width="1.3" stroke-linecap="round" stroke-linejoin="round"/>
<path d="M488.2 522.2C489.1 521.1 492.4 520.4 494.9 520.2C497.4 520 500.3 520.4 503 520.9C505.7 521.4 508.8 522.4 511 523.5C513.2 524.6 515.3 526.1 516.4 527.6C517.5 529.1 518.2 531.1 517.7 532.3C517.2 533.5 515.7 534.5 513.7 535C511.7 535.5 508.1 535.4 505.6 535C503.1 534.6 500.9 533.8 498.9 532.9C496.9 532 495.2 530.6 493.6 529.6C492 528.6 490.4 528.1 489.5 526.9C488.6 525.7 487.3 523.3 488.2 522.2Z" fill="url(#gMY)" stroke="#8f8f86" stroke-width="0.45"/>
<path d="M512.3 512.1C513.1 511.1 514.8 510.9 516.4 511.5C518 512.1 519.9 514 521.7 515.5C523.5 517 525.8 518.5 527.1 520.2C528.5 521.9 529.5 523.8 529.8 525.6C530.1 527.4 529.8 529.6 529.1 530.9C528.4 532.2 527 533.4 525.8 533.6C524.6 533.8 523.3 533.2 521.7 532.3C520.1 531.4 517.9 529.8 516.4 528.2C514.9 526.6 513.8 524.7 513 522.9C512.2 521.1 511.8 519.3 511.7 517.5C511.6 515.7 511.5 513.1 512.3 512.1Z" fill="url(#gMY)" stroke="#8f8f86" stroke-width="0.45"/>
<path d="M526.7 537.6C527.4 535.5 531.2 532.6 533.4 530.9C535.6 529.2 537.9 528 540.1 527.6C542.3 527.2 544.8 527.4 546.8 528.2C548.8 529 551.1 530.7 552.2 532.3C553.3 533.9 553.8 535.8 553.6 537.6C553.4 539.4 552.5 541.6 550.9 543C549.3 544.4 546.7 545.2 544.2 545.7C541.7 546.2 538.6 546 536.1 545.7C533.6 545.4 531 545.1 529.4 543.7C527.8 542.4 526 539.7 526.7 537.6Z" fill="url(#gMY)" stroke="#8f8f86" stroke-width="0.45"/>
<path d="M524 544.3C525.1 542.7 528.7 545 530.7 545.7C532.7 546.4 534.5 547.1 536.1 548.4C537.7 549.7 539.3 551.7 540.1 553.7C540.9 555.7 541.2 558.9 540.8 560.5C540.3 562.1 539.1 562.6 537.4 563.1C535.7 563.6 532.6 564.1 530.7 563.8C528.8 563.5 527.1 562.5 526 561.1C524.9 559.7 524.3 557.9 524 555.1C523.7 552.3 522.9 545.9 524 544.3Z" fill="url(#gMY)" stroke="#8f8f86" stroke-width="0.45"/>
<path d="M508.3 560.5C509.8 559.6 514.2 559.8 516.4 559.1C518.6 558.4 520.6 556 521.7 556.4C522.8 556.8 523.5 560 523.1 561.8C522.7 563.6 520.7 565.8 519.1 567.2C517.5 568.7 515.3 570.3 513.7 570.5C512.1 570.7 510.7 569.5 509.7 568.5C508.7 567.5 507.9 565.8 507.7 564.5C507.5 563.2 506.9 561.4 508.3 560.5Z" fill="url(#gMY)" stroke="#8f8f86" stroke-width="0.45"/>
<path d="M497 538.7C497.6 538.3 499.2 538.7 499.8 538.4C500.4 538.1 500.2 537.1 500.8 536.8C501.4 536.5 502.6 536.9 503.3 536.6C503.9 536.3 504.1 535.3 504.8 535.2C505.5 535 506.8 535.9 507.6 535.8C508.4 535.6 508.9 534.4 509.6 534.3C510.3 534.2 511.1 535.1 511.9 535C512.7 534.8 513.6 533.5 514.3 533.3C515.1 533.1 515.6 533.7 516.3 533.8C517 533.9 517.8 533.5 518.4 533.7C518.9 533.9 519 534.8 519.6 534.9C520.3 535.1 521.7 534.1 522.2 534.5C522.6 534.8 522.1 536.3 522.4 537C522.7 537.6 523.8 537.6 524.1 538.1C524.4 538.7 524 539.7 524.2 540.4C524.3 541.1 525.1 541.7 525.1 542.4C525.2 543.1 524.5 544 524.5 544.8C524.6 545.6 525.6 546.3 525.6 547C525.6 547.7 524.5 548.4 524.4 549.2C524.3 550 525 551 524.8 551.7C524.6 552.4 523.8 552.8 523.5 553.5C523.1 554.2 523.1 555.2 522.6 555.8C522.1 556.4 520.9 556.3 520.4 557C519.9 557.7 520.1 559.4 519.5 559.8C519 560.2 517.7 559.3 517 559.4C516.3 559.5 515.8 560.4 515.2 560.6C514.5 560.7 513.7 560.2 513 560.4C512.3 560.6 511.6 561.8 511 561.8C510.3 561.8 509.7 560.6 509.1 560.4C508.4 560.3 507.5 561.1 506.8 561C506.2 560.9 505.8 560 505.1 559.9C504.4 559.8 503.2 560.7 502.6 560.4C502 560.1 502.1 558.5 501.5 557.9C500.9 557.3 499.5 557.5 499 557C498.4 556.5 498.4 555.5 498 554.9C497.6 554.2 496.7 553.8 496.5 553.1C496.3 552.3 496.9 551.3 496.6 550.5C496.3 549.8 494.8 549.2 494.8 548.5C494.7 547.8 496.1 547.2 496.3 546.5C496.5 545.9 495.9 545.2 496 544.6C496.1 544 496.9 543.5 497 542.8C497.1 542.2 496.6 541.3 496.6 540.6C496.6 539.9 496.5 539.1 497 538.7Z" fill="url(#gPink)" stroke="#8f8f86" stroke-width="0.45"/>
<path d="M504 542C504.5 540.9 507.3 540.1 509 540C510.7 539.9 512.9 540.7 514 541.5C515.1 542.3 515.8 544 515.5 545C515.2 546 513.6 547.2 512 547.5C510.4 547.8 507.3 547.4 506 546.5C504.7 545.6 503.5 543.1 504 542Z" fill="#f0c0a0"/>
<path d="M507.5 543.5C507.6 542.9 509.8 541.6 510.5 541.5C511.2 541.4 512.1 542.4 512 543C511.9 543.6 510.8 544.9 510 545C509.2 545.1 507.4 544.1 507.5 543.5Z" fill="#e0902e"/>
<path d="M511 545.5C511.2 544.9 512.9 544.3 513.5 544.5C514.1 544.7 514.7 545.9 514.5 546.5C514.3 547.1 513.1 548.2 512.5 548C511.9 547.8 510.8 546.1 511 545.5Z" fill="#e0902e"/>
<path d="M500 524C501.2 524.7 504.8 526.8 507 528C509.2 529.2 512 530.5 513 531" fill="none" stroke="#a0a098" stroke-width="0.45" stroke-linecap="round" stroke-linejoin="round"/>
<path d="M534 533C535.3 533.5 539.5 535.2 542 536C544.5 536.8 547.8 537.7 549 538" fill="none" stroke="#a0a098" stroke-width="0.45" stroke-linecap="round" stroke-linejoin="round"/>
<path d="M223.3 41.7C224.2 42.1 224.5 44.6 225.2 45.4C225.9 46.1 226.8 45.5 227.4 46.4C228 47.4 228.6 49.8 228.8 51.1C229 52.4 228.5 53.1 228.6 54.2C228.7 55.2 229 56.4 229.5 57.2C230.1 57.9 231.6 58 232 58.6C232.4 59.3 231.6 60.5 232.1 61.3C232.5 62.1 234.7 62.3 234.7 63.3C234.7 64.2 232.5 65.6 232.1 67.1C231.7 68.6 233 71.4 232.5 72.3C232 73.3 229.8 72.2 229 72.8C228.2 73.4 227.7 75.3 227.6 76.1C227.5 76.8 228 76.5 228.4 77.4C228.9 78.4 230.7 80.6 230.5 81.7C230.3 82.8 228.1 83.7 227.1 83.8C226.1 84 225.3 82.8 224.3 82.7C223.3 82.6 222 83.3 221.3 83C220.7 82.7 220.9 81.8 220.3 80.7C219.7 79.6 218.6 77 217.6 76.3C216.7 75.6 215.2 76.7 214.4 76.3C213.6 75.9 213.3 74.6 212.8 73.7C212.3 72.9 211.5 72.3 211.4 71.2C211.4 70.1 212.8 68.1 212.7 67C212.6 66 211 65.6 210.8 64.8C210.6 64 211.5 63.3 211.4 62.3C211.3 61.4 210.2 60.1 210.3 59.2C210.4 58.4 211.8 58.2 212 57.3C212.3 56.4 211.5 54.6 211.8 53.8C212.2 53.1 213.4 53.5 214 52.7C214.6 51.8 215.2 49.8 215.6 48.7C215.9 47.7 215.5 47.4 216.2 46.5C216.9 45.5 218.6 43.8 219.8 43C221 42.2 222.4 41.3 223.3 41.7Z" fill="url(#gOr)"/>
<path d="M256.3 44.3C258.1 44.6 260.5 47.8 261.7 49.7C262.9 51.6 263.6 53.4 263.3 55.5C263.1 57.6 261.5 60.6 260.2 62.3C258.9 64 257 65.4 255.4 65.7C253.8 66 251.6 65.9 250.5 64.2C249.4 62.5 248.5 58.2 248.6 55.5C248.7 52.8 249.7 49.6 251 47.7C252.3 45.8 254.5 44 256.3 44.3Z" fill="url(#gYl)"/>
<path d="M250.5 60.4C250.8 60.9 251.7 62.4 252.2 63.5C252.7 64.6 253.2 66.6 253.4 67.2" fill="none" stroke="#d81f3a" stroke-width="1.3" stroke-linecap="round" stroke-linejoin="round"/>
<path d="M250.9 70.5C252.1 70.6 253.8 72.5 254.5 73.4C255.2 74.2 255.2 74.6 255.3 75.6C255.4 76.5 255.1 78.2 255.3 79.1C255.5 80.1 256.2 80.6 256.4 81.6C256.6 82.5 256.2 83.7 256.4 84.8C256.6 85.8 257.4 86.8 257.7 87.7C258 88.7 258.4 89.4 258 90.5C257.7 91.5 256.4 93.1 255.6 94C254.8 94.8 254 94.7 253.4 95.4C252.7 96.2 252.4 97.9 251.7 98.4C250.9 98.9 249.6 98.6 248.7 98.4C247.8 98.2 247.1 97.8 246.4 97.2C245.7 96.6 245 95.6 244.5 94.8C244 94 243.6 93.3 243.4 92.4C243.2 91.4 243.4 90 243.2 89C242.9 88 242 87.2 242 86.2C241.9 85.3 242.7 84.3 242.8 83.3C243 82.3 242.7 81.1 242.9 80.2C243 79.3 243.4 78.7 243.8 77.7C244.2 76.8 244.7 75.4 245.2 74.5C245.8 73.6 246.4 73.2 247.3 72.6C248.3 71.9 249.7 70.3 250.9 70.5Z" fill="url(#gYl)"/>
<path d="M275.4 90.9C275.9 90.6 277.6 91.7 278.5 91.8C279.4 91.8 280 91 280.9 91.1C281.7 91.2 282.6 92.2 283.7 92.2C284.7 92.3 286.1 91.4 287.2 91.4C288.2 91.4 289.3 91.7 290 92.3C290.7 92.8 291 93.8 291.3 94.7C291.5 95.7 291.3 97 291.4 98C291.4 99 291.8 99.9 291.7 100.8C291.6 101.7 291 102.6 290.7 103.6C290.4 104.6 290.3 105.9 289.8 106.9C289.4 107.8 288.6 108.6 288 109.3C287.4 110 286.8 110.8 286 111.1C285.3 111.5 284.5 111.4 283.7 111.2C282.9 111.1 282.1 110.9 281.4 110.3C280.7 109.7 280.2 108.5 279.4 107.9C278.7 107.2 277.5 107.1 277 106.3C276.5 105.6 276.6 104.4 276.2 103.5C275.7 102.6 274.6 101.7 274.3 100.8C274 99.9 274.6 98.9 274.5 98C274.5 97.1 273.8 96 274 95.3C274.1 94.6 275.1 94.4 275.4 93.7C275.6 92.9 274.9 91.2 275.4 90.9Z" fill="url(#gYl)"/>
<path d="M272 102.2C272.1 101.1 272.1 97.5 272.8 95.7C273.5 93.9 275.1 92.2 276.4 91.3C277.7 90.4 280.1 90.7 280.8 90.6" fill="none" stroke="#d81f3a" stroke-width="1.3" stroke-linecap="round" stroke-linejoin="round"/>
<path d="M247.9 101.1C248.4 100.8 249.7 102.2 250.6 102.5C251.4 102.7 252.4 102 253.1 102.7C253.9 103.5 254.9 105.8 255.2 106.9C255.4 108 254.9 108.3 254.7 109.3C254.4 110.2 253.7 111.5 253.6 112.6C253.6 113.6 254.2 114.7 254.3 115.6C254.3 116.5 253.7 117.1 253.7 118.1C253.8 119.1 254.4 120.6 254.7 121.5C254.9 122.5 255.4 122.9 255.2 123.9C255.1 124.8 254.6 127.1 253.8 127.3C253.1 127.4 251.6 125.4 250.9 124.6C250.3 123.8 250.3 123.5 250.1 122.6C249.8 121.7 249.8 120.2 249.5 119.3C249.2 118.3 248.5 118 248.3 117.1C248.1 116.2 248.5 115 248.4 113.9C248.3 112.9 247.7 111.8 247.5 110.8C247.3 109.9 247.4 109.3 247.4 108.2C247.4 107.2 247.4 105.6 247.5 104.4C247.6 103.3 247.4 101.5 247.9 101.1Z" fill="url(#gYl)"/>
<path d="M201.8 92.6C202.2 91.4 207.7 91.3 209.9 92C212.2 92.7 213.4 95.2 215.3 96.9C217.2 98.6 219.4 100.6 221.3 102.3C223.2 104 226.6 106.3 226.7 107.2C226.8 108.1 223.9 108.2 221.8 107.8C219.7 107.4 216.6 106.5 214.3 105C212 103.5 209.9 101.2 207.8 99.1C205.7 97 201.5 93.8 201.8 92.6Z" fill="url(#gYlL)"/>
<path d="M218 111.5C219.1 110.8 224.6 108.5 225.6 108.3C226.6 108.1 225.1 109.8 224 110.5C222.9 111.2 220 112.3 219 112.5C218 112.7 216.9 112.2 218 111.5Z" fill="url(#gYlL)"/>
<path d="M231.6 105.6C232.4 105.1 234.1 106.8 235.4 108.3C236.8 109.8 238.3 112 239.7 114.3C241 116.5 243.2 120.4 243.5 121.8C243.8 123.2 242.8 123.6 241.3 122.9C239.9 122.2 236.6 119.5 234.8 117.5C233 115.5 231 113 230.5 111C230 109 230.8 106 231.6 105.6Z" fill="url(#gYl)"/>
<path d="M231 104.5C230.7 104.9 229.8 105.7 229.4 106.7C229.1 107.7 228.4 109 228.9 110.5C229.4 112 231.2 114.4 232.7 115.9C234.2 117.4 236.5 118.5 238.1 119.7C239.7 120.9 241.7 122.4 242.4 122.9" fill="none" stroke="#d81f3a" stroke-width="1.3" stroke-linecap="round" stroke-linejoin="round"/>
<path d="M202.3 113.7C202.9 113.1 204.5 112.8 205.6 113C206.7 113.2 207.4 114.4 208.8 114.8C210.2 115.2 212.5 114.7 214.3 115.3C216.1 115.9 218.1 117.3 219.7 118.6C221.3 119.9 223 121.3 224 122.9C225 124.5 225.5 126.7 225.6 128.3C225.7 129.9 224.8 131.4 224.5 132.7C224.2 134 224.5 135.9 224 135.9C223.5 135.9 222 134 221.3 132.7C220.6 131.4 220.4 129.8 219.7 128.3C219 126.9 218.3 125.2 217 124C215.7 122.8 213.5 121.7 212.1 120.8C210.7 119.9 209.4 118.9 208.3 118.6C207.2 118.3 206.4 119.2 205.6 119.1C204.8 119 203.9 118.5 203.4 118C202.9 117.5 202.5 117.1 202.3 116.4C202.1 115.7 201.8 114.3 202.3 113.7Z" fill="url(#gOr2)"/>
<path d="M230.5 118.6C231 117.5 232.5 118.3 232.7 119.7C232.9 121.1 231.9 124.7 231.5 127C231.1 129.3 230.9 132.6 230.5 133.8C230.1 135 229.1 135.6 228.9 134.3C228.7 133 229.2 128.6 229.5 126C229.8 123.4 230 119.6 230.5 118.6Z" fill="url(#gYl)"/>
<path d="M221.3 138.1C222.5 136.8 225.9 138.3 227.2 139.2C228.5 140.1 229.1 141.9 228.9 143.5C228.7 145.1 227.3 147.6 226.2 148.9C225.1 150.2 223.4 151.9 222.4 151.6C221.4 151.2 220.4 149.1 220.2 146.8C220 144.6 220.1 139.4 221.3 138.1Z" fill="url(#gYl)"/>
<path d="M261.8 129.9C262.8 128.7 266.1 128.4 267.7 128.4C269.3 128.4 270.2 130 271.3 129.9C272.4 129.8 273.2 127.5 274.2 127.7C275.2 128 276.6 129.6 277.1 131.4C277.6 133.2 277.6 136.7 277.1 138.6C276.6 140.5 275.5 142 274.2 143C272.9 144 270.7 144.8 269.1 144.5C267.5 144.2 266 143 264.8 141.5C263.6 140 262.3 137.6 261.8 135.7C261.3 133.8 260.8 131.1 261.8 129.9Z" fill="url(#gYl)"/>
<path d="M250.8 136C250.9 135 251.7 135.4 252 136.5C252.3 137.6 252.5 141.4 252.4 142.4C252.3 143.4 251.5 143.5 251.2 142.4C250.9 141.3 250.7 137 250.8 136Z" fill="url(#gYl)"/>
<path d="M362.4 53.3C362.6 53 364 53.6 364.9 54.2C365.8 54.8 366.5 56.2 367.8 56.7C369.1 57.2 370.7 57.1 372.6 57.2C374.5 57.3 377.3 57.1 379.4 57.2C381.5 57.4 383.8 57.4 385.3 58.1C386.8 58.8 387.6 60.1 388.2 61.5C388.8 62.9 389.4 64.9 389.2 66.4C389 67.9 388.5 69.3 387.2 70.3C385.9 71.3 383.7 71.7 381.4 72.2C379.1 72.7 376 72.7 373.6 73.2C371.2 73.7 368.4 74.4 366.8 75.1C365.2 75.8 364.9 77.6 363.9 77.6C362.9 77.6 361.3 75.8 361 75.1C360.7 74.4 361.2 73.7 362 73.2C362.8 72.7 364.8 73 365.8 72.2C366.8 71.4 367.3 69.6 367.8 68.3C368.3 67 368.7 65.5 368.7 64.4C368.7 63.3 368.3 62.5 367.8 61.5C367.3 60.5 366.5 59.6 365.8 58.6C365.1 57.6 364 56.6 363.4 55.7C362.8 54.8 362.1 53.5 362.4 53.3Z" fill="url(#gTr3)"/>
<path d="M372.6 56.7C373.7 56.7 376.9 56.8 379 56.9C381.1 57 383.7 56.8 385.3 57.6C386.9 58.4 388 60 388.7 61.5C389.4 63 389.9 64.9 389.7 66.4C389.5 68 389.1 69.8 387.7 70.8C386.3 71.8 383.8 72 381.4 72.4C379 72.8 376 72.9 373.6 73.4C371.2 73.9 368.4 74.5 366.8 75.3C365.2 76 364.4 77.5 363.9 77.9" fill="none" stroke="#d81f3a" stroke-width="1.3" stroke-linecap="round" stroke-linejoin="round"/>
<path d="M338.3 96C339 95.8 340.5 96.3 341.3 96.9C342.1 97.5 342.5 98.6 343.1 99.5C343.8 100.3 344.7 101.2 345.3 101.8C345.9 102.4 346.2 102.6 346.8 103.1C347.4 103.6 348 104.1 348.9 104.7C349.7 105.2 351.1 105.8 351.9 106.2C352.6 106.5 352.7 106.5 353.4 106.8C354.1 107.1 355.4 107.8 356.2 107.9C356.9 108.1 357.1 107.8 357.9 107.7C358.6 107.7 360.3 107.6 360.5 107.9C360.8 108.1 359.8 108.7 359.2 109C358.6 109.3 358 109.5 357.1 109.5C356.2 109.6 354.8 109.5 353.9 109.5C353 109.5 352.6 109.7 351.7 109.5C350.8 109.4 349.8 108.8 348.6 108.5C347.5 108.3 346.1 108.5 344.9 108.1C343.8 107.6 342.7 106.5 341.7 106C340.8 105.4 339.8 105.1 339.2 104.7C338.7 104.3 338.7 104 338.3 103.4C337.8 102.9 336.9 102 336.6 101.5C336.3 100.9 336.4 100.5 336.4 99.9C336.5 99.3 336.8 98.5 337.1 97.9C337.4 97.2 337.6 96.2 338.3 96Z" fill="url(#gTr3)"/>
<path d="M332.5 107.7C333.4 107.4 334.1 108.2 334.9 108.2C335.7 108.2 336.4 107.2 337.2 107.6C338 107.9 339 109.2 339.5 110.2C340 111.1 340.5 112.2 340.1 113.1C339.7 114 337.8 114.8 337 115.7C336.2 116.5 336.2 117.9 335.4 118C334.5 118.2 332.8 116.9 331.9 116.5C331 116.1 330.3 116.1 329.8 115.6C329.3 115.2 328.9 114.8 328.9 114C328.8 113.1 328.9 111.3 329.5 110.3C330.1 109.2 331.6 108.1 332.5 107.7Z" fill="url(#gTr3)"/>
<path d="M353.5 112.9C353.8 112.3 355.4 112.5 356.1 112C356.7 111.5 356.7 110.5 357.3 110.1C357.8 109.7 358.8 109.9 359.5 109.5C360.1 109.1 360.5 108.1 361.2 107.8C361.8 107.5 362.6 108 363.4 107.8C364.1 107.6 365.3 106.3 365.8 106.5C366.2 106.8 365.8 108.5 366 109.3C366.1 110.1 366.4 110.4 366.7 111.2C367 112 367.2 113.1 367.6 113.9C368.1 114.8 369.7 115.6 369.5 116.3C369.3 117.1 367.1 117.4 366.3 118.4C365.5 119.4 365.4 121.3 364.8 122.2C364.2 123.2 363.6 123.8 362.9 124.1C362.1 124.5 360.5 124.9 360.2 124.3C359.9 123.6 361.6 121.2 361.2 120.1C360.9 119 358.8 118.3 358.1 117.8C357.4 117.2 357.6 117 357 116.7C356.4 116.3 355.1 116.4 354.5 115.8C354 115.2 353.2 113.5 353.5 112.9Z" fill="url(#gTr3)"/>
<path d="M365.6 106.5C365.7 107.3 365.5 109.8 366.1 111.4C366.7 113 368.7 115.5 369.2 116.3" fill="none" stroke="#d81f3a" stroke-width="1.3" stroke-linecap="round" stroke-linejoin="round"/>
<path d="M336.3 119.9C336.8 119.3 339.1 119.7 340 119.7C341 119.7 341.1 119.7 341.8 120C342.5 120.3 343.6 121.3 344.3 121.6C345.1 121.9 345.7 121.4 346.4 121.7C347.1 121.9 347.9 122.8 348.6 123.2C349.3 123.6 350.1 123.5 350.7 124C351.3 124.4 351.5 125.1 352 125.8C352.5 126.5 353.9 127.4 354 128.3C354 129.1 352.3 130 352.4 130.8C352.4 131.6 353.9 132.4 354.3 133C354.6 133.6 354.2 133.7 354.5 134.3C354.8 134.9 356.1 135.8 356.2 136.6C356.2 137.4 355.3 138.5 354.7 139.1C354.1 139.7 353.2 140.3 352.6 140C352 139.8 351.3 138.2 350.9 137.7C350.4 137.1 350.3 137.3 349.8 136.8C349.2 136.3 348.4 135 347.7 134.5C347.1 134.1 346.4 134.6 345.9 134.2C345.3 133.8 345.1 132.6 344.4 132C343.8 131.5 342.6 131.5 342.1 131.1C341.6 130.6 342 129.8 341.6 129.1C341.1 128.5 339.9 127.9 339.5 127.3C339 126.8 339.3 126.4 338.8 125.7C338.3 125.1 337 124.5 336.5 123.5C336.1 122.5 335.7 120.6 336.3 119.9Z" fill="url(#gTr3)"/>
<path d="M416 115.5C415.9 116.1 417.1 116.6 417.3 117.2C417.5 117.8 417.4 118.6 417 119.1C416.6 119.6 415 119.4 414.9 120C414.8 120.5 416.2 121.6 416.3 122.3C416.4 123 416 123.8 415.4 124C414.8 124.3 413 123.5 412.6 123.9C412.2 124.3 413.3 125.8 413.1 126.5C412.9 127.2 412 128 411.4 128.1C410.7 128.2 409.7 126.9 409.2 127C408.7 127.2 409 128.5 408.5 128.9C408 129.3 407.1 129.8 406.5 129.7C405.8 129.6 405.2 128.1 404.8 128.3C404.3 128.5 404.3 130.3 403.7 130.8C403.1 131.2 401.9 131.1 401.3 130.8C400.7 130.4 400.7 128.5 400.2 128.4C399.7 128.3 399.1 129.9 398.5 130.1C397.8 130.2 396.8 129.7 396.3 129.2C395.9 128.8 396.2 127.4 395.8 127.1C395.4 126.8 394.5 127.6 394 127.4C393.4 127.3 392.7 126.6 392.4 126C392.2 125.4 392.9 124.2 392.5 123.9C392 123.5 390.2 124.3 389.6 124.1C388.9 123.8 388.6 123 388.7 122.3C388.7 121.7 389.9 120.6 389.8 120.1C389.7 119.6 388.4 119.6 388.1 119.1C387.8 118.6 387.7 117.8 387.8 117.2C387.9 116.6 389 116 389 115.5C389 115 387.9 114.6 387.8 114C387.6 113.4 387.7 112.6 388.1 112.1C388.4 111.6 389.7 111.6 389.9 111.1C390.1 110.6 389.1 109.7 389.1 109.1C389.1 108.5 389.5 107.7 390 107.4C390.5 107.1 392 107.6 392.3 107.2C392.7 106.8 391.8 105.5 392 104.9C392.3 104.2 393.1 103.4 393.8 103.3C394.4 103.2 395.3 104.3 395.8 104.1C396.3 104 396.1 102.8 396.5 102.4C397 102 397.9 101.5 398.6 101.6C399.2 101.7 399.8 103 400.2 102.8C400.7 102.7 400.8 101 401.3 100.6C401.9 100.3 403.1 100.2 403.7 100.6C404.2 101 404.3 102.9 404.8 102.9C405.3 103 405.9 101.1 406.5 100.9C407.2 100.7 408.3 101.2 408.8 101.8C409.2 102.3 408.7 104 409.1 104.3C409.5 104.6 410.6 103.3 411.2 103.4C411.8 103.5 412.7 104.3 412.9 104.9C413.1 105.6 412.2 106.9 412.6 107.3C413 107.7 414.7 106.9 415.3 107.2C415.9 107.5 416.2 108.3 416.2 108.9C416.1 109.6 414.8 110.7 415 111.2C415.2 111.7 416.8 111.6 417.2 112.1C417.7 112.5 417.7 113.4 417.5 114C417.3 114.5 416 115 416 115.5Z" fill="url(#gTr3)"/>
<path d="M494.4 31.4C494.8 31 496.1 32.3 496.9 32.6C497.7 32.8 498.4 32.8 499.1 33.1C499.9 33.4 500.8 34 501.6 34.4C502.5 34.9 503.4 35.2 504.3 35.8C505.1 36.4 506.1 37.2 506.9 37.9C507.6 38.6 508.3 39.1 508.8 39.8C509.4 40.5 509.7 41.2 510.3 42.3C510.9 43.5 512.5 45.3 512.5 46.7C512.5 48.1 510.6 49.8 510.3 51C510.1 52.2 510.9 53.1 510.9 54C511 54.9 511 55.6 510.8 56.4C510.6 57.2 510.7 58.5 509.7 58.6C508.8 58.6 506.3 57 505.1 56.7C503.9 56.5 503.3 57.1 502.4 57C501.5 57 500.8 56.5 499.9 56.4C499 56.3 497.6 57.2 497 56.7C496.4 56.1 496.5 54.3 496.1 53.3C495.7 52.2 494.7 51.3 494.5 50.3C494.3 49.3 494.8 48.2 494.8 47.2C494.7 46.2 494.2 45.2 494.1 44.2C494 43.2 494.2 42.4 494.1 41.4C494.1 40.3 493.9 38.9 494 37.9C494 36.8 494.4 36.1 494.5 35C494.6 34 494 31.9 494.4 31.4Z" fill="url(#gYl)"/>
<path d="M496.7 56.5C497.7 56.6 500.6 56.7 502.5 56.9C504.4 57.1 506.6 57.3 507.8 57.8C509.1 58.3 509.2 59 510 60C510.8 61 512.2 63 512.7 63.6" fill="none" stroke="#d81f3a" stroke-width="1.3" stroke-linecap="round" stroke-linejoin="round"/>
<path d="M516.7 32.5C517.1 32 518.6 33.9 519.4 35.1C520.2 36.3 521.1 38.1 521.6 39.6C522.1 41.1 522.6 42.8 522.5 44C522.4 45.2 521.7 46.6 521.2 47.1C520.7 47.6 519.9 47.8 519.4 47.1C518.9 46.4 518.4 44.7 518 43.1C517.6 41.5 517.3 39.6 517.1 37.8C516.9 36 516.3 33 516.7 32.5Z" fill="url(#gYl)"/>
<path d="M519.4 56.5C520.7 55 523.5 55.1 525.6 54.7C527.7 54.3 529.9 54.1 531.8 54.3C533.7 54.4 535.9 54.9 537.2 55.6C538.5 56.3 539.2 57.1 539.4 58.3C539.6 59.5 539.2 61.4 538.5 62.7C537.8 64 536.5 65.3 535.4 66.3C534.3 67.3 533.3 68.2 531.8 68.9C530.3 69.6 528.4 70 526.5 70.7C524.6 71.5 521.8 72.8 520.3 73.4C518.8 74 518.2 74.9 517.6 74.3C517 73.7 516.7 71.6 516.7 69.8C516.7 68 517.2 65.8 517.6 63.6C518 61.4 518.1 58 519.4 56.5Z" fill="url(#gYl)"/>
<path d="M531.8 54.3C532.4 54.4 534.3 54.3 535.4 54.7C536.5 55.1 537.8 55.8 538.5 56.5C539.2 57.2 539.7 57.7 539.8 58.7C539.9 59.7 539.7 61.4 539 62.7C538.3 64 536.6 65.3 535.4 66.3C534.2 67.3 533.3 68.2 531.8 68.9C530.3 69.6 528.4 70 526.5 70.7C524.6 71.5 521.8 72.8 520.3 73.4C518.8 74 518 74.2 517.6 74.3" fill="none" stroke="#d81f3a" stroke-width="1.3" stroke-linecap="round" stroke-linejoin="round"/>
<path d="M499 73C500.8 72.2 505.9 72 506.9 72.4C507.9 72.8 505.9 74.3 505 75.5C504.1 76.7 502.1 78 501.4 79.7C500.7 81.4 500.6 83.7 500.8 85.8C501 87.9 501.9 90.6 502.6 92.4C503.3 94.2 505.2 95.8 505 96.7C504.8 97.6 502.6 98 501.4 97.9C500.2 97.8 498.9 97.3 497.8 96.1C496.7 94.9 495.3 92.7 494.7 90.6C494.1 88.5 493.9 85.5 494.1 83.3C494.3 81.1 495.1 79 495.9 77.3C496.7 75.6 497.2 73.8 499 73Z" fill="url(#gYl)"/>
<path d="M498.4 73C499.1 72.9 501.1 72.6 502.5 72.5C503.9 72.4 506.2 72.4 506.9 72.4" fill="none" stroke="#d81f3a" stroke-width="1.3" stroke-linecap="round" stroke-linejoin="round"/>
<path d="M518.4 89.4C519.5 88.6 521.6 87.8 523.2 88.2C524.8 88.6 526.8 90.6 528.1 91.8C529.4 93 530.4 93.9 531.1 95.5C531.8 97.1 532.4 100.3 532.3 101.5C532.2 102.7 531.6 102.2 530.5 102.8C529.4 103.4 527.3 104.6 525.7 105.2C524.1 105.8 522.2 106.4 520.8 106.4C519.4 106.4 518 106.4 517.2 105.2C516.4 104 516.1 101.1 516 99.1C515.9 97.1 516.2 94.7 516.6 93.1C517 91.5 517.3 90.2 518.4 89.4Z" fill="url(#gYl)"/>
<path d="M517.8 90C518.3 89.7 519.6 88.3 520.8 88.2C522 88.1 523.7 88.6 525 89.4C526.3 90.2 527.7 92 528.7 93.1C529.7 94.2 530.5 94.6 531.1 96.1C531.7 97.6 532.1 101.1 532.3 102.1" fill="none" stroke="#d81f3a" stroke-width="1.3" stroke-linecap="round" stroke-linejoin="round"/>
<path d="M474.1 89.4C475.1 88.8 477.9 88.7 479.6 89.4C481.3 90.1 482.8 92.1 484.4 93.7C486 95.3 488 97.7 489.3 99.1C490.6 100.5 492.1 100.9 492.3 102.1C492.5 103.3 491.4 105.8 490.5 106.4C489.6 107 488.2 106.6 486.8 105.8C485.4 105 483.6 103 482 101.5C480.4 100 478.5 98.1 477.1 96.7C475.7 95.3 474 94.3 473.5 93.1C473 91.9 473.1 90 474.1 89.4Z" fill="url(#gYlL)"/>
<path d="M491.1 101.5C491.3 101.9 492.5 103.2 492.3 104C492.1 104.8 490.3 106 489.9 106.4" fill="none" stroke="#d81f3a" stroke-width="1.3" stroke-linecap="round" stroke-linejoin="round"/>
<path d="M465.8 107.3C466 107.1 466.3 106.5 466.6 106.4C467 106.3 467.4 106.3 467.7 106.5C468 106.7 468.2 107.5 468.4 107.5C468.7 107.6 469 106.7 469.3 106.6C469.6 106.4 470.1 106.4 470.4 106.6C470.6 106.8 470.7 107.7 471 107.8C471.3 107.8 471.7 107 472.1 106.9C472.4 106.8 472.9 106.9 473.1 107.1C473.4 107.4 473.4 108.3 473.6 108.4C473.8 108.5 474.2 107.9 474.6 107.8C474.9 107.8 475.3 107.9 475.6 108.1C475.9 108.4 475.8 109.1 476.1 109.2C476.4 109.3 477.1 108.6 477.4 108.6C477.8 108.7 478.1 109 478.2 109.4C478.3 109.7 477.8 110.6 478 110.7C478.2 110.9 479.1 110.3 479.4 110.4C479.8 110.5 480.1 110.8 480.2 111.1C480.3 111.5 479.7 112.4 479.9 112.6C480.1 112.8 481 112.2 481.4 112.2C481.7 112.3 482.1 112.6 482.2 113C482.3 113.3 481.8 114.1 482 114.3C482.1 114.5 482.7 114.2 483 114.3C483.3 114.5 483.7 114.8 483.8 115.1C483.9 115.4 483.6 116.1 483.8 116.2C484 116.4 484.8 115.9 485.1 116C485.5 116.1 485.8 116.4 485.9 116.8C486 117.1 485.4 117.9 485.6 118.1C485.8 118.3 486.6 118 486.9 118.2C487.2 118.3 487.5 118.7 487.5 119C487.6 119.4 487 120 487.2 120.3C487.3 120.5 488.2 120.1 488.4 120.4C488.6 120.7 488.7 121.6 488.5 121.9C488.3 122.2 487.3 121.9 487.2 122.1C487.1 122.4 487.9 123.1 488 123.5C488 123.8 487.8 124.4 487.5 124.4C487.2 124.4 486.7 123.7 486.3 123.6C485.9 123.6 485.5 124.1 485.1 124.1C484.8 124.1 484.4 123.9 484.2 123.6C484 123.3 484.2 122.5 483.9 122.4C483.7 122.2 483.1 122.8 482.8 122.7C482.5 122.7 482 122.5 481.9 122.2C481.7 121.9 482 121 481.8 120.9C481.5 120.8 480.8 121.4 480.4 121.4C480 121.4 479.7 121.1 479.5 120.7C479.4 120.4 479.9 119.5 479.7 119.3C479.5 119.1 478.7 119.7 478.4 119.6C478 119.6 477.7 119.3 477.6 119C477.4 118.6 477.7 117.9 477.5 117.7C477.3 117.5 476.7 118 476.4 117.9C476.1 117.8 475.7 117.5 475.5 117.2C475.4 117 475.6 116.3 475.4 116.1C475.2 116 474.6 116.3 474.3 116.3C473.9 116.3 473.6 116.1 473.4 115.9C473.2 115.6 473.3 114.9 473 114.8C472.8 114.7 472.3 115.3 471.9 115.4C471.6 115.4 471.2 115.2 470.9 115C470.7 114.8 470.7 114.1 470.5 113.9C470.2 113.8 469.8 114.2 469.5 114.2C469.2 114.2 468.8 114.1 468.5 113.9C468.3 113.7 468.3 113 468 113C467.7 112.9 467.3 113.6 466.9 113.7C466.6 113.8 466.1 113.6 465.9 113.4C465.7 113.2 466.2 112.7 466 112.3C465.8 112 465.1 111.8 464.9 111.5C464.7 111.2 464.7 110.7 464.9 110.4C465.1 110.1 466 109.9 466 109.7C466 109.4 465.3 109.2 465.1 108.8C465 108.5 465.1 108 465.2 107.8C465.3 107.5 465.5 107.6 465.8 107.3Z" fill="url(#gOr2)"/>
<path d="M466.4 116.6C467 116 469 115.8 469.8 116.2C470.6 116.6 471.2 118.2 471 119C470.8 119.8 469.6 120.7 468.8 120.8C468 120.9 466.8 120.5 466.4 119.8C466 119.1 465.8 117.2 466.4 116.6Z" fill="url(#gOr2)"/>
<path d="M471.8 121.8C472.3 121.3 474.5 121.3 475.4 121.6C476.3 121.9 477.1 123.1 477 123.6C476.9 124.1 475.6 124.7 474.8 124.8C474 124.9 472.7 124.9 472.2 124.4C471.7 123.9 471.3 122.3 471.8 121.8Z" fill="url(#gOr2)"/>
<path d="M485.8 124.3C486.1 124.1 486.7 123.9 487 124C487.4 124 487.8 124.3 487.9 124.6C488.1 124.9 487.8 125.7 488 125.9C488.2 126 488.9 125.4 489.3 125.5C489.6 125.6 490.2 126.2 490.3 126.5C490.3 126.9 489.5 127.4 489.6 127.7C489.7 127.9 490.7 127.8 491 128C491.3 128.2 491.5 128.7 491.4 129C491.3 129.4 490.4 130 490.5 130.2C490.6 130.5 491.7 130.3 492 130.5C492.3 130.8 492.5 131.2 492.4 131.6C492.2 131.9 491.1 132.3 491.1 132.6C491.1 132.9 492.1 133.2 492.2 133.6C492.4 133.9 492.3 134.4 492.1 134.6C491.9 134.9 491 135.1 490.9 135.3C490.8 135.6 491.5 135.9 491.6 136.2C491.7 136.6 491.6 137.1 491.4 137.4C491.2 137.7 490.2 137.6 490.2 137.9C490.2 138.2 491.1 138.7 491.2 139C491.3 139.4 491.2 139.8 490.9 140.1C490.6 140.3 489.8 140.3 489.6 140.5C489.3 140.8 489.5 141.3 489.3 141.5C489 141.7 488.5 141.7 488.2 141.6C487.9 141.5 487.5 140.9 487.3 140.9C487 140.9 486.9 141.6 486.6 141.8C486.3 142 485.8 142.1 485.5 142C485.2 141.9 484.9 141.4 484.6 141.4C484.3 141.3 484 141.6 483.7 141.5C483.4 141.5 483 141.1 482.8 140.8C482.7 140.5 482.9 139.9 482.7 139.7C482.5 139.6 481.8 140 481.5 139.9C481.1 139.9 480.8 139.6 480.6 139.2C480.5 138.9 480.7 138.3 480.6 138.1C480.4 137.8 479.9 137.9 479.6 137.7C479.4 137.5 479.2 137.1 479.1 136.7C479.1 136.4 479.5 135.9 479.4 135.7C479.3 135.5 478.6 135.5 478.4 135.3C478.1 135.1 477.9 134.7 477.9 134.4C477.8 134 478.4 133.6 478.3 133.2C478.2 132.9 477.4 132.8 477.3 132.5C477.1 132.2 477.3 131.7 477.5 131.4C477.8 131.1 478.7 131.2 478.8 130.9C478.8 130.6 478 130.2 477.9 129.8C477.8 129.5 477.9 129 478.2 128.8C478.4 128.5 479.2 128.5 479.5 128.3C479.8 128 479.8 127.5 480 127.4C480.2 127.4 480.7 127.8 480.9 128.1C481 128.4 480.8 129.1 481 129.3C481.2 129.5 481.7 129.2 482 129.3C482.3 129.4 482.7 129.7 482.9 129.9C483 130.2 482.8 130.8 483 131C483.2 131.3 483.7 131.1 484 131.3C484.2 131.5 484.5 131.9 484.6 132.2C484.7 132.5 484.3 133.1 484.5 133.3C484.7 133.5 485.5 133.6 485.6 133.5C485.7 133.4 485 132.8 485.1 132.6C485.2 132.4 486.1 132.4 486.2 132.2C486.3 131.9 485.6 131.4 485.6 131C485.5 130.7 485.5 130.6 485.7 130.3C485.9 130 486.8 129.7 486.7 129.4C486.7 129.1 485.7 129 485.5 128.7C485.3 128.4 485.2 127.9 485.4 127.6C485.6 127.2 486.6 127 486.6 126.7C486.5 126.4 485.5 126.2 485.3 125.9C485.1 125.6 485.2 125.1 485.3 124.9C485.3 124.6 485.5 124.4 485.8 124.3Z" fill="url(#gOr2)"/>
<path d="M495.9 118.5C496.9 117.5 500.1 121 501.4 122.2C502.7 123.4 503 124.2 503.8 125.8C504.6 127.4 505.7 129.9 506.2 131.9C506.7 133.9 507.3 136.3 506.9 137.9C506.5 139.5 505.1 141.1 503.8 141.6C502.5 142.1 500.3 141.8 499 141C497.7 140.2 496.5 138.8 495.9 136.7C495.3 134.6 495.3 131.2 495.3 128.2C495.3 125.2 494.9 119.5 495.9 118.5Z" fill="url(#gYl)"/>
<path d="M495.9 118.5C496.5 118.9 498.5 120.2 499.6 121C500.7 121.8 502.1 123 502.6 123.4" fill="none" stroke="#d81f3a" stroke-width="1.3" stroke-linecap="round" stroke-linejoin="round"/>
<path d="M512.3 128.2C513.2 126.8 515.9 129.2 517.2 129.4C518.5 129.6 519.5 128.6 520.2 129.4C520.9 130.2 521.3 132.5 521.4 134.3C521.5 136.1 521.3 138.8 520.8 140.4C520.3 142 519.6 143.5 518.4 144C517.2 144.5 514.6 144.4 513.5 143.4C512.4 142.4 511.9 140.5 511.7 138C511.5 135.5 511.4 129.6 512.3 128.2Z" fill="url(#gYl)"/>
<path d="M507.3 105.2C507.5 104.3 508.4 104.8 508.7 105.8C509 106.8 509.1 110.3 508.9 111.2C508.7 112.1 508 112 507.7 111C507.4 110 507.1 106.1 507.3 105.2Z" fill="url(#gYl)"/>
<path d="M507.5 121C507.4 120.1 508.4 120.5 509 121.5C509.6 122.5 511 126.1 511.1 127C511.2 127.9 510.2 128 509.6 127C509 126 507.6 121.9 507.5 121Z" fill="url(#gYl)"/>
<path d="M542.5 111C543.4 110.8 545.2 112 546.4 112.9C547.6 113.8 548.8 115 549.6 116.2C550.5 117.4 551.1 118.7 551.5 120.1C551.9 121.5 551.9 123.2 552.2 124.6C552.5 126 553.5 127.8 553.2 128.5C552.9 129.2 551 128.1 550.2 128.5C549.4 128.9 549.3 130.2 548.3 131.1C547.3 132 545.8 133.4 544.4 133.7C543 134 541.2 133.8 539.9 133C538.6 132.2 537.1 130.6 536.7 129.1C536.3 127.6 536.7 125.5 537.3 123.9C537.9 122.3 539.9 121 540.5 119.4C541.1 117.8 540.9 115.6 541.2 114.2C541.5 112.8 541.6 111.2 542.5 111Z" fill="url(#gYl)"/>
<path d="M601.7 45.8C602.1 45.4 603.6 45.2 604.5 45.4C605.3 45.7 606.5 46.8 606.7 47.4C607 48 606.1 48.4 606 48.9C605.9 49.5 606.6 50.3 606.2 50.7C605.8 51.1 604.3 51.5 603.5 51.3C602.8 51.1 601.9 50.2 601.6 49.6C601.4 49.1 602 48.4 602.1 47.8C602.1 47.2 601.3 46.2 601.7 45.8Z" fill="url(#gOr4)"/>
<path d="M608.4 43.5C608.7 43 610 42.7 610.5 43C611 43.3 610.9 44.9 611.5 45.5C612.1 46.1 613.9 46 614.2 46.5C614.5 47 614.1 48.2 613.5 48.4C612.9 48.6 611.3 47.9 610.5 47.5C609.7 47.1 609.1 46.7 608.8 46C608.4 45.3 608.1 44 608.4 43.5Z" fill="url(#gOr4)"/>
<path d="M607.2 52.3C607.6 52.1 608.1 54 608.5 54.4C608.9 54.8 609.3 54.4 609.6 54.8C609.9 55.3 610 56.6 610.3 57.1C610.6 57.5 611 57.1 611.3 57.6C611.7 58.1 611.8 59.6 612.4 60.2C613 60.7 614.5 60.4 614.9 61C615.2 61.5 614.2 62.7 614.3 63.4C614.4 64.1 615.6 64.6 615.5 65.2C615.3 65.9 613.4 66.7 613.2 67.4C613 68.1 614.3 68.8 614.5 69.3C614.8 69.8 614.7 69.6 614.6 70.4C614.6 71.1 614.7 73.3 614.4 73.9C614 74.5 613.1 73.8 612.5 74.1C612 74.4 612 75.7 611.2 75.8C610.5 75.9 609 75.1 608 74.7C607.1 74.3 606.2 73.9 605.6 73.3C605 72.8 605 71.8 604.5 71.4C603.9 71.1 602.5 71.6 602.1 71.1C601.8 70.6 602.7 69 602.5 68.2C602.3 67.4 601.1 66.9 601.2 66.1C601.2 65.4 602.5 64.6 602.7 63.8C602.9 62.9 602.1 61.8 602.2 61.1C602.4 60.5 603.4 60.4 603.6 59.7C603.9 59 603.4 57.6 603.8 56.9C604.1 56.2 605.3 56.4 605.9 55.6C606.5 54.8 606.8 52.5 607.2 52.3Z" fill="url(#gOr4)"/>
<path d="M598.6 67.8C599.2 67.2 601 67.1 601.5 67.5C602 67.9 602.1 69.2 601.9 70C601.7 70.8 600.7 71.7 600.5 72.5C600.3 73.3 601.1 74.7 600.8 75.1C600.5 75.5 599 75.7 598.6 75C598.2 74.3 598.1 72.2 598.1 71C598.1 69.8 598 68.4 598.6 67.8Z" fill="url(#gOr4)"/>
<path d="M614.5 56.8C614.7 56.1 615.9 57.3 616.5 58C617.1 58.7 617.5 60 618 61C618.5 62 619.3 62.9 619.5 64C619.7 65.1 619.4 67.1 619 67.5C618.6 67.9 617.6 67.4 617 66.5C616.4 65.6 615.9 63.6 615.5 62C615.1 60.4 614.3 57.5 614.5 56.8Z" fill="url(#gOr4)"/>
<path d="M620 69C620.6 68.6 621.8 68.6 622.5 68.3C623.1 68 623.2 67.6 623.9 67.4C624.5 67.1 625.6 67 626.4 66.6C627.3 66.2 628.3 65.5 628.9 64.8C629.5 64.1 629.4 63.2 630.1 62.5C630.7 61.7 631.8 60.3 632.7 60.3C633.6 60.3 634.4 61.7 635.3 62.3C636.2 63 637.6 63.6 638 64.3C638.4 65 637.7 66 637.8 66.7C637.9 67.5 639 68.3 638.6 69C638.1 69.7 636.1 70.7 635.2 71.2C634.3 71.7 634.1 71.8 633.2 71.9C632.4 72 630.8 71.7 630 71.9C629.2 72.1 628.9 72.8 628.3 73C627.7 73.1 626.9 72.7 626.2 72.9C625.4 73.1 624.5 73.9 623.8 74C623.2 74.2 623.1 73.7 622.5 73.9C621.9 74 620.8 74.7 620.2 74.8C619.6 75 619.5 74.9 618.8 75C618.1 75.1 616.8 75.6 616.1 75.7C615.4 75.8 614.9 76 614.4 75.8C613.9 75.6 612.8 75 612.9 74.6C613.1 74.1 614.9 73.6 615.5 73.2C616.2 72.8 616.2 72.7 616.8 72.2C617.4 71.8 618.5 71 619 70.5C619.5 70 619.5 69.4 620 69Z" fill="url(#gOr4)"/>
<path d="M622.9 56.4C623.7 56.5 626.2 57 627.9 57.2C629.6 57.4 631.9 57.4 633.3 57.6C634.7 57.9 635.4 57.8 636.3 58.7C637.2 59.6 638.1 61.4 638.6 62.9C639.1 64.4 639.5 66.1 639.4 67.5C639.3 68.9 638.8 70.4 637.8 71.3C636.8 72.2 635.3 72.5 633.3 72.9C631.3 73.3 627.9 73.2 625.6 73.6C623.3 74 621.3 74.5 619.5 75.1C617.7 75.7 615.7 77 614.9 77.4" fill="none" stroke="#d81f3a" stroke-width="1.3" stroke-linecap="round" stroke-linejoin="round"/>
<path d="M587.2 120.8C587.4 120.5 589.3 121.1 590 120.9C590.8 120.7 591 119.7 591.6 119.8C592.3 119.8 593.2 120.9 593.8 121.2C594.4 121.5 594.6 121.1 595.2 121.3C595.7 121.6 596.5 122.3 597 122.6C597.5 122.9 597.8 122.7 598.3 123.1C598.7 123.4 599 124.3 599.5 124.6C599.9 125 600.6 124.8 601 125.2C601.3 125.6 601.2 126.5 601.6 126.9C602 127.4 603.2 127.5 603.5 127.8C603.9 128.2 603.3 128.7 603.6 129.3C603.8 129.9 604.7 130.9 604.9 131.6C605.1 132.3 604.7 132.7 604.9 133.5C605.1 134.2 606 135.5 606.2 136.2C606.4 136.9 606.4 137.1 606.2 137.8C606.1 138.5 605.8 140 605.3 140.2C604.8 140.3 603.9 138.9 603.4 138.6C602.9 138.3 602.7 138.9 602.2 138.5C601.8 138.1 601.1 136.6 600.7 136C600.2 135.3 599.9 135.2 599.6 134.6C599.2 134.1 599 133.1 598.7 132.6C598.3 132.2 597.9 132.5 597.7 132C597.4 131.6 597.6 130.4 597.2 129.8C596.8 129.2 595.6 128.7 595.2 128.3C594.9 127.8 595.3 127.7 594.9 127.2C594.5 126.7 593.6 125.8 593 125.3C592.5 124.9 592.3 124.8 591.6 124.4C591 124 589.8 123.3 589.1 122.7C588.4 122.1 587.1 121.1 587.2 120.8Z" fill="url(#gOr4)"/>
<path d="M607.6 116.8C608 116.3 610.8 115.6 612 114.9C613.2 114.2 613.9 112.1 615.1 112.4C616.4 112.7 619.2 115.7 619.5 116.8C619.8 117.9 617.7 118.3 617 119.3C616.3 120.3 615.7 122.1 615.1 123C614.5 123.9 613.9 124.7 613.3 124.9C612.7 125.1 611.5 125.1 611.4 124.3C611.3 123.5 612.9 121 612.6 119.9C612.3 118.9 610.3 118.5 609.5 118C608.7 117.5 607.2 117.3 607.6 116.8Z" fill="url(#gOr4)"/>
<path d="M615.1 112.4C615.5 112.8 616.8 113.8 617.5 114.5C618.2 115.2 619.2 116.4 619.5 116.8" fill="none" stroke="#d81f3a" stroke-width="1.3" stroke-linecap="round" stroke-linejoin="round"/>
<path d="M640.4 112.7C640.7 112.6 641.3 113.9 641.8 114.2C642.2 114.6 642.7 114.2 643 114.7C643.3 115.2 643.4 116.5 643.7 117.2C644 117.9 644.5 118.2 644.7 118.8C644.9 119.4 644.6 120.1 644.8 120.7C645 121.3 645.5 121.9 645.7 122.5C645.8 123 645.7 123.3 645.7 123.9C645.7 124.5 645.8 125.5 645.7 126.1C645.6 126.6 645.3 126.7 645.2 127.3C645 127.9 645.5 129.5 645.1 129.5C644.6 129.6 643.1 128.2 642.5 127.7C641.9 127.2 641.9 127.2 641.6 126.6C641.4 126.1 641.3 125 641 124.4C640.6 123.8 639.8 123.8 639.6 123.3C639.5 122.8 640.1 122 640 121.3C640 120.7 639.3 120 639.2 119.4C639.2 118.9 639.6 118.8 639.7 118.2C639.8 117.6 639.6 116.7 639.7 116.1C639.8 115.5 640.1 115.4 640.2 114.9C640.4 114.3 640.2 112.8 640.4 112.7Z" fill="url(#gOr4)"/>
<path d="M642.6 105.5C642.8 105.2 644.4 106.1 645.1 106C645.9 105.9 646.4 104.8 647 105C647.5 105.2 647.9 106.7 648.4 107.1C649 107.6 649.9 107.3 650.3 107.7C650.7 108.1 650.3 109.1 650.7 109.6C651.1 110.2 652.5 110.5 652.5 111C652.6 111.6 651.4 112.1 651.1 112.8C650.9 113.5 651.5 114.8 651.2 115.2C650.9 115.7 650 115.4 649.4 115.7C648.9 116 648.5 117.3 648 117.2C647.6 117.1 647.1 115.5 646.6 115C646 114.6 645 115 644.6 114.5C644.3 114 644.7 112.7 644.4 111.9C644.2 111.2 643 110.5 642.8 109.9C642.7 109.2 643.6 108.9 643.5 108.2C643.5 107.4 642.3 105.9 642.6 105.5Z" fill="url(#gOr4)"/>
<path d="M656.1 110.6C656.4 110.4 657.7 111.2 658.2 111.1C658.7 111 658.8 110.2 659.3 110.1C659.8 110.1 660.5 110.8 661 110.8C661.6 110.9 662.1 110.2 662.6 110.4C663 110.6 663.3 111.6 663.9 111.8C664.4 112 665.3 111.4 665.7 111.7C666.2 112.1 666.1 113.3 666.6 113.9C667.1 114.5 668.5 114.9 668.7 115.4C668.8 116 667.8 116.4 667.6 117C667.5 117.5 668.1 118.2 667.9 118.7C667.7 119.1 666.9 119.2 666.6 119.7C666.3 120.2 666.4 121.1 666 121.5C665.6 121.8 664.7 121.3 664.2 121.7C663.7 122 663.6 123.7 663.1 123.8C662.7 123.9 662 122.3 661.4 122.2C660.8 122 660 123 659.4 122.9C658.9 122.9 658.6 122.1 658.2 121.8C657.7 121.4 657.1 121.3 656.9 120.7C656.7 120.2 657.2 119.1 657 118.5C656.7 117.9 655.3 117.6 655.2 117.1C655.1 116.6 656.3 116.1 656.3 115.5C656.4 115 655.7 114.3 655.8 113.8C655.8 113.3 656.7 113.3 656.7 112.7C656.8 112.2 655.9 110.9 656.1 110.6Z" fill="url(#gOr4)"/>
<path d="M647.8 120.7C648 120.4 649.5 121.1 650.1 121C650.6 120.9 650.5 120.2 651 120.1C651.5 120.1 652.5 120.7 653.1 120.8C653.7 120.8 654.1 120.3 654.6 120.5C655.1 120.8 655.5 122.1 656.2 122.4C656.9 122.8 658.1 122.3 658.6 122.6C659.1 122.8 658.6 123.6 659.1 123.9C659.6 124.2 661.1 124.3 661.5 124.6C661.9 124.9 661.6 125 661.5 125.5C661.5 126 661.7 127 661.4 127.5C661.1 128.1 660.1 128.7 659.7 129C659.3 129.4 659.3 129.7 658.8 129.7C658.3 129.6 657.4 128.9 656.8 129C656.3 129 656.1 130 655.6 130.1C655.1 130.1 654.6 129.2 654.1 129C653.5 128.9 652.6 129.1 652.1 128.9C651.5 128.7 651.4 127.9 650.9 127.6C650.3 127.3 648.9 127.5 648.6 127.1C648.3 126.8 649.3 126 649.2 125.5C649.1 124.9 648.3 124.4 648.2 123.9C648.1 123.4 648.8 123.1 648.7 122.6C648.6 122.1 647.5 120.9 647.8 120.7Z" fill="url(#gOr4)"/>
<path d="M659.5 105.5C659.8 104.7 661.6 104.7 662.5 104.9C663.4 105.2 664.9 106.1 665.1 107C665.4 107.9 664.8 110 664 110.5C663.2 111 661.2 110.8 660.5 110C659.8 109.2 659.2 106.3 659.5 105.5Z" fill="url(#gOr4)"/>
<path d="M257.9 197.8C257.7 198.9 257.5 201.8 257.2 204C256.9 206.1 256.6 208.7 256.2 210.7C255.9 212.7 255.6 214.4 255.2 216C254.8 217.5 253.8 219.2 253.9 220C254.1 220.8 255.3 221.5 256.1 221C256.8 220.5 257.8 218.6 258.4 217C259 215.4 259.5 213.4 259.8 211.3C260 209.1 260.2 206.3 260 204C259.8 201.8 258.8 198.8 258.5 197.8C258.1 196.7 258.1 196.8 257.9 197.8Z" fill="url(#gLeafV)"/>
<path d="M271 212.3C270.1 212.6 267.2 213.2 265.4 214.3C263.7 215.5 261.7 217.3 260.4 219.3C259.1 221.3 258.4 223.8 257.5 226.2C256.7 228.5 256.1 230.8 255.5 233.4C254.9 235.9 254.4 238.8 254 241.5C253.5 244.2 253 246.5 252.7 249.7C252.4 252.9 252 259 252.2 260.9C252.4 262.8 253.1 262.9 253.8 261.1C254.5 259.3 255.5 253.4 256.3 250.3C257.1 247.2 257.7 245.1 258.4 242.5C259.2 239.9 259.9 237.1 260.5 234.6C261.2 232.2 261.8 230 262.5 227.8C263.1 225.7 263.7 223.5 264.6 221.7C265.4 219.8 266.4 218.2 267.6 216.7C268.7 215.2 270.8 213.6 271.4 212.9C271.9 212.1 272 212.1 271 212.3Z" fill="url(#gLeafV)"/>
<path d="M276.3 203.2C276 204.1 275.6 206.6 275.1 208.9C274.6 211.1 274 214.1 273.5 216.8C273 219.4 272.5 222.2 272.1 224.7C271.7 227.2 271.3 229.4 271 231.8C270.8 234.1 270.4 237.7 270.5 238.9C270.6 240.1 271 240.2 271.5 239.1C272 238 272.8 234.5 273.4 232.2C274 229.9 274.6 227.8 275.1 225.3C275.6 222.8 276.1 219.9 276.5 217.2C276.9 214.6 277.4 211.5 277.5 209.1C277.6 206.8 277.1 204.2 276.9 203.2C276.7 202.2 276.6 202.2 276.3 203.2Z" fill="url(#gLeafV)"/>
<path d="M247.2 241.6C247.1 242.4 247.1 244.6 247 246.4C247 248.1 247.1 250.1 247.1 252C247.1 253.9 247 256.2 247 257.7C247 259.3 246.9 260.6 247.2 261.3C247.6 261.9 248.5 262.2 249.2 261.7C249.8 261.2 250.5 259.9 251 258.3C251.4 256.7 251.9 254.1 251.9 252C251.9 249.9 251.7 247.4 251 245.6C250.3 243.9 248.4 242.1 247.8 241.4C247.2 240.7 247.3 240.8 247.2 241.6Z" fill="url(#gLeafV3)"/>
<path d="M252.8 221.5 L257.1 222.8 L260.8 225.2 L259.6 228.9 L256.5 232 L252.8 235.1" fill="none" stroke="#d81f3a" stroke-width="1.3" stroke-linecap="round" stroke-linejoin="round"/>
<path d="M245.5 256C246 256.7 247.5 259.1 248.5 260.3C249.5 261.5 251.1 262.9 251.6 263.4" fill="none" stroke="#d81f3a" stroke-width="1.3" stroke-linecap="round" stroke-linejoin="round"/>
<path d="M221.8 270.6C222.2 270.4 224 271.2 224.8 272.2C225.6 273.2 226.9 276 226.8 276.6C226.7 277.2 225 276.3 224.2 275.8C223.4 275.3 222.6 274.4 222.2 273.5C221.8 272.6 221.4 270.8 221.8 270.6Z" fill="url(#gLeafV3)"/>
<path d="M317.2 229.3C318 229.3 319.5 230.8 319.5 231.6C319.5 232.4 318 233.9 317.2 233.9C316.4 233.9 314.9 232.4 314.9 231.6C314.9 230.8 316.4 229.3 317.2 229.3Z" fill="#f3a340"/>
<path d="M352.4 279.2C353.1 278.6 355.7 278.6 356.4 279.2C357.1 279.8 357.1 282.4 356.4 283C355.7 283.6 353.1 283.6 352.4 283C351.7 282.4 351.7 279.8 352.4 279.2Z" fill="#ef8a3c"/>
<path d="M322.4 271.2C322.5 270.5 325.4 270.3 327 270.2C328.6 270.1 331.4 269.8 332.2 270.4C333 270.9 332.4 272.4 332 273.5C331.6 274.6 330.9 277 330 277.2C329.1 277.4 327.8 275.5 326.5 274.5C325.2 273.5 322.3 271.9 322.4 271.2Z" fill="url(#gLeafV3)"/>
<path d="M348.9 241.1C349 240.9 351.5 240.3 352.9 239.8C354.2 239.3 355.7 238.6 357 238.2C358.3 237.8 359.7 237.2 360.6 237.4C361.5 237.6 361.7 238.3 362.2 239.4C362.7 240.5 363.3 242.1 363.5 243.9C363.7 245.7 363.7 248.4 363.5 250.4C363.3 252.4 362.6 254.1 362.2 256C361.8 257.9 361.5 261.2 361 262.1C360.5 263.1 359.5 262.7 359.4 261.7C359.3 260.7 359.9 257.9 360.2 256C360.5 254.1 361 252.3 361.2 250.4C361.4 248.5 361.5 246.2 361.2 244.7C360.9 243.2 360.2 242.2 359.4 241.5C358.6 240.8 357.4 240.3 356.2 240.2C355 240.1 353.3 240.9 352.1 241.1C350.9 241.2 348.8 241.3 348.9 241.1Z" fill="#2aa055"/>
<path d="M348.5 241.5C349.1 241.3 350.8 240.7 352.1 240.2C353.4 239.7 354.8 239.1 356.2 238.6C357.6 238.1 359.7 237.2 360.6 237C361.5 236.8 361.3 237.3 361.4 237.4" fill="none" stroke="#d81f3a" stroke-width="1.3" stroke-linecap="round" stroke-linejoin="round"/>
<path d="M359 260C359.3 260.4 360.3 262.1 360.6 262.5" fill="none" stroke="#d81f3a" stroke-width="1.3" stroke-linecap="round" stroke-linejoin="round"/>
<path d="M381.3 224C380.8 225.1 379.9 228.5 379.1 230.7C378.4 232.9 377.6 235.3 376.7 237.3C375.9 239.3 375 241.1 374.1 242.9C373.1 244.8 372.1 246.6 371.1 248.3C370.2 250 369.1 251.6 368.4 253.1C367.8 254.6 367 256.4 367.1 257.3C367.3 258.2 368.5 258.7 369.3 258.3C370 257.9 370.6 256.2 371.6 254.9C372.5 253.6 373.7 252.3 374.9 250.7C376 249 377.3 247.1 378.3 245.1C379.3 243.1 380.3 241 380.9 238.7C381.5 236.4 381.9 233.7 382.1 231.3C382.2 228.9 382 225.3 381.9 224C381.8 222.8 381.8 222.8 381.3 224Z" fill="url(#gLeafV2)"/>
<path d="M366.7 258.5C367.4 258.4 370 257.8 370.7 257.6" fill="none" stroke="#d81f3a" stroke-width="1.3" stroke-linecap="round" stroke-linejoin="round"/>
<path d="M303 366.2C303.4 365.7 305 366.3 305.9 366.1C306.8 366 307.4 365.5 308.3 365.4C309.1 365.2 310 365.4 310.9 365.3C311.9 365.3 313 365 313.9 365.1C314.9 365.2 315.6 365.5 316.7 366C317.7 366.5 319.6 367.1 320.2 368.1C320.8 369.2 320.5 371.1 320.5 372.2C320.4 373.4 320.2 373.9 319.8 374.8C319.5 375.6 319.1 376.6 318.6 377.4C318.1 378.1 317.5 378.8 316.9 379.5C316.2 380.1 315.5 380.4 314.7 381.1C313.9 381.8 313.3 382.8 312.2 383.5C311.1 384.1 309.7 384.8 308.4 385C307.1 385.2 305 385.5 304.3 384.8C303.5 384.1 304.2 382.1 304 380.9C303.8 379.6 303.1 378.5 303 377.5C302.9 376.4 303.4 375.6 303.4 374.7C303.4 373.7 303 372.7 303 371.8C303 370.9 303.4 370.2 303.4 369.3C303.4 368.3 302.6 366.7 303 366.2Z" fill="url(#gMY2)"/>
<path d="M314.2 383.5C314.1 382.9 313.7 380.7 314 380.1C314.3 379.5 315.7 380.4 316.1 380C316.5 379.6 316 378.2 316.3 377.9C316.7 377.5 318 378.3 318.3 378C318.7 377.6 318.2 376.4 318.5 375.9C318.7 375.5 319.7 375.6 320 375.5" fill="none" stroke="#2f72bb" stroke-width="1.25" stroke-linecap="round" stroke-linejoin="round"/>
<path d="M324.5 385.8C325.1 384.9 329.3 384.3 331.6 383.9C333.9 383.5 336.6 383.8 338.1 383.2C339.6 382.6 340.9 381.4 340.7 380.6C340.5 379.9 337 379.7 336.8 378.7C336.6 377.7 338.3 375.6 339.4 374.8C340.5 374.1 342.2 373.9 343.3 374.2C344.4 374.5 345.5 375.7 345.8 376.8C346.1 377.9 344.8 379.4 345.2 380.6C345.6 381.8 347.2 382.7 348.4 383.9C349.6 385.1 351.2 386.2 352.3 387.7C353.4 389.2 355.3 391.6 354.9 392.9C354.5 394.2 351.6 394.9 349.7 395.5C347.8 396.1 345.4 396.8 343.3 396.8C341.2 396.8 338.5 396.2 336.8 395.5C335.1 394.8 334.4 393.4 332.9 392.3C331.4 391.2 329.1 390.1 327.7 389C326.3 387.9 323.9 386.7 324.5 385.8Z" fill="url(#gMY2)"/>
<path d="M362.5 395C363.4 393.5 366.7 391.2 368.8 390C370.9 388.8 372.9 388.2 375 387.8C377.1 387.4 379.6 387.4 381.3 387.8C383 388.2 384 389 385 390C386 391 386.7 392.8 387.5 393.8C388.3 394.9 389.8 395.1 390 396.3C390.2 397.6 389.6 399.9 388.8 401.3C388 402.8 386.7 404.1 385 405C383.3 405.9 381.1 406.6 378.8 406.9C376.5 407.2 373.4 407.4 371.3 406.9C369.2 406.4 367.7 405.1 366.3 403.8C364.9 402.5 363.7 400.3 363.1 398.8C362.5 397.3 361.6 396.5 362.5 395Z" fill="url(#gMY2)"/>
<path d="M362.5 395C363.6 394.2 366.7 391.2 368.8 390C370.9 388.8 372.9 388.2 375 387.8C377.1 387.4 379.6 387.4 381.3 387.8C383 388.2 384 389 385 390C386 391 386.7 392.8 387.5 393.8C388.3 394.9 389.7 395.3 390 396.3C390.3 397.3 389.7 398.9 389.4 400C389.1 401.1 388.3 402.6 388.1 403.1" fill="none" stroke="#2f72bb" stroke-width="1.25" stroke-linecap="round" stroke-linejoin="round"/>
<path d="M318.7 402C319.7 401.2 322.4 401.5 323.2 402.6C323.9 403.7 323.1 406.3 323.2 408.4C323.3 410.4 323.2 413.4 323.9 414.9C324.5 416.4 327.1 416.9 327.1 417.5C327.1 418.1 325.1 418.7 323.9 418.8C322.7 418.9 321 419 320 418.1C319 417.2 318.4 415.4 318 413.6C317.6 411.8 317.3 409 317.4 407.1C317.5 405.2 317.7 402.8 318.7 402Z" fill="url(#gMY2)"/>
<path d="M318.7 400C319 400.4 320 402.5 320.6 402.6C321.2 402.7 322 400.7 322.6 400.7C323.2 400.7 324.2 402.3 324.5 402.6" fill="none" stroke="#2f72bb" stroke-width="1.25" stroke-linecap="round" stroke-linejoin="round"/>
<path d="M345.8 422.7C346.7 421.6 349.4 422 351 421.4C352.6 420.8 354.3 419.4 355.5 418.8C356.7 418.2 357.7 416.4 358 417.5C358.3 418.6 358.2 423.1 357.5 425.2C356.8 427.3 355.1 429.2 353.6 430.4C352.1 431.6 349.7 432.8 348.4 432.4C347.1 432 346.2 429.4 345.8 427.8C345.4 426.2 344.9 423.8 345.8 422.7Z" fill="url(#gMY2)"/>
<path d="M388.5 364.4C388.5 364.8 387.8 365.2 387.4 365.7C387.1 366.1 386.9 366.8 386.5 366.9C386 367.1 385.4 366.7 384.9 366.5C384.3 366.4 383.5 366.4 383.2 366C383 365.7 383.2 364.9 383.2 364.4C383.3 363.9 383.1 363.2 383.4 362.9C383.6 362.5 384.4 362.5 384.9 362.4C385.4 362.2 386 361.7 386.5 361.9C386.9 362 387.2 362.7 387.5 363.1C387.9 363.5 388.5 364 388.5 364.4Z" fill="url(#gFrost)"/>
<path d="M386.2 381.3C386.2 381.9 385.6 382.6 385.2 383.2C384.8 383.7 384.3 384.5 383.7 384.7C383 384.9 382.2 384.5 381.5 384.3C380.8 384 379.8 383.9 379.5 383.4C379.1 382.9 379.2 382 379.2 381.3C379.2 380.6 379 379.7 379.4 379.2C379.8 378.7 380.8 378.6 381.5 378.4C382.2 378.2 383 377.8 383.7 377.9C384.3 378.1 384.8 378.9 385.2 379.4C385.6 380 386.2 380.7 386.2 381.3Z" fill="url(#gFrost)"/>
<path d="M401 381.3C401 382.1 400.3 383 399.8 383.7C399.2 384.4 398.6 385.4 397.8 385.7C397 385.9 395.8 385.5 395 385.2C394.1 385 392.9 384.6 392.4 384C391.9 383.3 392 382.2 392 381.3C391.9 380.4 391.8 379.2 392.3 378.6C392.8 377.9 394.1 377.6 395 377.4C395.9 377.1 397 376.7 397.8 377C398.6 377.2 399.3 378.1 399.8 378.9C400.4 379.6 401 380.5 401 381.3Z" fill="url(#gFrost)"/>
<path d="M404.3 398.8C404.3 399.5 403.6 400.3 403.1 401C402.6 401.6 402.1 402.6 401.4 402.8C400.6 403 399.6 402.5 398.8 402.2C398 402 396.9 401.8 396.5 401.2C396 400.7 396.2 399.6 396.2 398.8C396.2 398 396 396.9 396.4 396.3C396.9 395.8 398 395.6 398.8 395.4C399.7 395.2 400.6 394.7 401.3 394.9C402 395.1 402.5 396.1 403 396.7C403.5 397.4 404.2 398.1 404.3 398.8Z" fill="url(#gFrost)"/>
<path d="M396.8 411.3C396.8 412 396.1 412.8 395.6 413.4C395.1 414.1 394.6 415 393.8 415.2C393.1 415.4 392.2 414.9 391.3 414.7C390.5 414.4 389.4 414.3 388.9 413.8C388.5 413.2 388.6 412.1 388.6 411.3C388.7 410.5 388.6 409.5 389.1 408.9C389.5 408.4 390.5 408.1 391.3 407.8C392.1 407.6 393.1 407.3 393.8 407.5C394.5 407.7 395 408.6 395.6 409.2C396.1 409.8 396.8 410.6 396.8 411.3Z" fill="url(#gFrost)"/>
<path d="M409.7 408.8C409.7 409.6 409 410.4 408.4 411.2C407.9 411.9 407.3 413 406.5 413.2C405.7 413.4 404.6 412.9 403.7 412.7C402.8 412.4 401.5 412.2 401 411.5C400.5 410.9 400.7 409.7 400.7 408.8C400.7 407.9 400.6 406.8 401.1 406.1C401.6 405.4 402.7 405.1 403.6 404.8C404.5 404.6 405.7 404.2 406.5 404.5C407.3 404.7 407.9 405.7 408.5 406.4C409 407.1 409.7 408 409.7 408.8Z" fill="url(#gFrost)"/>
<path d="M422.6 387.5C422.6 388.1 422 388.8 421.5 389.4C421.1 389.9 420.6 390.7 420 390.9C419.3 391 418.5 390.7 417.8 390.5C417.1 390.3 416.2 390.1 415.8 389.6C415.4 389.1 415.5 388.2 415.5 387.5C415.5 386.8 415.4 385.9 415.8 385.4C416.2 384.9 417.1 384.7 417.8 384.5C418.5 384.2 419.4 383.8 420 384C420.6 384.2 421 385.1 421.5 385.7C421.9 386.2 422.5 386.9 422.6 387.5Z" fill="url(#gFrost)"/>
<path d="M421.4 396.3C421.4 396.9 420.6 397.5 420.1 398.1C419.7 398.7 419.3 399.6 418.7 399.8C418.1 400 417.2 399.6 416.5 399.4C415.7 399.1 414.8 398.9 414.4 398.4C414.1 397.9 414.2 397 414.2 396.3C414.2 395.6 414.1 394.7 414.5 394.2C414.9 393.7 415.8 393.5 416.5 393.2C417.1 393 418.1 392.7 418.7 392.9C419.3 393.1 419.7 393.9 420.2 394.5C420.6 395 421.4 395.7 421.4 396.3Z" fill="url(#gFrost)"/>
<path d="M430.7 401.3C430.7 401.8 430.1 402.3 429.7 402.8C429.4 403.4 429.1 404.2 428.5 404.4C428 404.5 427.2 404.1 426.6 403.9C426 403.7 425.2 403.6 424.9 403.1C424.5 402.7 424.7 401.9 424.7 401.3C424.7 400.7 424.4 399.8 424.8 399.4C425.1 399 426 399 426.6 398.8C427.3 398.6 428 398.1 428.5 398.3C429.1 398.4 429.4 399.3 429.7 399.8C430.1 400.3 430.7 400.8 430.7 401.3Z" fill="url(#gFrost)"/>
<path d="M405.3 362.5C405.3 362.8 404.8 363.2 404.6 363.5C404.3 363.9 404.2 364.6 403.8 364.7C403.5 364.7 403 364.2 402.6 364.1C402.1 363.9 401.3 364.1 401.1 363.9C400.9 363.6 401.3 362.9 401.3 362.5C401.3 362.1 401 361.5 401.2 361.2C401.4 361 402.1 361.1 402.6 360.9C403 360.8 403.5 360.2 403.8 360.3C404.2 360.4 404.3 361.2 404.5 361.5C404.8 361.9 405.3 362.2 405.3 362.5Z" fill="url(#gFrost)"/>
<path d="M415.2 375C415.2 375.4 414.7 375.9 414.3 376.3C414 376.7 413.8 377.3 413.3 377.4C412.9 377.6 412.3 377.2 411.8 377C411.3 376.9 410.6 376.9 410.3 376.5C410 376.2 410.1 375.5 410.1 375C410.1 374.5 410 373.8 410.3 373.5C410.6 373.1 411.3 373.1 411.8 372.9C412.3 372.8 412.9 372.4 413.3 372.6C413.8 372.7 414 373.3 414.4 373.7C414.7 374.1 415.2 374.6 415.2 375Z" fill="url(#gFrost)"/>
<path d="M379.4 365.6 L383.8 365.6 L383.1 368.8" fill="none" stroke="#2f72bb" stroke-width="1.25" stroke-linecap="round" stroke-linejoin="round"/>
<path d="M375.6 368.8 L375 372.5 L378.8 373.1" fill="none" stroke="#2f72bb" stroke-width="1.25" stroke-linecap="round" stroke-linejoin="round"/>
<path d="M405.6 363.8C405.5 364.6 404.7 367.4 405 368.8C405.3 370.2 406.4 371.8 407.5 372.5C408.6 373.2 410.6 373.4 411.3 373.1C412 372.8 411.8 371 411.9 370.6" fill="none" stroke="#2f72bb" stroke-width="1.25" stroke-linecap="round" stroke-linejoin="round"/>
<path d="M408.1 384.4C408.7 384.5 411.2 384.3 411.9 385C412.6 385.7 412.7 388.1 412.5 388.8C412.3 389.5 410.9 389.3 410.6 389.4" fill="none" stroke="#2f72bb" stroke-width="1.25" stroke-linecap="round" stroke-linejoin="round"/>
<path d="M406.9 391.9C406.8 392.3 406 393.9 406.3 394.4C406.6 394.9 408.4 394.9 408.8 395" fill="none" stroke="#2f72bb" stroke-width="1.25" stroke-linecap="round" stroke-linejoin="round"/>
<path d="M473.6 382.5C475.2 381.1 479.1 379.2 481.4 378.7C483.7 378.2 485.6 378.6 487.2 379.6C488.8 380.6 490.3 382.4 491.1 384.5C491.9 386.6 492.3 390.3 492.1 392.2C491.9 394.1 491.2 395.3 490.1 396.1C489 396.9 487.2 396.9 485.3 397.1C483.4 397.3 480.4 397.8 478.5 397.1C476.6 396.5 474.7 394.8 473.6 393.2C472.5 391.6 471.7 389.2 471.7 387.4C471.7 385.6 472 383.9 473.6 382.5Z" fill="url(#gPinkF)"/>
<path d="M490.7 396.8C491.2 396.3 492.9 396.8 493.8 396.6C494.6 396.3 494.9 395.3 495.7 395.2C496.5 395.1 497.6 396 498.4 396C499.1 396 499.5 395.3 500.3 395.3C501 395.4 502 396.3 502.7 396.3C503.5 396.3 504 395.4 504.7 395.3C505.3 395.2 505.9 396 506.6 395.9C507.2 395.8 508.1 394.8 508.8 394.7C509.5 394.6 510 395.2 510.8 395C511.6 394.9 512.8 393.7 513.6 393.9C514.5 394.1 515.5 395.5 516.1 396.3C516.7 397 517 397.5 517.2 398.3C517.3 399.1 517 400.3 517.1 401.1C517.2 401.8 517.7 402.2 517.8 402.8C517.8 403.5 517.3 404.2 517.3 404.9C517.4 405.6 518.2 406.1 518.2 406.8C518.3 407.5 517.6 408.3 517.7 409.1C517.9 410 519.1 411 518.9 411.8C518.8 412.6 517.3 413 516.9 413.8C516.6 414.7 517.1 416.3 516.8 416.9C516.4 417.5 515.3 417.2 514.8 417.6C514.4 418 514.4 419.1 514 419.5C513.5 419.9 512.8 419.8 512.2 420.1C511.6 420.4 511 421.1 510.3 421.2C509.5 421.4 508.6 420.8 507.8 421C507 421.1 506.3 422.1 505.6 422.2C505 422.3 504.4 421.3 503.7 421.3C503 421.2 502.3 422 501.7 421.9C501 421.8 500.6 420.8 499.9 420.7C499.3 420.7 498.3 421.6 497.7 421.4C497 421.3 496.8 420.1 496.2 419.7C495.5 419.4 494.4 419.8 493.8 419.6C493.1 419.3 492.8 418.6 492.3 418.2C491.8 417.8 490.9 417.7 490.6 417.2C490.3 416.7 490.8 415.6 490.4 415C490.1 414.5 488.9 414.4 488.7 413.8C488.5 413.3 489.2 412.3 489.2 411.6C489.2 410.9 488.6 410.4 488.5 409.8C488.5 409.2 488.9 408.4 489 407.8C489 407.1 488.6 406.5 488.7 405.8C488.9 405.2 489.7 404.7 489.9 404C490 403.3 489.3 402.5 489.5 401.8C489.7 401.1 490.8 400.6 491 399.7C491.2 398.9 490.2 397.3 490.7 396.8Z" fill="url(#gPink2)"/>
<path d="M487.2 378.2Q487.9 374.8 484.2 375.8Q481.1 372.8 480.5 376.2Q477.8 374.3 476.8 377.6Q473.6 376.2 473.5 379.7Q470.3 378.5 470.5 382.1Q467.1 382.6 468.8 385.6Q466.3 388 469.4 389.5Q467.4 392.3 470.7 393.2Q469.4 396.4 472.9 396.6Q471.5 399.7 474.9 399.9Q474.4 403.6 477.7 402.7Q480.3 405.1 481.4 401.9" fill="none" stroke="#2f72bb" stroke-width="1.3" stroke-linecap="round" stroke-linejoin="round"/>
<path d="M534.5 369C535 368.2 536.6 367.2 537.5 367C538.4 366.8 539.7 367 540 367.5C540.3 368 540 369.2 539.5 370C539 370.8 537.8 371.7 537 372C536.2 372.3 535.2 372.5 534.8 372C534.4 371.5 534 369.8 534.5 369Z" fill="#f8d838"/>
<path d="M533.3 369.6C533.5 368.7 534.1 368.2 534.7 367.6C535.3 367 536.3 366.5 537.1 366.2C537.9 365.9 538.9 365.5 539.6 365.7C540.3 365.9 541.3 366.5 541.5 367.1C541.7 367.8 541.5 368.9 541 369.6C540.5 370.3 539.3 370.9 538.6 371.5C537.9 372.1 537.5 373.2 536.7 373.5C535.9 373.8 534.3 373.6 533.7 373C533.1 372.4 533.1 370.5 533.3 369.6Z" fill="none" stroke="#2f72bb" stroke-width="1.2"/>
<path d="M566.5 369.8C566.8 369.4 568.3 370.3 568.7 370.8C569.1 371.3 569 372.6 568.7 373C568.4 373.4 567.4 373.5 567 373C566.6 372.5 566.2 370.2 566.5 369.8Z" fill="#f8d838"/>
<path d="M564.8 364.2C565 364.5 566.1 365.5 566.3 366.2C566.5 366.9 565.5 368 565.8 368.6C566 369.2 567.2 369.1 567.8 369.6C568.4 370.1 569.1 370.9 569.2 371.5C569.3 372.1 568.6 372.8 568.2 373C567.8 373.2 567 372.6 566.8 372.5" fill="none" stroke="#2f72bb" stroke-width="1.25" stroke-linecap="round" stroke-linejoin="round"/>
<path d="M556.6 373.5C556.9 373.1 558.7 372.5 559.5 372.3C560.3 372.1 561.1 372.1 561.4 372.5C561.6 372.9 561.6 374.2 561 374.6C560.4 375 558.7 374.8 558 374.6C557.3 374.4 556.4 373.9 556.6 373.5Z" fill="#6ab35a"/>
<path d="M544.8 381.3C545.2 381 546.2 381.7 546.8 381.6C547.4 381.5 548.1 380.6 548.5 380.8C549 381 549.1 382.2 549.6 382.6C550.1 383 551.1 382.7 551.4 383.3C551.7 383.8 551.5 385.1 551.4 385.9C551.3 386.7 551.3 387.5 550.9 388.1C550.6 388.6 550 389 549.4 389.3C548.9 389.6 548.3 389.9 547.7 389.9C547.2 389.8 546.6 389.4 546.1 389C545.6 388.6 545.1 388.2 544.9 387.6C544.6 387 544.6 386.2 544.6 385.5C544.5 384.8 544.4 384 544.4 383.3C544.4 382.6 544.4 381.6 544.8 381.3Z" fill="url(#gMY3)"/>
<path d="M557.6 384.5C558.1 384 559.4 384.4 560 385C560.6 385.6 561.5 387.2 561.4 388C561.3 388.8 560.2 389.5 559.5 389.5C558.8 389.5 557.6 388.8 557.3 388C557 387.2 557.1 385 557.6 384.5Z" fill="#ecebea"/>
<path d="M565.3 386.5C565.8 385.7 567.3 385.6 567.8 386C568.3 386.4 568.5 387.9 568.5 389C568.5 390.1 568 391.6 567.5 392.5C567 393.4 566.2 394.8 565.8 394.5C565.3 394.2 564.9 392.3 564.8 391C564.7 389.7 564.8 387.3 565.3 386.5Z" fill="#f8d838"/>
<path d="M566.8 384.2C567.2 384.4 568.6 384.5 569.2 385.1C569.8 385.7 570.3 387 570.2 388C570.1 389 569.1 390 568.7 391C568.3 392 568.4 393.2 567.8 393.9C567.2 394.6 565.8 395.3 565.3 395.3C564.8 395.3 564.9 394.1 564.8 393.9" fill="none" stroke="#2f72bb" stroke-width="1.25" stroke-linecap="round" stroke-linejoin="round"/>
<path d="M582.5 389.2C583 388.7 584.3 389.7 584.8 390.5C585.3 391.3 585.7 392.8 585.7 394C585.7 395.2 585.3 397.1 584.8 397.8C584.3 398.5 583 398.9 582.5 398.2C582 397.5 581.9 395 581.9 393.5C581.9 392 582 389.7 582.5 389.2Z" fill="url(#gMY3)"/>
<path d="M552.5 402.7C552.9 402.4 554.1 403.2 554.7 403.1C555.4 403 556.1 402.1 556.5 402.3C557 402.5 557.2 403.7 557.6 404.2C558.1 404.7 559.1 404.9 559.2 405.4C559.4 405.9 558.6 406.7 558.6 407.4C558.5 408.2 559.2 409.3 558.9 409.7C558.7 410.1 557.6 409.7 557 410C556.5 410.3 556 411.4 555.5 411.4C555 411.4 554.6 410.2 554.1 409.8C553.5 409.4 552.5 409.6 552.3 409.2C552 408.8 552.8 408 552.8 407.5C552.8 406.9 552.1 406.4 552.2 405.9C552.2 405.4 552.9 405.2 552.9 404.6C553 404.1 552.2 402.9 552.5 402.7Z" fill="url(#gMY3)"/>
<path d="M569.2 396.5C569.7 396.3 572.1 396.3 572.6 396.5C573.1 396.7 572.5 397.6 572 397.8C571.5 398 570 398 569.5 397.8C569 397.6 568.7 396.7 569.2 396.5Z" fill="#9fd09a"/>
<path d="M158.5 515.1C158.8 514.9 159.8 515.3 160.4 515.2C161 515.1 161.7 514.5 162.1 514.7C162.5 514.8 162.5 515.7 162.8 516.1C163.2 516.5 164.2 516.6 164.3 517C164.4 517.3 163.4 517.6 163.2 518.1C163.1 518.5 163.5 519.5 163.2 519.7C162.9 519.9 162 519.2 161.4 519.1C160.8 519.1 159.9 519.7 159.6 519.5C159.3 519.3 159.7 518.3 159.6 517.8C159.4 517.3 158.9 516.9 158.8 516.5C158.6 516 158.3 515.3 158.5 515.1Z" fill="#f2b493"/>
<path d="M153.1 522.4C153.5 522.1 154.7 522.6 155.3 522.5C155.9 522.3 156.3 521.6 156.9 521.4C157.5 521.3 158 521.6 158.6 521.7C159.2 521.9 160.1 521.8 160.6 522.2C161.1 522.5 161.3 523.3 161.5 523.7C161.7 524.2 162 524.5 161.9 524.9C161.8 525.3 161 525.8 160.8 526.4C160.7 526.9 161.4 527.6 161.2 528C161 528.4 160 528.3 159.6 528.7C159.2 529.1 159.2 530.1 158.8 530.4C158.5 530.7 158 530.7 157.6 530.7C157.1 530.7 156.6 530.7 156.2 530.4C155.8 530 155.5 529.2 155.2 528.7C154.8 528.2 154.2 527.9 154 527.4C153.7 526.9 153.9 526.3 153.7 525.7C153.5 525.1 153.1 524.5 153 524C152.9 523.4 152.7 522.6 153.1 522.4Z" fill="#f2b493"/>
<path d="M159.2 531.8C159.4 531.4 160.7 531.5 161.3 531.1C161.8 530.8 161.9 529.9 162.4 529.5C162.8 529.2 163.3 529.2 163.9 529.1C164.4 529 165.1 529 165.6 529.2C166.1 529.3 166.6 529.7 166.9 530.1C167.3 530.4 167.5 530.7 167.5 531.2C167.6 531.6 167.2 532.2 167.3 532.7C167.3 533.2 168.1 533.7 167.9 534.1C167.7 534.6 166.6 534.9 166.2 535.4C165.7 535.9 165.6 536.9 165.2 537.2C164.7 537.4 164 536.8 163.4 536.9C162.8 537 162 537.8 161.6 537.7C161.2 537.6 161.3 536.5 160.9 536.1C160.5 535.7 159.4 535.8 159.2 535.4C159.1 535 160 534.2 160 533.6C160 533 159 532.2 159.2 531.8Z" fill="#f2b493"/>
<path d="M167.1 525.7C167.3 524.7 168.8 525.5 169.5 526C170.2 526.5 171.1 527.6 171.3 529C171.5 530.4 171 533.6 170.5 534.1C170 534.6 169.1 533.4 168.5 532C167.9 530.6 166.9 526.7 167.1 525.7Z" fill="#f2b493"/>
<path d="M180.4 535.9C180.6 535.7 181.7 536.6 182.2 536.7C182.7 536.8 182.9 536.5 183.3 536.6C183.8 536.8 184.5 537.4 185 537.5C185.5 537.6 185.9 537.3 186.3 537.4C186.7 537.5 187.1 538.1 187.6 538.2C188.1 538.3 189 537.6 189.4 537.8C189.8 538.1 189.6 539.3 190 539.9C190.4 540.4 191.4 540.6 191.7 541C192.1 541.5 191.9 542.1 192 542.6C192 543.1 192.3 543.6 192.2 544.1C192.1 544.5 191.6 544.8 191.4 545.3C191.3 545.8 191.8 546.8 191.5 547.1C191.2 547.3 190.1 546.7 189.6 546.9C189.1 547 189 547.7 188.5 547.8C188.1 547.9 187.5 547.5 187 547.5C186.4 547.5 185.9 548.1 185.4 548C184.9 547.9 184.4 547.5 184 547.2C183.6 546.8 183.1 546.5 182.9 546C182.7 545.5 183 544.6 182.7 544.1C182.5 543.5 181.7 543.1 181.5 542.6C181.3 542.1 181.8 541.6 181.7 541C181.6 540.5 181 539.7 180.9 539.2C180.8 538.7 181.2 538.5 181.1 537.9C181.1 537.4 180.2 536.1 180.4 535.9Z" fill="#f2b493"/>
<path d="M189.9 531.9C190.1 531.7 191.5 532.1 192.1 532.1C192.7 532.1 192.9 531.7 193.4 531.7C194 531.7 194.9 532.2 195.5 532.2C196.2 532.1 196.9 531.5 197.5 531.4C198 531.3 198.6 531.3 199 531.6C199.4 531.9 199.6 532.7 199.7 533.3C199.8 533.9 199.7 534.6 199.6 535.2C199.5 535.7 199.4 536.3 199.1 536.7C198.9 537.2 198.5 537.4 198.2 537.9C198 538.4 198 539.6 197.7 539.6C197.4 539.7 196.9 538.5 196.5 538.2C196.1 537.9 195.7 537.9 195.4 537.6C195.1 537.2 194.9 536.5 194.5 536.1C194.1 535.7 193.5 535.5 193.1 535.2C192.8 534.9 192.9 534.5 192.5 534.1C192.1 533.7 191.4 533.4 191 533C190.6 532.6 189.7 532 189.9 531.9Z" fill="#f2b493"/>
<path d="M174.4 531C174.8 530.8 176.2 531.1 176.5 531.5C176.8 531.9 176.8 532.9 176.5 533.1C176.2 533.4 174.8 533.4 174.4 533C174.1 532.6 174.1 531.2 174.4 531Z" fill="#f2b493"/>
<path d="M169.2 514.2Q169.8 510.8 166.2 511.9Q164.8 508.8 162.4 512Q159.3 510.2 158.8 513.6Q155.5 512.2 155.5 515.6Q151.9 515.1 152.7 518.4Q148.9 519.3 151.2 521.9Q148.3 524.8 151.6 525.6Q149.7 528.4 153.1 529.2Q151.5 532.2 155 532.7Q153.9 535.9 157.3 535.8Q156.9 539.3 160.2 538.4Q162.5 541.4 163.9 538.3" fill="none" stroke="#2f72bb" stroke-width="1.3" stroke-linecap="round" stroke-linejoin="round"/>
<path d="M215.1 494.3C214.8 494.8 214 497.4 213.5 499.5C213 501.6 212.4 504.2 212 506.8C211.6 509.4 211.2 512.3 210.9 515.1C210.6 517.9 209.8 522 209.9 523.4C210 524.8 211.1 524.8 211.5 523.4C211.9 522 212.2 518.1 212.5 515.1C212.8 512.1 213 508.8 213.5 505.7C214 502.6 215.3 498.2 215.6 496.3C215.9 494.4 215.4 493.8 215.1 494.3Z" fill="url(#gLeaf3)"/>
<path d="M204.7 507.8C205 507.8 206.1 511.1 206.8 513C207.5 514.9 208.5 517.4 208.9 519.3C209.3 521.2 209.6 523.6 209.4 524.5C209.2 525.4 208.3 525.5 207.8 524.5C207.3 523.5 206.8 520.1 206.3 518.2C205.8 516.3 205 514.7 204.7 513C204.4 511.3 204.3 507.8 204.7 507.8Z" fill="url(#gLeaf3)"/>
<path d="M204.2 517.2C204.4 517.9 205 519.9 205.2 521.3C205.4 522.7 205.3 524.2 205.2 525.5C205.1 526.8 204.3 528.7 204.7 529.1C205 529.5 206.2 528.7 207.3 528.1C208.4 527.5 210.8 525.9 211.5 525.5" fill="none" stroke="#2f72bb" stroke-width="1.25" stroke-linecap="round" stroke-linejoin="round"/>
<path d="M221.5 506C221.8 505.5 222.6 505.2 222.8 505.5C223 505.8 222.8 507.5 222.5 508C222.2 508.5 221.2 508.8 221 508.5C220.8 508.2 221.2 506.5 221.5 506Z" fill="#f5d640"/>
<path d="M223.4 504.1C223.4 504.6 223.7 506.4 223.4 507.3C223.2 508.2 222.6 509 221.9 509.4C221.2 509.8 219.7 509.4 219.3 509.4" fill="none" stroke="#2f72bb" stroke-width="1.25" stroke-linecap="round" stroke-linejoin="round"/>
<path d="M247.4 503.6C247.6 503.3 248.2 504.3 248.5 505C248.8 505.7 249.2 507.5 249 507.8C248.8 508.1 247.9 507.7 247.6 507C247.3 506.3 247.2 503.9 247.4 503.6Z" fill="#f5d640"/>
<path d="M245.3 500.5C245.2 501.2 244.6 503.4 244.8 504.7C245 506 245.5 507.4 246.4 508.3C247.3 509.2 249.4 509.6 250 509.9" fill="none" stroke="#2f72bb" stroke-width="1.25" stroke-linecap="round" stroke-linejoin="round"/>
<path d="M247.4 522.4C247.1 522.6 245.7 523.3 245.3 523.9C245 524.5 245 525.4 245.3 526C245.6 526.6 246.6 527.3 246.9 527.6" fill="none" stroke="#2f72bb" stroke-width="1.25" stroke-linecap="round" stroke-linejoin="round"/>
<circle cx="229.2" cy="521.5" r="1.2" fill="#ec8a30"/>
<circle cx="236.7" cy="542.4" r="1.2" fill="#ec8a30"/>
<path d="M263.5 524.5C263.3 525.2 262.4 527.1 262.5 528.6C262.6 530.1 263.8 532.9 264.1 533.8" fill="none" stroke="#f7e27a" stroke-width="1.3" stroke-linecap="round" stroke-linejoin="round"/>
<path d="M324.3 501.2C325.5 500.3 328.2 498.9 329.8 498.8C331.4 498.7 332.7 500 334.1 500.6C335.5 501.2 337.4 501.5 338.4 502.5C339.4 503.5 340.2 505.3 340.3 506.8C340.4 508.3 339.8 510.4 339 511.7C338.2 513 336.6 514.2 335.4 514.8C334.2 515.4 333.1 515.6 331.7 515.4C330.3 515.2 328.2 514.5 326.8 513.5C325.4 512.5 323.8 510.7 323.1 509.2C322.4 507.7 322.2 505.6 322.4 504.3C322.6 503 323.1 502.1 324.3 501.2Z" fill="url(#gMY2)"/>
<path d="M324.3 518.4C325.3 517.8 329.4 517.5 331.7 517.2C333.9 516.9 336 516.5 337.8 516.6C339.6 516.7 342.5 517.4 342.7 517.8C342.9 518.2 340.8 518.7 339 519.1C337.2 519.5 333.9 520 331.7 520.3C329.4 520.6 326.7 521.2 325.5 520.9C324.3 520.6 323.3 519 324.3 518.4Z" fill="url(#gMY2)"/>
<path d="M320.6 514.1C320.9 513.8 321.6 512.7 322.4 512.3C323.2 511.9 324.6 511.5 325.5 511.7C326.4 511.9 327.4 512.9 328 513.5C328.6 514.1 329 515.1 329.2 515.4" fill="none" stroke="#2f72bb" stroke-width="1.25" stroke-linecap="round" stroke-linejoin="round"/>
<path d="M309.5 520.3C310.2 520.5 310.9 522.6 311.4 524C311.9 525.4 311.9 527.3 312.6 528.9C313.3 530.5 314.9 532.6 315.7 533.8C316.5 535 317.7 535.3 317.5 536.3C317.3 537.3 315.6 539 314.5 540C313.4 541 312.2 542 310.8 542.4C309.4 542.8 307.2 543 305.8 542.4C304.4 541.8 303 540.3 302.2 538.7C301.4 537.1 300.7 534.7 300.9 532.6C301.1 530.5 302.4 528 303.4 526.4C304.4 524.8 306.1 523.8 307.1 522.8C308.1 521.8 308.8 520.1 309.5 520.3Z" fill="url(#gMY2)"/>
<path d="M309.1 520.5C309.4 520.8 310.6 521.3 310.9 521.9C311.2 522.5 310.7 523.4 310.9 524.1C311.1 524.7 312.1 525.1 312.2 525.8C312.3 526.4 311.3 527.3 311.6 528C311.9 528.7 313.8 529.2 314.2 529.9C314.7 530.6 314 531.6 314.3 532.2C314.6 532.8 315.8 533 316.1 533.5C316.4 534 316 534.9 316.2 535.3C316.4 535.8 317.3 536.1 317.5 536.3" fill="none" stroke="#2f72bb" stroke-width="1.25" stroke-linecap="round" stroke-linejoin="round"/>
<path d="M348.9 509.2C349.9 508.1 352.9 510.2 355 511.1C357.1 512 359.6 513.5 361.2 514.8C362.8 516.1 364.1 517.6 364.9 519.1C365.7 520.6 366.1 522.4 366.1 524C366.1 525.6 365.9 527.6 364.9 528.9C363.9 530.2 361.6 531.8 360 532C358.4 532.2 356.4 531.2 355 530.1C353.6 529 352.3 527.2 351.3 525.2C350.3 523.2 349.3 520.5 348.9 517.8C348.5 515.1 347.9 510.3 348.9 509.2Z" fill="url(#gMY2)"/>
<path d="M363 516.6C363.4 517.4 365.1 519.9 365.5 521.5C365.9 523.1 365.8 525 365.5 526.4C365.2 527.8 364.7 529.1 363.7 530.1C362.7 531.1 360 532.2 359.3 532.6" fill="none" stroke="#2f72bb" stroke-width="1.25" stroke-linecap="round" stroke-linejoin="round"/>
<path d="M325.5 536.9C326.7 535.8 329 534.9 330.4 534.4C331.8 533.9 333.7 533.1 334.1 533.8C334.5 534.5 333.3 537.1 332.9 538.7C332.5 540.4 331.7 542.2 331.7 543.7C331.7 545.2 332.9 546 332.9 547.4C332.9 548.8 332.7 551.5 331.7 552.3C330.7 553.1 328.1 553.1 326.8 552.3C325.5 551.5 324.3 549.2 323.7 547.4C323.1 545.5 322.8 543 323.1 541.2C323.4 539.5 324.3 538 325.5 536.9Z" fill="url(#gMY2)"/>
<path d="M361.2 540C362.4 538.8 365.6 540.6 367.3 541.2C369 541.8 370.3 542.6 371.6 543.7C372.9 544.8 374.2 546.1 375 548C375.8 549.9 376.5 552.7 376.3 555C376.1 557.3 375.4 560.7 374 561.9C372.6 563.1 369.9 563.2 368 562.4C366.1 561.6 364.1 559.3 362.8 557C361.5 554.7 360.3 551.2 360 548.4C359.7 545.6 360 541.2 361.2 540Z" fill="url(#gMY2)"/>
<path d="M324.9 524.6C325.4 524.5 327.6 524.8 328 525C328.4 525.2 328 525.9 327.5 526C327 526.1 325.4 526 325 525.8C324.6 525.6 324.4 524.7 324.9 524.6Z" fill="#ec8a30"/>
<path d="M345.2 540.6C345.5 540.4 346.7 540.5 347.5 541C348.3 541.5 349.8 542.9 350.1 543.5C350.4 544.1 350 544.9 349.5 544.9C349 544.9 347.7 543.9 347 543.5C346.3 543.1 345.8 543 345.5 542.5C345.2 542 344.9 540.9 345.2 540.6Z" fill="#ec8a30"/>
<path d="M393.7 507.4C393.7 508.1 392.8 508.9 392.3 509.5C391.8 510.1 391.3 511 390.6 511.2C389.9 511.5 388.9 511 388.1 510.8C387.3 510.6 386.2 510.4 385.8 509.8C385.3 509.3 385.4 508.2 385.4 507.4C385.4 506.6 385.3 505.5 385.8 505C386.2 504.4 387.3 504.2 388.1 504C388.9 503.7 389.9 503.3 390.6 503.5C391.3 503.8 391.9 504.6 392.4 505.3C392.9 505.9 393.7 506.7 393.7 507.4Z" fill="url(#gFrost)"/>
<path d="M391.4 514.6C391.4 515.2 390.8 515.9 390.3 516.5C389.9 517 389.4 517.8 388.7 517.9C388.1 518.1 387.3 517.8 386.6 517.5C385.9 517.3 385 517.2 384.6 516.7C384.2 516.2 384.3 515.3 384.2 514.6C384.2 513.9 384.1 512.9 384.5 512.4C384.8 511.9 385.8 511.8 386.6 511.6C387.3 511.4 388.2 511 388.8 511.2C389.4 511.3 389.8 512.2 390.3 512.8C390.7 513.3 391.4 514 391.4 514.6Z" fill="url(#gFrost)"/>
<path d="M380 514C380 514.5 379.3 515.1 378.9 515.6C378.5 516.1 378.2 516.9 377.7 517.1C377.1 517.2 376.4 516.7 375.7 516.5C375.1 516.3 374.2 516.3 373.8 515.9C373.5 515.5 373.7 514.6 373.7 514C373.7 513.4 373.6 512.6 374 512.2C374.3 511.7 375.1 511.6 375.7 511.4C376.3 511.2 377.1 510.9 377.6 511.1C378.1 511.2 378.5 512 378.9 512.4C379.3 512.9 380 513.5 380 514Z" fill="url(#gFrost)"/>
<path d="M405.7 502.5C405.7 503.1 405 503.7 404.6 504.3C404.1 504.9 403.7 505.8 403.1 506C402.5 506.2 401.6 505.7 400.9 505.5C400.2 505.3 399.2 505.1 398.8 504.6C398.4 504.1 398.6 503.2 398.6 502.5C398.6 501.8 398.5 500.9 398.9 500.4C399.3 499.9 400.2 499.7 400.9 499.5C401.6 499.3 402.5 498.8 403.1 499C403.7 499.2 404.1 500.1 404.6 500.7C405 501.2 405.7 501.9 405.7 502.5Z" fill="url(#gFrost)"/>
<path d="M413 513.5C413 513.9 412.3 514.3 412 514.8C411.7 515.2 411.5 515.9 411.1 516C410.6 516.2 410 515.8 409.5 515.6C408.9 515.5 408.2 515.4 407.9 515.1C407.6 514.7 407.9 514 407.9 513.5C407.9 513 407.7 512.3 407.9 511.9C408.2 511.6 409 511.6 409.5 511.4C410 511.3 410.6 510.9 411 511C411.5 511.2 411.8 511.8 412.1 512.2C412.4 512.6 413 513.1 413 513.5Z" fill="url(#gFrost)"/>
<path d="M409 518.4C409 519 408.3 519.7 407.8 520.2C407.4 520.8 407 521.6 406.4 521.8C405.8 522 404.9 521.6 404.2 521.4C403.5 521.2 402.5 521.1 402.1 520.6C401.7 520.1 401.9 519.1 401.9 518.4C401.9 517.7 401.7 516.8 402.1 516.3C402.5 515.8 403.5 515.6 404.2 515.4C404.9 515.2 405.8 514.7 406.4 514.9C407 515.1 407.5 516 407.9 516.5C408.3 517.1 409 517.8 409 518.4Z" fill="url(#gFrost)"/>
<path d="M400.5 526.1C400.5 527 399.6 528.2 399.2 528.8C398.9 529.5 398.7 529.7 398.3 530C397.9 530.3 397.3 530.3 396.8 530.4C396.3 530.6 395.8 530.9 395.3 530.9C394.8 530.9 394.3 530.5 393.8 530.4C393.3 530.3 392.7 530.3 392.3 530.1C391.9 529.8 391.7 529.5 391.4 528.8C391 528.2 390.1 527 390.1 526.1C390.1 525.2 391 524 391.4 523.4C391.8 522.7 391.9 522.5 392.3 522.2C392.8 522 393.3 521.9 393.8 521.8C394.3 521.6 394.8 521.4 395.3 521.4C395.8 521.4 396.3 521.6 396.8 521.7C397.3 521.9 397.9 521.9 398.3 522.2C398.7 522.4 398.8 522.7 399.2 523.4C399.6 524.1 400.5 525.2 400.5 526.1Z" fill="url(#gFrost)"/>
<path d="M393.7 528.3C393.7 528.9 392.9 529.6 392.5 530.2C392 530.7 391.6 531.5 390.9 531.7C390.3 531.8 389.5 531.5 388.8 531.2C388.1 531 387.2 530.9 386.8 530.4C386.4 529.9 386.5 529 386.5 528.3C386.5 527.6 386.3 526.6 386.7 526.2C387.1 525.7 388.1 525.5 388.8 525.3C389.5 525.1 390.4 524.6 391 524.8C391.6 525 392.1 525.8 392.5 526.4C393 527 393.7 527.7 393.7 528.3Z" fill="url(#gFrost)"/>
<path d="M395.7 538.2C395.7 538.9 395.1 539.7 394.6 540.3C394.1 541 393.6 541.9 392.9 542.2C392.1 542.4 391.1 541.9 390.3 541.7C389.5 541.4 388.5 541.1 388.1 540.6C387.7 540 387.7 539 387.7 538.2C387.7 537.4 387.7 536.4 388.1 535.9C388.6 535.3 389.5 535 390.3 534.8C391.1 534.5 392.1 534.1 392.8 534.3C393.5 534.5 394.1 535.4 394.6 536.1C395.1 536.7 395.7 537.5 395.7 538.2Z" fill="url(#gFrost)"/>
<path d="M410 538.2C410 539 409.2 539.9 408.7 540.6C408.1 541.3 407.5 542.3 406.7 542.5C405.9 542.8 404.8 542.4 403.9 542.1C403 541.9 401.8 541.6 401.3 540.9C400.8 540.3 400.9 539.1 400.9 538.2C400.9 537.3 400.8 536.2 401.3 535.5C401.8 534.9 403 534.6 403.9 534.3C404.8 534 405.9 533.6 406.7 533.8C407.5 534.1 408.2 535 408.7 535.8C409.3 536.5 410 537.4 410 538.2Z" fill="url(#gFrost)"/>
<path d="M424.8 537.1C424.8 537.8 424.2 538.6 423.7 539.3C423.3 539.9 422.7 540.8 421.9 541C421.2 541.2 420.2 540.8 419.4 540.5C418.6 540.3 417.6 540 417.2 539.5C416.7 538.9 416.8 537.9 416.8 537.1C416.7 536.3 416.6 535.2 417.1 534.7C417.5 534.1 418.6 533.9 419.4 533.7C420.3 533.4 421.2 532.9 421.9 533.2C422.7 533.4 423.2 534.3 423.7 535C424.2 535.6 424.8 536.4 424.8 537.1Z" fill="url(#gFrost)"/>
<path d="M402.4 551.4C402.4 552.2 401.6 553.1 401 553.8C400.5 554.5 399.8 555.5 399 555.7C398.2 556 397.1 555.6 396.2 555.3C395.2 555.1 394.1 554.8 393.6 554.1C393.1 553.5 393.1 552.3 393.2 551.4C393.2 550.5 393.1 549.4 393.6 548.7C394.1 548.1 395.3 547.8 396.2 547.5C397.1 547.3 398.2 546.8 399 547C399.8 547.3 400.4 548.3 401 549C401.5 549.7 402.3 550.6 402.4 551.4Z" fill="url(#gFrost)"/>
<path d="M426.7 523.9C426.7 524.3 426.1 524.8 425.8 525.2C425.5 525.6 425.2 526.4 424.8 526.5C424.4 526.7 423.7 526.2 423.2 526.1C422.6 525.9 421.8 525.9 421.6 525.5C421.3 525.2 421.6 524.4 421.6 523.9C421.6 523.4 421.3 522.7 421.6 522.3C421.9 522 422.6 521.9 423.2 521.8C423.7 521.6 424.3 521.3 424.8 521.4C425.2 521.6 425.4 522.2 425.7 522.6C426 523.1 426.7 523.5 426.7 523.9Z" fill="url(#gFrost)"/>
<path d="M421.7 528.3C421.7 528.8 421.1 529.4 420.7 529.9C420.4 530.4 420 531.2 419.5 531.4C418.9 531.5 418.2 531 417.5 530.8C416.9 530.6 416.1 530.6 415.7 530.1C415.4 529.7 415.6 528.9 415.6 528.3C415.7 527.7 415.5 526.9 415.8 526.5C416.1 526.1 416.9 525.9 417.5 525.7C418.1 525.5 418.9 525.2 419.4 525.4C419.9 525.5 420.3 526.2 420.7 526.7C421.1 527.2 421.7 527.8 421.7 528.3Z" fill="url(#gFrost)"/>
<path d="M375.5 504.1C375.8 503.9 376.9 503.3 377.5 503C378.1 502.7 379.1 502.6 379.4 502.5" fill="none" stroke="#2f72bb" stroke-width="1.25" stroke-linecap="round" stroke-linejoin="round"/>
<path d="M375 509C375.3 509.1 376.4 509.4 377 509.5C377.6 509.6 378.5 509.6 378.8 509.6" fill="none" stroke="#2f72bb" stroke-width="1.25" stroke-linecap="round" stroke-linejoin="round"/>
<path d="M382.1 506.3C382.2 506.7 382.6 508.1 382.7 508.5" fill="none" stroke="#2f72bb" stroke-width="1.25" stroke-linecap="round" stroke-linejoin="round"/>
<path d="M404.7 501.9C405.1 501.6 406.3 500.2 406.9 500.3C407.5 500.4 408.2 502.1 408.5 502.5" fill="none" stroke="#2f72bb" stroke-width="1.25" stroke-linecap="round" stroke-linejoin="round"/>
<path d="M404.7 523.4C405 523.2 405.9 522.5 406.5 522C407.1 521.5 408.2 520.8 408.5 520.6" fill="none" stroke="#2f72bb" stroke-width="1.25" stroke-linecap="round" stroke-linejoin="round"/>
<path d="M405.2 526.7C405.3 527.3 405.7 529.9 405.8 530.5" fill="none" stroke="#2f72bb" stroke-width="1.25" stroke-linecap="round" stroke-linejoin="round"/>
<path d="M409.6 527.2C409.7 527.7 410.1 529.5 410.2 530" fill="none" stroke="#2f72bb" stroke-width="1.25" stroke-linecap="round" stroke-linejoin="round"/>
<circle cx="377.5" cy="506.5" r="0.7" fill="#e8a040"/>
<circle cx="407.3" cy="525" r="0.7" fill="#e8a040"/>
<!-- pluses -->
<g stroke="#9a9a9a" stroke-width="1.8" fill="none">
<path d="M168.7 90.3h11M174.2 84.8v11"/>
<path d="M304.9 90.3h11M310.4 84.8v11"/>
<path d="M429 90.2h11M434.5 84.7v11"/>
<path d="M563.6 90.4h11M569.1 84.9v11"/>
<path d="M197.3 257.3h11M202.8 251.8v11"/>
<path d="M289.4 257.4h11M294.9 251.9v11"/>
<path d="M276.9 396.3h11M282.4 390.8v11"/>
<path d="M443.1 396.3h11M448.6 390.8v11"/>
<path d="M125.6 532.8h11M131.1 527.3v11"/>
<path d="M275.8 532.4h11M281.3 526.9v11"/>
</g>
<!-- equals -->
<g stroke="#9a9a9a" stroke-width="1.6" fill="none">
<path d="M396.8 255.6h10.7M396.8 258.8h10.7"/>
<path d="M434.3 530.9h10.5M434.3 534.1h10.5"/>
</g>
<!-- brackets -->
<g stroke="#c4c4c4" stroke-width="1.05" fill="none">
<path d="M198.3 162.2V169.3H356M512 169.3H668.4V162.1"/>
<path d="M214.6 308.3V316H251.7M339.3 316H378V309"/>
<path d="M300.3 444.6V452.4H363.6M521 452.4H585.3V445.2"/>
<path d="M139.6 577.6V585.4H203.6M360 585.4H424.4V578.2"/>
</g>
<!-- circled numbers -->
<g fill="none" stroke="#3a3a3a" stroke-width="0.95">
<circle cx="199.5" cy="37.1" r="4.75"/>
<circle cx="329.5" cy="41.2" r="4.75"/>
<circle cx="463.8" cy="37.1" r="4.75"/>
<circle cx="582" cy="37.7" r="4.75"/>
<circle cx="212.8" cy="282.6" r="4.75"/>
<circle cx="308.6" cy="282.5" r="4.75"/>
<circle cx="302.9" cy="348.5" r="4.75"/>
<circle cx="473.1" cy="348.7" r="4.75"/>
<circle cx="150.7" cy="485" r="4.75"/>
<circle cx="307.1" cy="484.4" r="4.75"/>
</g>
<g font-family="Liberation Sans" font-size="8.2" fill="#1a1a1a" stroke="#1a1a1a" stroke-width="0.15" text-anchor="middle">
<text x="199.5" y="40.0">1</text>
<text x="329.5" y="44.1">3</text>
<text x="463.8" y="40.0">2</text>
<text x="582" y="40.6">3</text>
<text x="212.8" y="285.5">2</text>
<text x="308.6" y="285.4">1</text>
<text x="302.9" y="351.4">4</text>
<text x="473.1" y="351.6">5</text>
<text x="150.7" y="487.9">4</text>
<text x="307.1" y="487.3">5</text>
</g>
</svg>

<div class="t ttl" style="left:205px;top:14.9px">Build-A-Garden: Daffodil Delight Stamp &amp; Stencil Layering Guide</div>

<div class="t cap" style="left:-42px;top:165px">Build-A-Garden:</div>
<div class="t cap" style="left:-42px;top:177.5px;letter-spacing:-0.56px">Daffodil Delight Stamp Set</div>
<div class="t cap" style="left:283px;top:165px">Build-A-Garden: Daffodil Delight</div>
<div class="t cap" style="left:283px;top:177.5px;letter-spacing:-0.64px">Simple Coloring Stencil Set (5 in 1)</div>

<div class="t cap" style="left:145px;top:310px">Build-A-Garden:</div>
<div class="t cap" style="left:146px;top:322.5px;letter-spacing:-0.56px">Daffodil Delight Simple Coloring Stencil Set (5 in 1)</div>

<div class="t cap" style="left:51px;top:447px">Build-A-Garden:</div>
<div class="t cap" style="left:51px;top:459.5px;letter-spacing:-0.56px">Daffodil Delight Stamp Set</div>
<div class="t cap" style="left:293px;top:447px">Build-A-Garden: Daffodil Delight</div>
<div class="t cap" style="left:293px;top:459.5px;letter-spacing:-0.64px">Simple Coloring Stencil Set (5 in 1)</div>

<div class="t cap" style="left:132px;top:580px">Build-A-Garden: Daffodil Delight</div>
<div class="t cap" style="left:132px;top:592.5px;letter-spacing:-0.64px">Simple Coloring Stencil Set (5 in 1)</div>

<div class="t ink" style="left:15px;top:234.6px;font-weight:bold;color:#1e1e1e;font-size:10.2px;letter-spacing:-0.4px">Inks:</div>
<div class="sw" style="top:246.4px;background:#141414"></div>
<div class="sw" style="top:261.6px;background:#f6c6c0"></div>
<div class="sw" style="top:276.8px;background:#f4bb9c"></div>
<div class="sw" style="top:292px;background:#fbcf7e"></div>
<div class="sw" style="top:307.2px;background:#f9d56c"></div>
<div class="sw" style="top:322.4px;background:#f8b46c"></div>
<div class="sw" style="top:337.6px;background:#f3992e"></div>
<div class="sw" style="top:352.8px;background:#fcd60a"></div>
<div class="sw" style="top:368px;background:#f08647"></div>
<div class="sw" style="top:383.2px;background:#ede3df"></div>
<div class="sw" style="top:398.4px;background:#d2e6d2"></div>
<div class="sw" style="top:413.6px;background:#6aab44"></div>
<div class="sw" style="top:428.8px;background:#179c4b"></div>
<div class="t ink" style="left:32px;top:247px">Obsidian</div>
<div class="t ink" style="left:32px;top:262.2px">Pastel Sunrise</div>
<div class="t ink" style="left:32px;top:277.4px">Peach Perfect</div>
<div class="t ink" style="left:32px;top:292.6px">Sunray</div>
<div class="t ink" style="left:32px;top:307.8px">Warm Sunshine</div>
<div class="t ink" style="left:32px;top:323px">Chamomile</div>
<div class="t ink" style="left:32px;top:338.2px">Snapdragon</div>
<div class="t ink" style="left:32px;top:353.4px">Maple Yellow</div>
<div class="t ink" style="left:32px;top:368.6px">Marigold</div>
<div class="t ink" style="left:32px;top:383.8px">Morning Frost</div>
<div class="t ink" style="left:32px;top:399px">Minty Mint</div>
<div class="t ink" style="left:32px;top:414.2px">Grass Field</div>
<div class="t ink" style="left:32px;top:429.4px">Just Green</div>
</body></html>
